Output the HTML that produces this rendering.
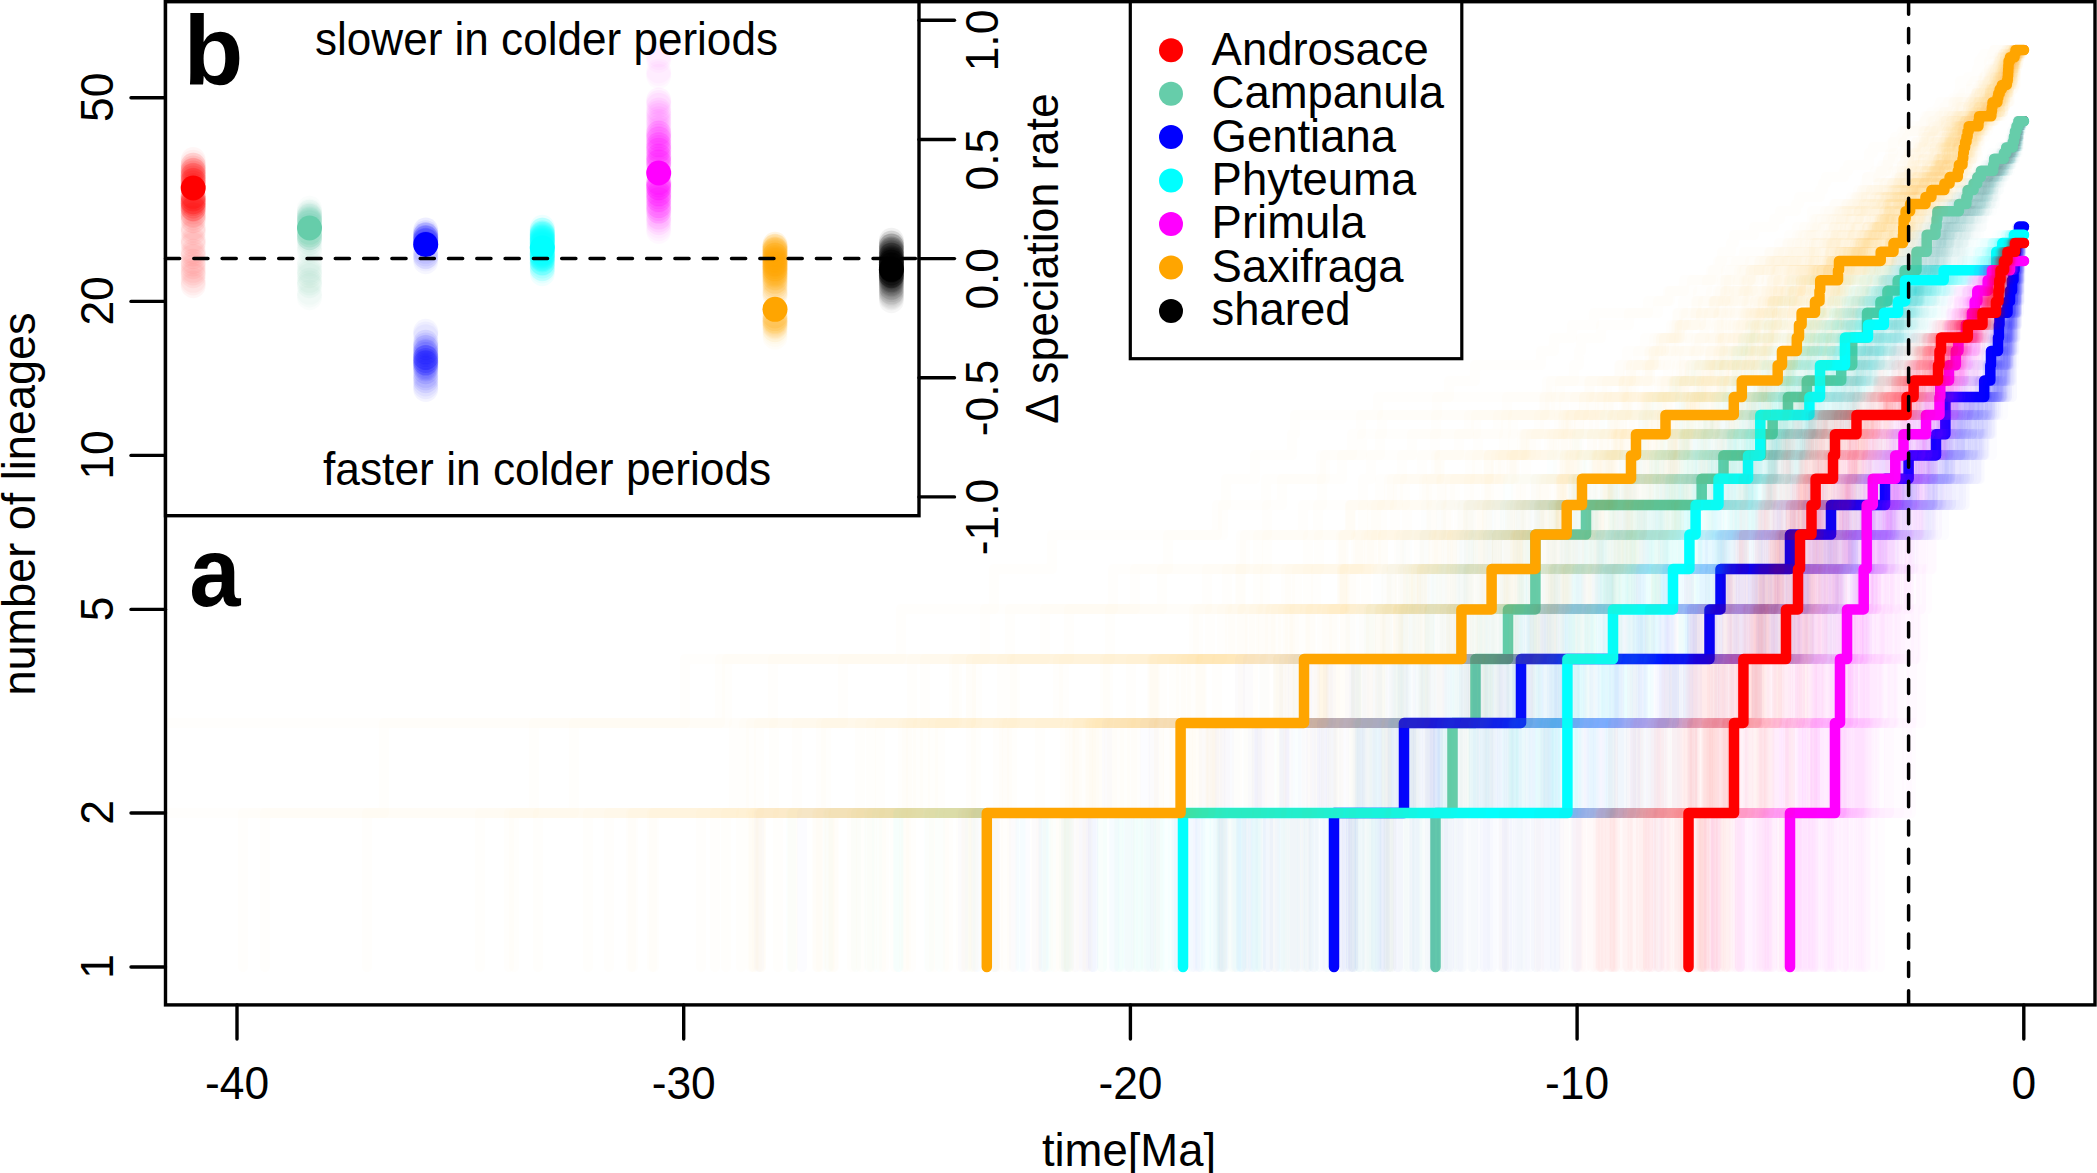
<!DOCTYPE html>
<html lang="en"><head><meta charset="utf-8"><title>Lineages through time</title>
<style>html,body{margin:0;padding:0;background:#fff}svg{display:block}</style></head>
<body>
<svg width="2097" height="1173" viewBox="0 0 2097 1173">
<rect width="2097" height="1173" fill="#fff"/>
<defs><clipPath id="cp"><rect x="167" y="4" width="1926" height="999"/></clipPath></defs>
<g clip-path="url(#cp)" fill="none" stroke-linecap="round" stroke-linejoin="round" stroke-width="10.5">
<g stroke="#66CDAA" stroke-opacity="0.012">
<path d="M1427 967v-154h62v-90h8v-64h19v-50h52v-40h10v-34h10v-30h98v-26h52v-24h34v-21h18v-19h18v-18h42v-16h3v-16h12v-14h39v-38h6v-12h7v-21h2v-10h14v-18h8v-17h3v-8h5v-8h4v-8h26v-7h5v-14h2v-13h5v-6h13v-6h2v-6h3v-6h2v-6h6v-16h3v-10h4"/>
<path d="M1360 967v-154h12v-90h33v-64h37v-50h13v-40h2v-34h121v-30h27v-26h36v-24h35v-21h4v-19h58v-18h32v-16h43v-16h31v-14h3v-13h10v-25h17v-12h9v-21h12v-10h8v-9h7v-9h15v-17h3v-8h24v-8h4v-8h3v-7h3v-14h11v-7h2v-6h3v-6h7v-6h6v-6h11v-6h3v-6h7v-10h3v-11h3v-5h6"/>
<path d="M1556 967v-154h57v-90h5v-64h20v-50h10v-40h40v-34h22v-30h68v-26h36v-24h19v-21h3v-19h19v-18h5v-16h37v-16h17v-14h4v-13h3v-25h3v-12h11v-10h17v-11h3v-10h7v-18h2v-17h6v-8h11v-8h2v-8h5v-7h2v-7h3v-14h6v-6h3v-6h6v-12h7v-12h3v-16h2v-10h4"/>
<path d="M1430 967v-154h8v-90h14v-114h16v-40h26v-34h41v-30h218v-26h4v-24h4v-21h18v-19h4v-18h36v-16h2v-16h11v-14h21v-13h15v-13h2v-12h28v-22h13v-11h4v-10h8v-9h10v-9h2v-9h2v-8h9v-8h4v-8h4v-8h3v-7h22v-7h2v-14h3v-6h2v-6h9v-6h13v-12h3v-6h4v-10h2v-11h3v-5h4"/>
<path d="M1288 967v-154h12v-90h56v-64h23v-50h13v-40h105v-34h99v-30h36v-26h75v-24h23v-21h6v-19h29v-18h9v-16h57v-16h29v-14h6v-13h11v-25h4v-22h2v-11h20v-10h12v-9h2v-26h13v-8h13v-8h6v-8h3v-7h14v-7h5v-7h10v-7h4v-6h3v-6h6v-12h7v-6h10v-11h2v-11h5v-5h2v-5h4"/>
<path d="M1285 967v-154h51v-90h20v-64h91v-50h38v-40h102v-34h28v-30h8v-26h50v-24h62v-21h9v-19h7v-18h31v-16h7v-16h23v-14h5v-13h3v-13h20v-12h22v-12h23v-10h10v-11h22v-10h4v-9h3v-9h12v-17h4v-16h3v-8h6v-7h8v-7h11v-7h3v-13h13v-6h14v-6h2v-12h12v-11h3v-11h2v-10h7"/>
<path d="M1443 967v-154h53v-90h7v-64h30v-50h25v-40h17v-34h42v-30h114v-26h24v-24h14v-21h31v-19h7v-18h41v-16h4v-16h14v-14h18v-13h11v-13h4v-12h6v-12h2v-10h9v-21h3v-18h2v-9h14v-8h5v-8h4v-8h18v-8h4v-7h3v-7h4v-7h7v-7h6v-6h3v-6h9v-12h11v-6h2v-11h6v-16h3v-5h4"/>
<path d="M1410 967v-154h17v-90h61v-64h41v-50h24v-40h12v-34h32v-30h104v-26h11v-24h53v-21h8v-19h28v-18h7v-16h43v-16h7v-14h3v-13h16v-13h20v-12h3v-12h5v-10h2v-11h12v-10h7v-9h3v-9h12v-17h9v-8h9v-8h6v-8h5v-14h12v-14h4v-6h9v-6h2v-6h9v-18h9v-5h2v-11h3v-10h4"/>
<path d="M1409 967v-154h81v-154h13v-50h6v-40h15v-34h62v-30h124v-26h16v-24h49v-21h35v-19h10v-18h3v-16h38v-16h6v-14h3v-13h11v-13h6v-12h11v-22h17v-11h2v-10h10v-9h9v-9h9v-9h5v-8h3v-8h8v-16h13v-7h6v-7h6v-7h4v-7h4v-6h4v-6h2v-6h4v-6h4v-6h3v-6h3v-5h2v-5h2v-16h6"/>
<path d="M1270 967v-154h115v-90h11v-64h10v-50h36v-40h42v-34h7v-30h131v-26h8v-24h66v-21h6v-19h49v-18h20v-16h13v-16h34v-14h17v-13h13v-13h9v-12h20v-12h3v-10h6v-11h9v-10h6v-9h11v-18h5v-8h15v-8h3v-8h5v-8h13v-7h21v-14h2v-7h10v-6h3v-6h10v-6h4v-12h3v-6h8v-16h4v-10h6"/>
<path d="M1370 967v-244h24v-64h6v-50h100v-40h19v-34h44v-30h64v-26h117v-24h30v-21h4v-19h6v-18h33v-16h3v-30h2v-13h8v-13h7v-12h7v-12h55v-10h2v-11h12v-10h2v-18h8v-9h4v-8h8v-8h14v-8h3v-8h9v-7h7v-14h5v-7h6v-12h16v-6h3v-6h7v-6h8v-6h2v-10h2v-11h2v-5h5"/>
<path d="M1555 967v-154h2v-90h17v-64h2v-50h54v-40h34v-34h13v-30h92v-26h4v-24h42v-21h33v-19h21v-18h4v-16h30v-30h3v-13h6v-13h5v-24h3v-10h15v-11h6v-10h6v-9h3v-9h2v-9h12v-8h2v-16h7v-8h6v-7h4v-7h5v-7h3v-13h6v-6h9v-12h6v-6h3v-6h2v-10h2v-11h2v-5h3"/>
<path d="M1328 967v-154h32v-90h17v-64h24v-50h2v-40h4v-34h90v-30h76v-26h104v-24h29v-21h8v-19h38v-18h47v-16h4v-16h16v-14h16v-13h10v-13h5v-12h18v-12h4v-10h11v-11h6v-10h6v-9h2v-9h7v-17h19v-8h6v-8h4v-8h24v-7h7v-7h2v-14h15v-6h8v-6h11v-12h2v-6h6v-6h6v-10h2v-6h2v-10h6"/>
<path d="M1547 967v-154h5v-90h7v-64h60v-50h6v-40h44v-34h24v-30h31v-26h47v-24h56v-21h18v-19h17v-18h18v-32h14v-14h3v-13h2v-25h7v-12h25v-10h3v-11h18v-10h6v-18h2v-9h3v-8h3v-8h3v-16h11v-7h15v-14h4v-7h2v-6h2v-6h2v-6h4v-6h3v-12h6v-16h3v-10h3"/>
<path d="M1389 967v-154h3v-90h31v-64h10v-50h36v-40h58v-34h62v-30h95v-26h17v-24h18v-21h39v-37h65v-16h17v-16h4v-14h9v-13h3v-13h24v-12h10v-12h14v-10h2v-11h7v-10h2v-9h4v-9h18v-9h6v-8h7v-8h5v-8h4v-15h12v-14h5v-13h6v-6h18v-6h2v-6h4v-6h2v-6h8v-16h2v-5h2v-5h4"/>
<path d="M1443 967v-154h45v-90h8v-64h5v-50h30v-40h4v-34h37v-30h143v-26h19v-24h54v-40h3v-18h11v-16h68v-30h5v-13h13v-13h14v-12h10v-22h20v-21h2v-18h14v-9h2v-16h6v-8h4v-8h21v-14h3v-14h6v-12h11v-6h3v-12h8v-11h6v-21h6"/>
<path d="M1485 967v-154h31v-90h11v-64h39v-50h45v-40h23v-34h20v-30h82v-26h37v-45h77v-19h5v-18h19v-32h8v-14h22v-13h6v-13h5v-12h10v-12h9v-10h10v-21h4v-9h3v-9h7v-17h3v-16h7v-8h11v-7h7v-7h3v-7h5v-13h8v-12h4v-6h5v-6h4v-6h3v-16h2v-5h2v-5h2"/>
<path d="M1347 967v-154h24v-90h18v-64h34v-50h6v-40h59v-34h39v-30h171v-26h6v-24h4v-21h33v-19h34v-18h8v-16h7v-16h26v-14h6v-13h24v-13h2v-12h8v-12h29v-10h4v-11h5v-19h8v-9h10v-9h17v-8h5v-8h8v-8h7v-8h6v-7h8v-7h8v-14h7v-6h11v-6h10v-6h3v-6h5v-6h2v-6h3v-5h3v-11h2v-10h7"/>
<path d="M1372 967v-154h15v-90h19v-64h8v-50h48v-40h117v-34h98v-30h36v-26h7v-24h23v-21h23v-19h43v-18h37v-32h9v-14h28v-13h5v-13h13v-12h7v-12h6v-10h6v-11h5v-10h16v-18h2v-17h3v-8h5v-8h6v-8h4v-7h3v-7h15v-7h5v-7h3v-6h12v-6h3v-12h6v-6h6v-11h3v-11h2v-10h5"/>
<path d="M1536 967v-154h45v-90h5v-64h13v-50h16v-40h48v-34h2v-30h123v-26h12v-24h21v-21h28v-19h6v-18h11v-16h38v-16h5v-14h11v-13h2v-13h4v-24h6v-10h4v-11h10v-10h13v-9h4v-18h3v-8h9v-16h2v-8h8v-7h6v-7h4v-7h4v-13h6v-12h5v-6h4v-12h3v-5h2v-16h2v-5h3"/>
<path d="M1403 967v-154h13v-90h54v-64h61v-50h64v-40h4v-34h84v-30h42v-26h12v-24h39v-21h26v-19h14v-18h40v-16h2v-16h14v-14h19v-26h9v-12h6v-12h7v-10h18v-11h2v-10h6v-9h5v-18h5v-16h12v-8h9v-8h6v-7h2v-14h12v-13h2v-6h8v-6h7v-6h4v-12h5v-10h2v-6h2v-10h4"/>
<path d="M1472 967v-154h17v-90h46v-64h26v-50h39v-40h3v-34h12v-30h86v-26h85v-24h4v-21h7v-19h9v-18h40v-16h11v-16h18v-14h20v-13h5v-13h4v-12h3v-12h14v-10h16v-11h2v-10h4v-9h4v-18h5v-8h9v-8h7v-16h5v-14h9v-7h9v-13h2v-6h13v-6h2v-6h2v-6h3v-6h4v-21h3v-5h4"/>
<path d="M1463 967v-154h32v-90h24v-64h24v-50h34v-40h34v-34h29v-30h108v-26h4v-24h5v-21h13v-19h31v-18h34v-16h21v-16h13v-14h14v-13h18v-25h6v-12h11v-10h6v-11h2v-19h16v-9h4v-9h2v-8h12v-24h13v-7h11v-7h3v-7h2v-13h5v-6h9v-6h2v-6h3v-6h3v-6h3v-10h5v-16h5"/>
<path d="M1215 967v-154h33v-90h108v-64h31v-50h45v-40h44v-34h59v-30h46v-26h43v-24h48v-21h72v-19h13v-18h7v-16h21v-16h21v-14h18v-13h3v-13h34v-12h4v-12h5v-10h9v-11h14v-10h3v-9h17v-9h14v-9h9v-8h4v-16h4v-8h8v-7h3v-7h6v-7h15v-7h3v-6h11v-12h2v-6h9v-6h5v-6h6v-10h3v-11h3v-5h6"/>
<path d="M1327 967v-154h104v-90h42v-64h9v-90h58v-34h26v-30h135v-26h3v-24h23v-21h26v-19h5v-18h72v-16h14v-16h9v-14h11v-13h12v-13h16v-24h6v-10h10v-11h2v-10h12v-18h6v-9h8v-8h7v-16h11v-15h13v-7h4v-7h11v-13h8v-6h5v-6h3v-6h12v-6h2v-6h3v-5h2v-21h7"/>
<path d="M1286 967v-154h73v-90h99v-64h37v-50h3v-40h55v-64h149v-26h19v-24h11v-21h28v-19h10v-18h31v-16h21v-16h42v-14h7v-13h11v-13h4v-12h9v-22h3v-11h2v-10h22v-18h3v-9h8v-8h6v-8h4v-16h14v-7h15v-7h7v-7h3v-7h6v-12h9v-6h2v-12h12v-6h5v-10h3v-16h5"/>
<path d="M1492 967v-154h75v-154h16v-50h5v-40h7v-34h5v-30h70v-26h58v-24h47v-21h19v-19h10v-18h3v-16h69v-16h3v-27h18v-13h9v-12h9v-12h9v-10h5v-11h6v-19h5v-18h4v-8h8v-8h3v-8h6v-8h14v-7h6v-7h6v-7h4v-13h3v-6h6v-6h9v-6h5v-12h4v-21h3v-5h3"/>
<path d="M1452 967v-154h35v-90h17v-64h14v-50h37v-40h46v-34h57v-30h63v-26h5v-24h62v-21h18v-19h13v-18h31v-16h21v-16h2v-14h3v-13h35v-13h2v-12h7v-22h3v-11h14v-10h3v-9h5v-9h4v-17h3v-8h5v-8h21v-8h3v-7h3v-7h3v-14h7v-6h4v-6h2v-6h5v-12h8v-6h3v-5h2v-16h2v-5h4"/>
<path d="M1220 967v-154h136v-90h71v-64h18v-50h10v-40h6v-34h8v-30h145v-26h54v-24h30v-21h27v-19h7v-18h6v-16h41v-16h23v-14h29v-13h6v-25h20v-12h28v-21h11v-19h3v-9h3v-9h8v-8h14v-8h13v-8h8v-8h2v-7h4v-7h9v-7h7v-7h4v-6h8v-6h9v-6h7v-6h7v-12h12v-10h2v-11h2v-5h6"/>
<path d="M1367 967v-154h16v-90h16v-64h4v-50h2v-40h19v-34h64v-30h110v-26h62v-24h25v-21h30v-19h58v-18h20v-16h15v-16h23v-14h17v-13h2v-13h4v-12h25v-22h4v-11h34v-10h5v-18h3v-9h6v-8h6v-16h15v-8h2v-7h7v-7h14v-7h10v-13h2v-6h7v-6h4v-6h9v-6h4v-6h3v-5h2v-5h2v-11h2v-5h4"/>
<path d="M1400 967v-154h47v-90h39v-64h48v-50h68v-40h45v-34h2v-30h93v-26h25v-24h46v-21h10v-19h21v-18h12v-16h4v-16h19v-27h17v-13h10v-12h5v-12h7v-10h2v-11h2v-10h5v-9h7v-9h4v-9h12v-8h4v-8h9v-8h9v-8h8v-7h4v-7h2v-14h8v-6h4v-6h3v-12h9v-6h3v-11h2v-5h3v-11h3v-5h3"/>
<path d="M1266 967v-154h94v-90h21v-64h43v-50h56v-40h12v-34h16v-30h78v-26h53v-24h62v-21h32v-19h13v-18h55v-16h6v-16h2v-14h6v-13h30v-13h3v-12h27v-12h8v-10h2v-11h9v-10h2v-9h17v-9h13v-9h7v-8h10v-16h3v-8h15v-7h2v-7h8v-7h4v-7h8v-6h3v-6h6v-6h6v-6h4v-6h2v-6h10v-16h4v-10h6"/>
<path d="M1504 967v-154h5v-90h28v-64h41v-50h31v-40h30v-34h20v-30h62v-26h67v-24h5v-21h19v-19h28v-18h6v-16h16v-16h34v-14h9v-26h9v-12h4v-12h2v-10h6v-11h9v-10h11v-18h3v-17h19v-8h8v-16h11v-7h3v-7h2v-7h2v-7h4v-6h3v-6h7v-6h3v-6h2v-6h3v-6h3v-21h2v-5h3"/>
<path d="M1447 967v-154h24v-90h18v-64h18v-50h36v-40h21v-34h68v-30h76v-26h57v-24h8v-21h38v-19h27v-18h2v-32h20v-14h10v-26h24v-12h5v-22h2v-11h26v-10h16v-9h3v-9h2v-17h5v-16h2v-8h11v-7h15v-14h4v-7h4v-6h9v-6h2v-6h2v-6h4v-6h7v-6h2v-10h3v-11h3v-5h3"/>
<path d="M1503 967v-154h41v-90h62v-64h7v-50h2v-40h32v-34h10v-30h71v-26h32v-24h28v-21h43v-19h6v-18h7v-16h15v-16h14v-14h18v-13h6v-13h4v-24h12v-10h18v-11h6v-10h9v-9h14v-18h3v-8h2v-8h4v-8h4v-8h8v-7h8v-14h4v-7h2v-6h3v-6h6v-12h7v-6h5v-6h2v-16h3v-10h3"/>
<path d="M1417 967v-154h62v-90h4v-64h43v-50h24v-40h79v-34h15v-30h66v-26h21v-24h50v-21h2v-19h24v-18h34v-16h15v-16h18v-27h10v-13h27v-24h10v-10h2v-11h2v-10h9v-9h3v-9h5v-17h3v-16h10v-8h4v-7h9v-7h6v-7h12v-7h3v-6h4v-6h10v-6h2v-6h3v-6h3v-6h5v-5h2v-11h2v-10h4"/>
<path d="M1476 967v-154h53v-90h53v-64h8v-50h22v-40h32v-34h18v-30h50v-26h63v-24h34v-21h11v-19h12v-18h18v-16h13v-16h3v-14h34v-13h5v-13h2v-12h13v-12h5v-21h8v-10h9v-9h4v-9h9v-9h3v-8h6v-8h6v-16h5v-7h6v-7h10v-14h2v-12h14v-6h4v-12h3v-11h5v-16h3v-5h2"/>
<path d="M1295 967v-154h135v-90h23v-64h32v-50h22v-40h8v-64h150v-26h48v-24h7v-21h10v-19h3v-18h84v-16h3v-16h3v-14h29v-13h14v-13h8v-12h7v-12h27v-21h2v-10h5v-9h4v-9h10v-17h3v-8h2v-8h13v-8h17v-7h13v-14h2v-7h2v-6h3v-6h2v-6h9v-6h8v-6h6v-6h3v-5h3v-5h2v-6h2v-10h5"/>
<path d="M1388 967v-154h23v-90h12v-64h6v-50h4v-40h13v-34h16v-30h189v-26h47v-24h27v-21h36v-19h6v-18h15v-16h22v-16h10v-14h25v-13h3v-13h14v-12h2v-12h27v-10h11v-11h7v-10h2v-9h10v-18h2v-8h25v-8h4v-16h8v-7h5v-7h13v-7h5v-7h3v-6h15v-18h10v-12h8v-5h2v-5h3v-11h3v-5h3"/>
<path d="M1360 967v-154h14v-90h8v-64h32v-50h64v-40h19v-34h56v-30h73v-26h133v-24h9v-21h7v-19h28v-34h11v-16h20v-14h27v-13h4v-25h2v-12h5v-10h10v-11h36v-10h6v-9h2v-18h10v-8h14v-8h9v-8h4v-8h2v-7h6v-7h10v-7h6v-7h2v-6h5v-12h7v-6h4v-6h4v-6h5v-5h2v-11h2v-10h6"/>
<path d="M1377 967v-154h76v-90h16v-64h4v-50h44v-40h4v-64h140v-26h87v-24h7v-21h9v-19h21v-18h4v-16h53v-16h33v-14h5v-13h6v-13h6v-12h19v-12h3v-10h7v-21h6v-9h2v-9h3v-9h5v-8h4v-8h12v-8h3v-8h13v-7h5v-7h2v-7h9v-13h4v-6h4v-6h10v-12h3v-6h7v-5h3v-5h2v-11h3v-5h3"/>
<path d="M1353 967v-154h39v-90h10v-64h28v-50h103v-40h17v-34h29v-30h109v-26h32v-24h55v-21h10v-19h28v-18h6v-16h35v-16h4v-14h21v-26h2v-12h2v-12h20v-10h2v-11h13v-10h4v-9h9v-9h4v-9h5v-8h3v-8h3v-8h6v-8h22v-14h3v-7h12v-13h2v-6h6v-6h8v-6h4v-6h2v-6h5v-16h3v-5h2v-5h3"/>
<path d="M1439 967v-154h13v-90h12v-64h67v-50h22v-40h42v-34h30v-30h54v-26h78v-24h2v-21h17v-19h7v-18h20v-16h58v-30h5v-26h21v-12h10v-12h7v-10h5v-11h9v-10h4v-18h12v-9h6v-8h10v-8h5v-8h6v-8h3v-7h7v-7h2v-7h14v-7h5v-6h2v-6h8v-12h5v-6h4v-6h5v-16h2v-5h2v-5h4"/>
<path d="M1385 967v-154h59v-90h42v-64h11v-50h66v-40h26v-34h4v-30h98v-26h32v-24h45v-21h27v-19h8v-18h43v-16h7v-16h2v-14h13v-13h7v-13h14v-12h10v-12h4v-10h15v-11h2v-10h7v-9h4v-9h7v-9h4v-16h15v-8h5v-8h5v-7h11v-7h5v-7h6v-13h3v-6h4v-6h10v-6h3v-12h7v-10h2v-11h2v-5h4"/>
<path d="M1175 967v-154h60v-90h29v-64h97v-50h17v-40h23v-34h25v-30h165v-26h42v-24h2v-21h8v-19h37v-18h56v-16h7v-16h29v-14h38v-26h29v-12h17v-12h6v-10h9v-11h4v-10h22v-9h10v-18h7v-8h4v-8h3v-8h6v-8h4v-7h14v-7h9v-14h4v-6h3v-6h17v-6h11v-6h8v-6h3v-6h12v-16h2v-5h4v-5h6"/>
<path d="M1314 967v-154h3v-90h44v-64h27v-50h30v-40h114v-34h60v-30h76v-26h7v-24h11v-21h68v-19h29v-18h27v-16h13v-16h6v-14h15v-13h2v-13h6v-12h10v-12h13v-10h15v-21h9v-9h7v-9h16v-9h9v-8h8v-8h3v-23h24v-14h3v-7h7v-6h8v-6h9v-6h9v-12h4v-6h6v-10h4v-11h2v-5h6"/>
<path d="M1438 967v-154h110v-90h50v-64h7v-50h4v-40h39v-34h61v-30h41v-26h48v-24h5v-21h18v-19h31v-18h3v-16h24v-16h9v-14h3v-13h24v-13h8v-12h8v-12h3v-10h2v-11h2v-10h16v-9h5v-9h2v-9h3v-24h6v-8h11v-7h5v-7h2v-7h2v-7h2v-6h12v-12h4v-6h3v-12h5v-10h3v-16h5"/>
<path d="M1406 967v-154h68v-90h43v-64h35v-50h22v-40h30v-34h54v-30h73v-26h26v-24h28v-21h17v-19h34v-18h45v-16h3v-16h12v-14h3v-50h9v-10h10v-11h21v-19h3v-9h3v-9h4v-8h2v-8h15v-8h7v-15h9v-7h3v-7h3v-13h6v-6h9v-6h6v-6h2v-12h4v-10h3v-11h2v-5h4"/>
<path d="M1243 967v-154h114v-90h37v-64h22v-50h51v-40h21v-34h55v-30h136v-26h17v-24h17v-21h2v-19h44v-18h24v-16h22v-16h32v-14h9v-13h9v-13h2v-12h6v-12h16v-10h2v-11h4v-10h12v-9h12v-9h16v-9h8v-8h3v-8h2v-8h9v-8h3v-7h9v-7h19v-7h5v-13h7v-12h2v-6h12v-6h4v-6h4v-5h2v-5h3v-11h3v-5h4"/>
<path d="M1522 967v-154h20v-90h17v-64h67v-50h6v-40h13v-34h11v-30h72v-26h14v-24h41v-21h62v-19h5v-18h10v-16h15v-16h7v-14h2v-13h36v-13h7v-12h2v-12h6v-10h2v-39h21v-9h4v-8h4v-8h6v-8h9v-8h8v-7h2v-14h2v-7h6v-12h9v-18h9v-16h2v-11h2v-5h3"/>
<path d="M1375 967v-154h40v-90h7v-64h69v-50h5v-40h9v-34h20v-30h87v-26h30v-24h91v-21h21v-19h8v-18h8v-16h62v-16h7v-14h3v-13h7v-13h6v-12h17v-12h5v-10h11v-11h11v-10h20v-9h3v-9h2v-17h17v-8h3v-8h6v-8h3v-7h3v-7h9v-7h12v-7h7v-12h12v-6h2v-6h9v-6h3v-6h2v-5h4v-16h4v-5h4"/>
<path d="M1452 967v-154h24v-90h35v-64h38v-50h28v-40h4v-34h84v-30h32v-26h80v-24h23v-21h10v-37h4v-16h16v-16h22v-14h23v-13h4v-13h12v-12h7v-12h19v-10h7v-21h7v-9h4v-18h7v-16h5v-8h11v-8h13v-7h11v-7h3v-14h2v-6h4v-6h11v-6h3v-6h7v-6h2v-6h2v-5h2v-16h3v-5h3"/>
<path d="M1385 967v-154h39v-90h77v-64h51v-50h4v-40h60v-34h26v-30h78v-26h15v-24h41v-21h19v-19h4v-18h31v-16h36v-16h11v-14h11v-13h8v-13h15v-12h2v-12h4v-10h11v-21h4v-9h7v-9h9v-17h5v-8h10v-8h4v-8h4v-7h2v-7h8v-20h7v-6h15v-6h2v-6h6v-6h3v-6h3v-10h2v-16h5"/>
<path d="M1376 967v-154h137v-90h7v-64h21v-50h60v-74h27v-30h82v-26h62v-24h10v-21h4v-19h34v-18h12v-16h36v-16h4v-14h8v-13h7v-13h6v-12h13v-12h9v-10h12v-11h3v-19h4v-9h9v-9h8v-8h2v-8h4v-8h3v-8h17v-7h4v-7h4v-7h3v-7h3v-6h2v-6h11v-18h6v-6h5v-10h3v-6h2v-10h4"/>
<path d="M1275 967v-154h168v-90h5v-64h4v-50h8v-40h53v-34h73v-30h94v-26h12v-24h25v-21h30v-19h4v-18h8v-16h83v-16h2v-14h2v-13h13v-13h11v-12h2v-12h4v-10h9v-11h12v-19h14v-9h7v-9h2v-8h9v-8h3v-8h9v-8h28v-14h3v-14h6v-6h11v-6h14v-12h5v-6h2v-6h4v-16h3v-5h2v-5h5"/>
<path d="M1432 967v-154h26v-90h4v-64h46v-50h36v-40h55v-34h49v-30h125v-26h12v-45h16v-19h43v-18h13v-16h2v-16h2v-14h34v-13h4v-13h8v-12h11v-22h8v-11h3v-10h20v-9h3v-9h2v-17h3v-8h6v-16h17v-7h6v-7h2v-14h6v-6h7v-6h3v-6h3v-6h4v-6h2v-6h4v-10h2v-11h2v-5h3"/>
<path d="M1368 967v-154h140v-90h4v-64h26v-50h26v-40h43v-34h72v-30h30v-26h49v-24h9v-21h27v-19h39v-18h6v-16h8v-16h15v-14h6v-13h4v-13h7v-12h6v-12h21v-10h4v-11h26v-10h5v-9h2v-9h2v-9h5v-8h3v-8h6v-8h7v-15h17v-14h2v-7h6v-6h5v-6h4v-6h3v-6h8v-6h3v-11h2v-5h2v-11h3v-5h3"/>
<path d="M1396 967v-154h32v-90h6v-64h4v-50h6v-40h20v-34h75v-30h87v-26h80v-24h27v-21h50v-37h37v-16h12v-16h5v-14h10v-26h3v-12h38v-12h6v-10h11v-21h5v-9h11v-9h17v-9h3v-8h4v-8h3v-16h10v-7h5v-7h2v-7h12v-7h3v-6h2v-6h16v-12h10v-12h7v-21h4v-5h5"/>
<path d="M1365 967v-154h67v-90h25v-64h18v-50h47v-40h51v-34h50v-30h8v-26h101v-24h8v-21h18v-19h17v-18h44v-16h29v-16h17v-14h3v-13h14v-13h12v-12h6v-12h14v-21h8v-10h7v-18h3v-9h13v-8h4v-8h3v-8h4v-8h10v-7h2v-7h4v-7h13v-7h3v-12h5v-6h3v-6h11v-12h7v-5h2v-5h2v-16h6"/>
<path d="M1536 967v-154h9v-90h30v-114h33v-40h5v-34h108v-30h31v-26h17v-24h19v-21h9v-19h15v-18h45v-16h31v-16h6v-27h5v-25h16v-12h4v-21h12v-10h3v-9h7v-9h14v-17h2v-16h17v-8h4v-7h5v-14h7v-7h3v-6h4v-6h7v-6h6v-6h2v-12h5v-10h2v-16h5"/>
<path d="M1359 967v-154h145v-90h8v-64h35v-50h49v-40h27v-34h4v-30h44v-26h106v-24h27v-21h5v-19h8v-18h2v-16h22v-16h6v-14h22v-13h26v-25h10v-12h2v-10h12v-11h12v-19h2v-9h9v-9h3v-8h2v-16h18v-8h13v-7h2v-21h9v-12h3v-6h10v-6h8v-6h2v-6h5v-21h3v-5h4"/>
<path d="M1351 967v-154h27v-90h26v-64h62v-50h3v-40h37v-34h9v-30h143v-26h68v-24h55v-21h3v-37h26v-16h9v-16h15v-14h5v-13h8v-13h25v-12h5v-12h4v-10h8v-11h3v-10h28v-9h3v-9h4v-9h8v-8h9v-8h8v-8h3v-8h12v-7h5v-7h7v-14h3v-6h6v-6h10v-6h6v-12h3v-6h5v-10h5v-11h2v-5h5"/>
<path d="M1409 967v-154h134v-90h5v-64h30v-50h8v-40h36v-34h7v-30h71v-26h55v-24h31v-21h31v-19h25v-18h13v-16h11v-16h14v-14h7v-13h8v-13h15v-12h3v-12h22v-10h2v-11h3v-28h8v-9h5v-8h4v-8h7v-8h6v-8h17v-14h6v-14h3v-6h2v-6h6v-6h3v-6h5v-6h4v-11h2v-11h3v-10h3"/>
<path d="M1454 967v-154h3v-90h31v-64h23v-50h44v-40h14v-34h27v-30h102v-26h35v-24h33v-21h10v-19h23v-18h6v-16h32v-16h11v-14h4v-13h23v-13h6v-12h7v-12h15v-21h5v-10h22v-9h5v-18h2v-8h8v-8h9v-16h16v-7h10v-14h2v-7h8v-6h2v-6h2v-12h11v-6h2v-6h8v-10h2v-11h2v-5h5"/>
<path d="M1517 967v-154h8v-90h101v-64h4v-90h26v-34h4v-30h128v-26h2v-24h17v-21h29v-19h39v-18h3v-16h13v-16h3v-14h4v-26h17v-12h23v-12h2v-10h11v-11h2v-10h7v-9h2v-18h3v-8h11v-8h2v-8h2v-8h7v-7h4v-7h5v-20h8v-6h4v-6h2v-12h8v-27h2v-5h4"/>
<path d="M1354 967v-154h8v-90h75v-64h45v-50h58v-40h12v-34h76v-30h10v-26h105v-24h30v-21h25v-19h12v-18h3v-16h10v-16h30v-14h14v-13h3v-13h10v-12h13v-12h5v-10h3v-21h11v-9h17v-18h11v-24h3v-8h15v-7h10v-14h18v-13h7v-6h3v-12h13v-12h2v-5h4v-5h3v-16h6"/>
<path d="M1383 967v-154h34v-90h45v-64h42v-50h43v-40h24v-34h18v-30h143v-26h46v-24h19v-21h11v-19h21v-18h4v-16h41v-30h4v-13h4v-13h8v-12h15v-12h11v-10h5v-11h7v-19h3v-9h5v-9h6v-8h10v-8h9v-8h3v-8h11v-14h3v-7h4v-13h16v-6h2v-6h2v-6h8v-6h3v-6h3v-10h2v-16h6"/>
<path d="M1389 967v-154h69v-90h53v-64h21v-50h61v-40h9v-34h16v-30h124v-26h2v-24h56v-21h7v-19h14v-18h9v-16h26v-16h7v-14h10v-13h6v-13h5v-24h16v-10h17v-11h17v-28h3v-9h4v-8h4v-8h12v-8h6v-8h10v-7h3v-14h2v-7h6v-6h13v-12h2v-6h11v-6h3v-6h3v-10h2v-11h2v-5h4"/>
<path d="M1356 967v-154h11v-90h39v-64h48v-50h77v-40h26v-34h12v-30h61v-26h137v-24h12v-21h19v-19h2v-18h32v-16h12v-16h21v-14h3v-13h18v-13h2v-24h6v-10h11v-11h9v-10h4v-18h5v-9h4v-8h14v-8h6v-8h7v-8h14v-7h2v-7h3v-7h10v-7h8v-6h4v-12h2v-6h10v-6h5v-6h3v-10h3v-11h2v-5h4"/>
<path d="M1473 967v-154h48v-90h30v-64h17v-50h42v-40h5v-34h23v-30h80v-26h39v-24h45v-21h9v-19h28v-18h11v-16h22v-16h16v-14h4v-13h12v-25h6v-12h9v-10h13v-21h10v-9h6v-9h8v-9h3v-8h3v-8h9v-8h6v-15h10v-7h7v-14h3v-6h3v-6h4v-6h3v-6h6v-12h4v-16h2v-10h5"/>
<path d="M1391 967v-154h4v-90h29v-64h61v-50h41v-40h4v-34h92v-30h14v-26h64v-24h31v-21h21v-19h41v-18h10v-16h7v-16h28v-14h15v-13h14v-13h4v-12h16v-12h7v-10h4v-11h16v-10h2v-9h2v-9h18v-9h8v-8h2v-8h2v-16h9v-7h15v-7h12v-20h2v-6h15v-12h8v-6h2v-6h5v-16h3v-10h5"/>
<path d="M1438 967v-154h50v-90h79v-64h10v-50h22v-40h21v-34h21v-30h35v-26h76v-24h21v-21h24v-19h54v-18h9v-16h11v-16h9v-14h5v-13h6v-13h22v-24h7v-10h2v-11h13v-10h3v-9h8v-9h2v-9h7v-8h2v-8h9v-8h3v-8h11v-7h5v-14h3v-7h4v-6h2v-6h9v-6h2v-6h5v-6h2v-6h6v-26h6"/>
<path d="M1380 967v-154h38v-90h47v-64h24v-50h41v-40h36v-34h6v-30h176v-26h10v-24h31v-21h8v-19h3v-18h40v-16h17v-30h26v-13h9v-13h7v-12h4v-12h16v-10h3v-11h2v-19h4v-9h10v-9h9v-8h9v-16h3v-8h4v-7h9v-7h10v-14h12v-12h5v-6h4v-6h7v-6h4v-6h2v-10h3v-11h2v-5h3"/>
<path d="M1444 967v-154h25v-90h26v-64h53v-50h20v-40h48v-34h9v-30h123v-26h24v-24h49v-21h16v-19h6v-18h5v-16h20v-16h2v-14h11v-13h12v-13h2v-12h4v-22h30v-21h17v-9h2v-9h2v-9h8v-8h8v-8h2v-16h9v-14h3v-7h5v-7h2v-6h11v-6h3v-6h5v-6h4v-6h2v-6h2v-5h3v-5h2v-11h2v-5h3"/>
<path d="M1391 967v-154h18v-90h64v-64h5v-50h41v-40h16v-34h24v-30h115v-26h9v-24h94v-21h6v-19h3v-18h5v-16h41v-16h14v-14h4v-26h8v-12h33v-12h14v-10h7v-11h13v-19h10v-9h4v-9h2v-16h3v-16h16v-7h14v-7h8v-20h8v-6h11v-12h11v-12h4v-21h4v-5h4"/>
<path d="M1459 967v-154h49v-90h10v-64h2v-50h39v-40h29v-34h6v-30h108v-26h14v-24h70v-21h11v-37h23v-32h54v-27h5v-13h2v-12h8v-12h4v-21h14v-10h26v-18h8v-9h5v-8h6v-8h3v-8h14v-8h2v-7h4v-7h3v-7h4v-13h13v-6h2v-6h6v-6h4v-12h9v-16h2v-5h3v-5h3"/>
<path d="M1260 967v-154h118v-154h80v-50h5v-40h6v-34h110v-30h34v-26h53v-24h25v-21h40v-19h7v-18h24v-16h14v-16h19v-14h33v-13h8v-13h8v-12h3v-12h32v-10h5v-11h20v-10h7v-9h4v-9h8v-9h3v-8h8v-8h2v-16h12v-7h20v-21h15v-6h4v-6h2v-6h7v-6h4v-6h10v-11h4v-11h2v-5h2v-5h6"/>
<path d="M1526 967v-154h23v-90h12v-64h4v-50h3v-40h86v-34h20v-30h80v-26h17v-24h27v-21h29v-19h29v-18h14v-16h2v-43h25v-13h10v-12h5v-22h7v-11h2v-10h19v-9h4v-9h9v-9h4v-8h11v-8h2v-16h12v-14h6v-7h2v-7h7v-12h5v-6h3v-6h2v-6h9v-11h2v-16h2v-5h4"/>
<path d="M1296 967v-154h76v-90h30v-64h28v-50h62v-40h11v-34h30v-30h130v-26h53v-24h40v-21h15v-19h20v-18h22v-16h9v-16h10v-14h17v-13h2v-13h15v-12h10v-12h9v-10h11v-11h14v-10h3v-9h8v-9h13v-9h5v-16h4v-8h7v-8h2v-7h13v-14h10v-7h2v-6h5v-6h16v-12h7v-6h5v-6h5v-16h3v-5h2v-5h4"/>
<path d="M1367 967v-154h94v-90h10v-64h19v-50h113v-40h24v-34h19v-30h104v-26h18v-24h4v-21h53v-19h7v-18h5v-16h20v-16h3v-14h22v-26h15v-12h7v-12h9v-10h6v-11h2v-19h4v-9h15v-9h7v-8h2v-8h2v-16h24v-14h8v-14h4v-6h9v-6h4v-12h10v-12h3v-5h4v-5h2v-11h2v-5h3"/>
<path d="M1424 967v-154h47v-90h84v-64h3v-50h25v-40h16v-34h43v-30h42v-26h85v-24h29v-21h7v-19h18v-18h19v-16h20v-30h5v-13h12v-13h28v-34h3v-11h2v-10h17v-9h7v-9h7v-9h4v-8h2v-8h12v-16h24v-7h2v-14h5v-13h3v-6h2v-6h8v-6h5v-12h6v-16h2v-5h3v-5h3"/>
<path d="M1461 967v-154h30v-90h14v-64h14v-50h16v-40h42v-34h111v-30h36v-26h41v-24h25v-21h23v-19h7v-18h2v-16h14v-16h29v-27h8v-13h18v-12h11v-12h4v-10h20v-11h11v-10h4v-27h15v-8h2v-16h4v-8h17v-7h2v-7h2v-7h10v-13h2v-6h4v-6h3v-6h7v-6h5v-6h3v-5h2v-21h5"/>
<path d="M1314 967v-154h124v-90h6v-114h2v-40h23v-34h71v-30h150v-26h44v-24h14v-21h5v-19h15v-18h25v-16h54v-16h3v-14h7v-13h7v-13h4v-24h2v-10h14v-11h13v-10h7v-9h14v-9h12v-9h9v-8h2v-8h2v-8h5v-8h27v-7h6v-14h3v-7h4v-12h3v-6h6v-6h4v-6h9v-6h4v-5h2v-11h2v-5h2v-5h4"/>
<path d="M1421 967v-154h69v-90h14v-64h14v-50h35v-40h10v-34h55v-30h73v-26h21v-24h8v-21h82v-19h4v-18h6v-16h8v-16h30v-14h11v-13h3v-13h11v-12h17v-12h14v-21h18v-10h5v-9h4v-18h5v-8h10v-16h5v-8h18v-7h7v-21h3v-6h4v-6h14v-12h9v-6h5v-11h3v-5h2v-11h2v-5h4"/>
<path d="M1234 967v-154h92v-90h30v-64h153v-50h10v-40h32v-34h16v-30h80v-26h26v-24h85v-21h2v-19h4v-34h3v-16h65v-27h21v-13h22v-12h8v-12h4v-10h14v-11h8v-10h3v-9h4v-9h5v-9h2v-8h12v-8h2v-16h14v-7h20v-14h4v-7h5v-6h8v-6h3v-6h3v-6h16v-12h5v-21h3v-5h6"/>
<path d="M1417 967v-154h33v-90h44v-64h32v-50h33v-40h77v-34h32v-30h100v-26h5v-24h18v-21h16v-19h21v-18h32v-16h8v-30h26v-26h10v-24h2v-10h5v-11h4v-10h14v-9h14v-18h5v-16h7v-16h29v-7h2v-7h2v-14h3v-12h12v-12h8v-12h2v-5h4v-16h4v-5h3"/>
<path d="M1388 967v-244h15v-64h8v-50h46v-40h59v-34h44v-30h74v-26h15v-24h75v-40h7v-18h34v-16h26v-16h8v-14h66v-13h13v-13h14v-12h6v-12h2v-10h11v-11h4v-10h13v-18h5v-9h8v-24h2v-8h21v-14h9v-7h12v-13h3v-6h11v-12h9v-12h4v-5h4v-16h3v-5h5"/>
<path d="M1568 967v-154h42v-90h2v-64h25v-50h20v-40h24v-34h88v-30h40v-26h24v-24h6v-21h3v-19h15v-18h27v-16h29v-30h8v-13h6v-13h10v-12h7v-12h4v-21h9v-10h10v-27h2v-8h10v-8h3v-8h2v-15h2v-7h2v-7h10v-7h4v-12h4v-6h4v-6h3v-12h5v-16h2v-5h2v-5h2"/>
<path d="M1298 967v-154h34v-90h23v-64h16v-50h16v-40h78v-34h6v-30h64v-26h117v-24h56v-21h14v-19h6v-18h46v-16h19v-16h13v-14h12v-13h3v-13h25v-12h3v-12h6v-10h17v-11h7v-10h22v-9h4v-9h11v-9h5v-8h9v-8h13v-8h4v-8h8v-7h2v-7h4v-7h3v-7h12v-6h4v-6h6v-6h5v-6h14v-6h6v-16h4v-6h3v-10h6"/>
<path d="M1520 967v-154h19v-90h25v-64h47v-50h2v-40h17v-34h7v-30h154v-26h39v-24h19v-21h18v-19h4v-34h21v-16h12v-14h2v-13h7v-13h5v-12h5v-22h2v-11h14v-10h12v-9h8v-9h2v-9h2v-16h10v-8h2v-8h17v-21h2v-7h6v-12h7v-12h6v-6h2v-6h4v-21h2v-5h3"/>
<path d="M1418 967v-154h42v-90h28v-64h6v-50h12v-40h28v-34h7v-30h107v-26h68v-24h61v-21h5v-19h10v-18h3v-16h2v-16h15v-14h16v-13h23v-13h10v-12h10v-12h9v-10h10v-11h19v-10h2v-9h8v-9h11v-9h3v-16h2v-8h11v-8h20v-7h7v-7h2v-7h4v-7h4v-6h5v-6h13v-12h6v-6h3v-6h6v-10h2v-11h2v-5h4"/>
<path d="M1414 967v-154h24v-90h43v-64h33v-50h8v-40h37v-34h14v-30h88v-26h55v-24h42v-21h12v-19h13v-18h16v-16h50v-16h8v-27h5v-13h17v-12h22v-12h4v-10h7v-11h10v-10h5v-9h4v-9h3v-9h4v-8h3v-16h13v-8h12v-7h2v-7h13v-7h2v-7h5v-6h6v-6h5v-12h5v-6h7v-6h4v-10h2v-11h3v-5h4"/>
<path d="M1443 967v-154h78v-90h27v-64h17v-50h15v-74h62v-30h126v-26h3v-24h7v-21h6v-19h5v-18h66v-16h8v-16h13v-14h13v-13h7v-13h2v-12h7v-12h8v-10h17v-11h2v-10h8v-9h3v-9h3v-9h3v-16h18v-8h4v-8h6v-14h9v-7h3v-13h3v-6h13v-6h6v-12h5v-6h2v-16h2v-10h4"/>
<path d="M1276 967v-154h138v-90h44v-64h11v-50h36v-40h39v-34h38v-30h118v-26h7v-24h15v-21h22v-19h58v-18h21v-16h9v-16h30v-14h10v-26h2v-12h6v-12h15v-10h14v-11h5v-10h21v-9h4v-9h5v-17h4v-8h2v-8h11v-8h10v-7h5v-7h10v-7h3v-13h7v-6h2v-6h3v-6h4v-6h5v-6h5v-5h2v-11h2v-10h5"/>
<path d="M1248 967v-154h9v-90h21v-64h72v-50h74v-40h50v-34h31v-30h69v-26h34v-24h85v-21h17v-19h28v-18h8v-16h25v-16h27v-14h8v-13h4v-13h30v-12h10v-12h9v-10h13v-11h2v-10h2v-9h5v-9h23v-9h4v-8h8v-8h13v-16h14v-7h12v-7h8v-7h7v-7h4v-6h9v-6h7v-6h2v-12h13v-6h5v-10h2v-6h4v-5h4v-5h4"/>
<path d="M1261 967v-154h100v-90h3v-64h95v-50h5v-40h22v-34h33v-30h96v-26h44v-24h24v-21h25v-19h35v-18h52v-32h2v-14h13v-13h4v-13h29v-12h13v-12h25v-10h5v-11h7v-10h6v-9h6v-9h3v-9h13v-8h4v-8h2v-8h22v-8h22v-14h3v-14h3v-6h6v-6h8v-6h4v-6h6v-6h3v-6h8v-5h3v-5h2v-11h2v-5h5"/>
<path d="M1314 967v-154h39v-90h44v-64h8v-50h16v-40h4v-34h16v-30h174v-26h58v-24h2v-21h50v-19h22v-18h20v-16h10v-16h13v-14h27v-13h25v-13h10v-12h11v-12h4v-10h16v-11h19v-10h5v-18h10v-17h8v-8h20v-23h13v-7h9v-7h12v-13h2v-6h6v-6h10v-6h5v-6h4v-6h8v-5h2v-11h2v-10h6"/>
<path d="M1509 967v-154h35v-90h12v-64h17v-50h50v-40h64v-34h24v-30h61v-26h46v-24h15v-21h12v-19h11v-18h23v-16h24v-30h12v-26h5v-12h4v-12h15v-10h6v-11h3v-19h8v-9h15v-9h2v-16h9v-23h12v-14h2v-13h4v-6h10v-6h2v-6h3v-6h2v-11h2v-16h2v-5h3"/>
<path d="M1371 967v-154h32v-90h57v-64h8v-50h87v-40h10v-64h100v-26h28v-24h86v-21h11v-19h9v-18h42v-32h6v-14h21v-13h2v-13h19v-24h15v-10h8v-11h6v-10h2v-9h2v-9h11v-9h4v-8h9v-8h10v-8h3v-8h13v-7h6v-14h8v-19h2v-6h13v-6h5v-6h2v-6h7v-10h2v-11h3v-5h4"/>
<path d="M1434 967v-154h39v-90h36v-64h2v-50h62v-40h25v-34h54v-30h118v-26h4v-24h32v-40h5v-18h36v-16h19v-16h14v-14h13v-13h8v-13h10v-12h6v-12h2v-10h8v-11h2v-10h10v-18h11v-9h11v-8h8v-8h2v-8h11v-8h3v-14h8v-14h2v-6h2v-12h4v-6h9v-6h4v-6h3v-16h2v-5h2v-5h3"/>
</g>
<path stroke="#66CDAA" d="M1435.5 967V813H1452.5V722.9H1475.5V659H1508V609.4H1535.4V534.6H1586V505H1701.7V478.8H1723.5V455.4H1761V434.2H1772.6V414.9H1788V397.1H1806.8V380.6H1841.2V365.3H1852.2V337.5H1867V312.8H1880.5V301.4H1887.5V290.6H1897.7V280.2H1904.6V270.3H1916.5V251.8H1926.7V234.7H1935.5V226.6H1936.6V218.8H1937.4V211.3H1959V204H1966.4V197H1967.6V190.1H1973.6V183.5H1977.3V177.1H1980.9V170.8H1993.2V164.7H1994.1V158.8H2003.9V153H2006.2V147.4H2012.8V141.9H2013.9V136.5H2015V131.3H2016.5V126.2H2018.4V121.2H2024"/>
<g stroke="#0000FF" stroke-opacity="0.012">
<path d="M1253 967v-154h69v-90h32v-64h316v-50h40v-40h79v-34h56v-30h16v-26h42v-24h32v-21h15v-19h25v-18h13v-16h7v-16h3v-27h6v-13h2v-12h4v-12h2v-21h2v-19h2v-18h3v-16h5"/>
<path d="M1076 967v-154h138v-90h70v-64h261v-50h199v-40h52v-34h50v-30h6v-26h54v-24h21v-21h6v-19h16v-18h35v-16h4v-30h4v-13h2v-13h8v-12h5v-22h3v-11h2v-19h3v-18h3v-16h6"/>
<path d="M1525 967v-154h9v-90h86v-64h158v-50h77v-40h15v-64h67v-26h10v-24h28v-21h3v-37h28v-46h6v-13h2v-25h2v-22h2v-30h2v-26h2v-8h2"/>
<path d="M1251 967v-154h304v-90h77v-64h195v-50h14v-40h42v-34h5v-30h41v-26h30v-24h14v-21h9v-37h15v-32h6v-27h3v-13h2v-12h7v-12h2v-10h2v-48h2v-16h3"/>
<path d="M1086 967v-154h274v-90h187v-64h16v-50h254v-40h9v-34h6v-30h80v-26h31v-45h18v-19h7v-18h10v-16h11v-16h5v-27h9v-13h2v-12h4v-22h6v-30h3v-26h4v-8h2"/>
<path d="M1380 967v-154h209v-90h76v-64h145v-50h17v-40h56v-34h54v-30h27v-26h12v-24h9v-21h2v-19h8v-18h12v-16h4v-30h2v-26h3v-24h3v-40h2v-34h3"/>
<path d="M1449 967v-154h186v-90h53v-64h30v-50h34v-40h101v-34h66v-30h14v-26h13v-24h22v-21h2v-37h29v-16h3v-16h5v-27h2v-25h6v-22h3v-21h2v-35h2v-8h2"/>
<path d="M1149 967v-154h266v-90h113v-64h137v-50h2v-40h87v-34h60v-30h69v-26h18v-24h30v-21h2v-19h46v-18h5v-16h10v-16h8v-14h4v-26h3v-12h2v-22h2v-11h3v-19h2v-26h2v-8h4"/>
<path d="M1353 967v-154h82v-90h63v-64h262v-50h7v-40h26v-34h111v-30h11v-26h21v-24h12v-21h27v-19h3v-18h18v-16h10v-30h3v-26h3v-24h4v-21h3v-37h2v-16h3"/>
<path d="M1224 967v-154h45v-90h334v-64h60v-50h56v-40h120v-34h6v-30h36v-26h50v-24h5v-21h6v-19h19v-18h37v-32h2v-14h4v-26h5v-12h4v-33h3v-10h2v-35h2v-8h4"/>
<path d="M1025 967v-154h195v-90h212v-64h109v-50h95v-40h106v-34h46v-30h64v-26h44v-45h42v-19h32v-18h13v-16h9v-16h5v-27h8v-25h3v-12h3v-10h2v-11h2v-19h3v-18h2v-16h4"/>
<path d="M1295 967v-154h67v-90h127v-64h237v-50h47v-40h12v-34h39v-30h55v-26h8v-24h79v-21h2v-19h11v-34h6v-16h10v-14h5v-13h3v-25h10v-22h2v-48h4v-16h5"/>
<path d="M1398 967v-154h99v-90h84v-64h192v-50h2v-40h9v-34h102v-30h28v-26h7v-45h27v-19h26v-18h23v-46h4v-26h10v-12h2v-33h5v-28h2v-25h4"/>
<path d="M1485 967v-154h17v-90h255v-64h110v-50h5v-40h41v-34h2v-30h22v-26h42v-24h4v-40h20v-18h4v-16h3v-16h2v-27h3v-37h5v-58h2v-16h2"/>
<path d="M1658 967v-154h35v-90h49v-64h85v-50h26v-40h40v-34h38v-30h27v-26h7v-24h14v-21h13v-19h4v-18h16v-46h2v-13h2v-37h3v-31h2v-43h3"/>
<path d="M1415 967v-154h22v-90h91v-64h73v-50h186v-40h12v-34h22v-30h64v-26h39v-45h19v-19h12v-18h35v-16h5v-16h4v-14h2v-13h2v-13h2v-24h3v-10h2v-11h3v-19h3v-9h2v-17h2v-8h4"/>
<path d="M1398 967v-154h150v-90h27v-64h163v-50h3v-40h80v-34h60v-30h25v-26h9v-24h39v-21h8v-19h3v-18h36v-32h2v-14h2v-13h2v-13h3v-24h6v-31h2v-18h2v-25h4"/>
<path d="M1353 967v-154h81v-90h109v-64h115v-50h20v-40h106v-34h64v-30h15v-26h15v-24h70v-21h10v-37h27v-16h9v-16h3v-14h6v-26h6v-12h2v-22h3v-30h2v-9h2v-25h6"/>
<path d="M1222 967v-154h155v-90h70v-64h160v-50h53v-40h63v-34h55v-30h116v-26h3v-24h25v-21h28v-19h10v-18h7v-16h24v-16h6v-27h4v-13h2v-12h2v-33h8v-19h2v-18h3v-8h2v-8h4"/>
<path d="M1414 967v-154h16v-90h247v-64h99v-50h27v-40h49v-34h25v-30h46v-26h20v-24h6v-21h11v-19h8v-18h33v-16h3v-43h11v-58h2v-37h2v-16h5"/>
<path d="M1442 967v-154h42v-90h158v-64h149v-50h13v-40h6v-34h94v-30h28v-26h9v-24h30v-40h14v-18h2v-16h9v-16h9v-14h5v-26h3v-12h4v-33h3v-53h4"/>
<path d="M1551 967v-154h68v-154h229v-50h10v-40h36v-34h12v-30h36v-26h21v-24h20v-21h3v-37h23v-46h3v-26h4v-24h2v-10h2v-39h2v-25h2"/>
<path d="M1290 967v-154h25v-90h168v-64h161v-50h43v-40h145v-64h97v-26h20v-45h2v-19h13v-18h22v-16h2v-16h15v-40h4v-12h4v-22h4v-30h3v-26h2v-8h4"/>
<path d="M1492 967v-154h29v-90h31v-64h209v-50h29v-40h35v-34h44v-30h39v-26h24v-24h17v-21h4v-19h9v-18h31v-16h11v-16h3v-27h2v-13h4v-24h2v-31h2v-35h4v-8h3"/>
<path d="M1093 967v-154h265v-90h60v-64h272v-50h38v-40h11v-34h67v-30h30v-26h82v-24h22v-21h2v-19h9v-18h33v-16h4v-16h7v-14h6v-13h5v-25h4v-22h4v-30h3v-34h7"/>
<path d="M1382 967v-154h36v-90h170v-64h211v-50h5v-40h11v-34h56v-30h47v-26h41v-45h10v-19h12v-18h22v-16h3v-16h5v-52h5v-33h3v-28h2v-25h3"/>
<path d="M1179 967v-154h25v-90h44v-64h390v-50h51v-40h58v-34h31v-30h101v-26h20v-24h7v-21h22v-19h26v-18h27v-16h9v-16h3v-14h3v-13h2v-13h3v-12h4v-12h3v-10h4v-21h3v-18h2v-25h7"/>
<path d="M1577 967v-154h3v-90h34v-64h104v-50h32v-40h103v-64h62v-26h27v-24h23v-21h4v-19h10v-18h7v-16h22v-16h2v-27h2v-25h2v-12h2v-31h3v-18h2v-25h3"/>
<path d="M1347 967v-154h64v-90h263v-64h80v-50h37v-40h33v-34h6v-30h96v-26h14v-24h28v-21h11v-19h4v-18h3v-16h9v-16h10v-40h2v-12h3v-12h4v-21h4v-28h2v-17h2v-8h2"/>
<path d="M802 967v-154h483v-90h8v-64h348v-90h3v-34h116v-30h86v-26h25v-24h20v-21h47v-19h2v-18h15v-16h22v-16h10v-27h5v-13h7v-24h5v-10h3v-11h2v-10h5v-18h2v-17h2v-8h6"/>
<path d="M1309 967v-154h275v-90h71v-64h94v-50h12v-40h90v-34h6v-30h55v-26h18v-24h15v-21h7v-19h21v-18h13v-16h12v-16h7v-14h3v-26h2v-12h4v-12h3v-31h2v-35h3v-8h2"/>
<path d="M1473 967v-154h27v-90h28v-64h169v-50h44v-40h25v-34h32v-30h92v-26h39v-24h17v-21h9v-37h36v-16h3v-16h2v-14h4v-13h7v-13h2v-12h2v-12h3v-21h3v-37h2v-16h5"/>
<path d="M976 967v-154h435v-154h334v-50h5v-40h37v-34h26v-30h47v-26h59v-45h15v-19h32v-18h14v-16h11v-16h6v-27h4v-13h4v-12h6v-12h2v-21h4v-37h2v-16h5"/>
<path d="M1541 967v-154h94v-90h62v-64h112v-50h29v-40h9v-34h79v-30h35v-26h19v-24h4v-21h5v-37h14v-16h9v-16h2v-27h2v-25h3v-33h2v-53h3"/>
<path d="M1536 967v-154h62v-90h76v-64h116v-50h4v-40h62v-34h36v-30h53v-26h6v-24h4v-21h7v-19h12v-18h23v-16h5v-16h4v-27h4v-25h6v-33h2v-28h2v-25h4"/>
<path d="M1518 967v-154h133v-90h106v-64h58v-50h40v-40h13v-34h59v-30h11v-26h27v-24h15v-21h7v-19h5v-18h15v-16h2v-56h6v-12h2v-12h2v-40h2v-26h2v-8h1"/>
<path d="M759 967v-154h525v-90h47v-64h198v-50h81v-40h93v-34h93v-30h17v-26h18v-24h42v-21h21v-19h27v-18h19v-16h33v-16h13v-14h3v-13h2v-13h6v-24h2v-10h6v-11h4v-10h2v-18h3v-17h6v-8h4"/>
<path d="M1360 967v-154h114v-90h85v-64h225v-50h22v-40h47v-34h21v-30h22v-26h54v-24h14v-21h8v-19h11v-18h4v-16h7v-16h11v-14h2v-13h2v-13h3v-12h3v-33h2v-28h2v-25h5"/>
<path d="M1559 967v-154h43v-90h83v-64h117v-50h32v-40h11v-34h85v-30h25v-26h22v-45h2v-19h11v-18h15v-46h7v-38h2v-12h4v-40h2v-18h2v-16h2"/>
<path d="M1449 967v-154h143v-90h105v-64h138v-50h2v-40h52v-34h55v-30h21v-26h7v-24h12v-21h7v-19h5v-18h16v-46h2v-26h3v-24h3v-58h2v-16h2"/>
<path d="M1306 967v-154h119v-90h79v-64h235v-50h28v-40h47v-34h11v-30h74v-26h34v-24h23v-21h7v-19h6v-18h25v-16h4v-16h3v-14h3v-13h4v-25h5v-22h2v-30h3v-18h2v-16h4"/>
<path d="M1507 967v-154h93v-90h64v-64h109v-50h69v-40h6v-34h22v-30h52v-26h42v-24h17v-21h9v-19h2v-18h10v-32h5v-14h4v-13h2v-25h3v-22h3v-39h2v-25h3"/>
<path d="M1434 967v-154h28v-90h91v-64h235v-50h4v-40h25v-34h48v-30h49v-26h17v-24h33v-21h2v-19h9v-18h27v-46h5v-13h2v-13h2v-24h3v-31h4v-18h2v-25h4"/>
<path d="M1392 967v-154h161v-90h42v-64h115v-50h69v-40h78v-34h6v-30h37v-26h44v-24h33v-21h8v-19h2v-18h5v-16h9v-16h2v-27h4v-25h9v-33h2v-28h2v-17h2v-8h2"/>
<path d="M1177 967v-154h258v-90h83v-64h174v-50h108v-40h17v-34h7v-30h82v-26h28v-24h11v-21h19v-19h4v-18h12v-16h12v-16h7v-14h2v-26h2v-12h9v-12h2v-31h3v-18h2v-17h2v-8h3"/>
<path d="M1268 967v-154h141v-90h154v-64h169v-50h32v-40h7v-34h94v-30h76v-26h9v-45h10v-19h9v-18h32v-16h2v-16h2v-14h2v-13h2v-25h3v-12h3v-31h2v-27h3v-16h4"/>
<path d="M1091 967v-154h344v-90h29v-64h160v-50h80v-40h21v-34h65v-30h39v-26h37v-24h42v-21h37v-37h17v-16h25v-16h8v-27h2v-13h3v-12h3v-12h6v-10h4v-30h4v-18h2v-16h5"/>
<path d="M1014 967v-154h93v-90h200v-64h383v-50h11v-40h20v-34h61v-30h41v-26h73v-24h29v-21h16v-19h5v-18h44v-32h3v-14h2v-26h5v-24h3v-10h6v-11h4v-28h3v-17h5v-8h3"/>
<path d="M1043 967v-154h102v-90h222v-64h188v-50h116v-40h32v-34h14v-30h91v-26h72v-24h31v-21h7v-19h27v-18h19v-16h19v-30h4v-26h5v-24h6v-10h6v-21h7v-9h3v-26h3v-8h7"/>
<path d="M1340 967v-154h102v-90h177v-64h169v-50h8v-40h35v-34h63v-30h39v-26h15v-24h5v-21h14v-19h21v-18h14v-32h4v-40h6v-12h2v-12h2v-31h3v-18h2v-25h3"/>
<path d="M1093 967v-154h240v-90h17v-64h238v-50h51v-40h197v-34h12v-30h51v-26h8v-24h23v-21h31v-37h25v-16h5v-16h5v-27h2v-13h7v-12h5v-12h4v-10h2v-48h2v-8h3v-8h3"/>
<path d="M1037 967v-154h188v-90h252v-64h221v-50h28v-40h40v-34h15v-30h41v-26h71v-45h64v-19h9v-18h10v-16h16v-43h2v-13h5v-12h6v-22h5v-11h2v-19h4v-9h2v-17h3v-8h3"/>
<path d="M1242 967v-154h269v-90h18v-64h233v-50h20v-40h22v-34h28v-30h55v-26h41v-24h26v-21h3v-19h3v-18h33v-32h10v-14h5v-26h7v-55h3v-27h2v-16h4"/>
<path d="M1430 967v-154h58v-90h83v-64h205v-50h50v-40h23v-34h19v-30h21v-26h78v-24h6v-21h7v-19h3v-18h12v-16h13v-43h4v-25h5v-33h2v-28h2v-25h3"/>
<path d="M1223 967v-154h36v-90h144v-64h231v-50h83v-40h47v-34h124v-30h2v-26h24v-24h29v-21h7v-19h4v-18h26v-16h9v-16h6v-14h3v-13h2v-25h8v-12h3v-21h2v-19h2v-18h4v-16h5"/>
<path d="M1313 967v-154h18v-90h306v-64h98v-50h55v-40h83v-34h9v-30h32v-26h30v-24h14v-40h11v-18h31v-16h5v-30h5v-38h6v-22h2v-48h2v-16h4"/>
<path d="M1342 967v-154h136v-90h52v-64h239v-50h13v-40h20v-34h82v-30h24v-26h6v-24h24v-21h21v-19h19v-18h21v-16h3v-16h4v-14h2v-13h5v-37h3v-40h4v-26h2v-8h2"/>
<path d="M1488 967v-154h29v-154h195v-50h2v-40h114v-34h68v-30h42v-26h12v-24h10v-21h8v-19h6v-18h28v-32h4v-14h3v-26h5v-24h3v-40h2v-26h2v-8h3"/>
<path d="M1200 967v-154h243v-90h164v-64h49v-50h72v-40h5v-34h82v-30h41v-26h25v-24h66v-21h25v-19h2v-18h14v-32h3v-14h6v-13h5v-25h9v-33h2v-19h4v-26h4v-8h3"/>
<path d="M1482 967v-154h48v-90h163v-64h102v-50h11v-40h95v-34h11v-30h18v-26h14v-24h18v-21h21v-19h11v-18h4v-16h7v-16h4v-27h2v-13h2v-12h6v-70h2v-16h3"/>
<path d="M1198 967v-154h55v-90h173v-64h128v-50h151v-40h5v-34h122v-30h29v-26h36v-24h6v-21h59v-19h3v-18h2v-16h6v-16h13v-14h9v-13h2v-25h7v-12h6v-21h4v-28h3v-9h3v-16h4"/>
<path d="M1192 967v-154h65v-90h71v-64h204v-50h65v-40h179v-34h31v-30h6v-26h75v-24h16v-21h7v-19h22v-18h14v-16h46v-30h2v-13h4v-37h8v-10h6v-30h2v-18h2v-16h7"/>
<path d="M1320 967v-154h4v-90h241v-64h152v-50h36v-40h10v-34h60v-30h84v-26h13v-24h21v-21h4v-19h22v-18h18v-16h6v-16h4v-27h9v-13h2v-24h3v-10h4v-11h4v-45h2v-8h5"/>
<path d="M1384 967v-154h18v-90h164v-64h103v-50h105v-40h37v-34h50v-30h46v-26h5v-24h10v-21h36v-19h16v-18h16v-32h3v-27h4v-13h4v-12h8v-22h5v-11h2v-28h2v-25h6"/>
<path d="M1351 967v-154h311v-90h26v-64h60v-50h57v-40h50v-34h38v-30h39v-26h24v-24h22v-21h4v-37h16v-16h7v-16h3v-14h5v-26h3v-34h2v-30h2v-26h2v-8h2"/>
<path d="M1502 967v-154h120v-90h93v-64h123v-50h25v-40h19v-34h42v-30h27v-26h2v-24h19v-21h9v-19h7v-18h16v-16h3v-16h2v-27h3v-25h5v-33h2v-28h2v-17h2v-8h1"/>
<path d="M1261 967v-154h221v-90h182v-64h69v-50h50v-40h73v-34h9v-30h65v-26h8v-24h22v-21h12v-19h4v-18h25v-32h7v-40h4v-12h2v-12h2v-21h2v-10h2v-35h2v-8h2"/>
<path d="M1332 967v-154h213v-90h184v-64h80v-50h14v-40h15v-34h19v-30h90v-26h4v-24h11v-21h3v-19h26v-18h12v-32h5v-14h3v-13h4v-13h2v-55h2v-27h3v-16h2"/>
<path d="M1241 967v-154h189v-90h72v-64h190v-50h43v-40h109v-34h34v-56h27v-24h34v-21h4v-19h28v-18h13v-16h4v-16h6v-14h7v-13h7v-13h2v-12h2v-33h4v-19h2v-18h2v-16h4"/>
<path d="M1300 967v-154h22v-90h292v-64h6v-50h112v-40h64v-34h15v-30h31v-26h58v-24h31v-21h35v-19h12v-18h9v-32h5v-14h3v-13h4v-13h3v-12h5v-22h7v-11h2v-28h2v-17h3v-8h3"/>
<path d="M1342 967v-154h47v-90h205v-64h203v-50h11v-40h13v-34h31v-30h41v-26h45v-24h2v-21h9v-19h15v-18h33v-32h3v-27h10v-37h3v-21h2v-19h2v-18h2v-16h5"/>
<path d="M1084 967v-154h293v-90h14v-64h281v-50h48v-40h10v-34h36v-30h103v-26h46v-45h30v-19h11v-18h21v-16h12v-16h12v-14h4v-13h2v-25h2v-22h2v-11h2v-10h2v-27h3v-16h6"/>
<path d="M1114 967v-154h146v-90h257v-64h147v-50h60v-40h34v-34h18v-30h81v-50h74v-21h25v-37h18v-16h8v-16h12v-14h5v-26h3v-12h4v-12h5v-10h3v-11h2v-28h2v-17h2v-8h4"/>
<path d="M1555 967v-154h56v-90h32v-64h154v-90h73v-34h7v-30h62v-26h11v-24h16v-21h10v-19h8v-18h15v-16h4v-30h3v-13h4v-13h4v-24h3v-21h2v-37h2v-16h3"/>
<path d="M1280 967v-154h64v-90h299v-64h68v-50h28v-40h102v-34h66v-30h23v-26h3v-24h3v-21h9v-19h10v-18h39v-16h2v-16h2v-14h7v-13h3v-13h2v-24h3v-21h2v-19h2v-9h2v-17h3v-8h2"/>
<path d="M1436 967v-154h110v-90h71v-64h13v-50h123v-40h79v-34h51v-30h32v-26h5v-24h52v-21h2v-19h13v-18h7v-32h3v-14h2v-13h6v-13h7v-12h3v-22h2v-21h2v-35h2v-8h3"/>
<path d="M1458 967v-154h35v-90h45v-64h181v-50h88v-40h27v-34h8v-30h65v-26h23v-24h30v-21h5v-19h27v-18h3v-16h7v-30h5v-26h5v-24h4v-10h3v-48h3v-16h2"/>
<path d="M963 967v-154h597v-154h153v-50h37v-40h10v-34h33v-30h109v-26h27v-24h30v-21h2v-19h10v-18h20v-32h14v-27h2v-25h6v-22h2v-30h4v-34h5"/>
<path d="M1275 967v-154h128v-90h274v-64h97v-50h58v-40h2v-34h40v-30h24v-26h33v-24h16v-21h11v-37h39v-16h3v-16h4v-27h4v-25h5v-22h4v-30h2v-26h2v-8h3"/>
<path d="M1218 967v-154h11v-90h445v-64h68v-50h22v-40h25v-34h6v-56h75v-24h43v-21h32v-19h13v-18h27v-16h3v-16h11v-14h3v-13h5v-25h7v-43h2v-27h4v-16h4"/>
<path d="M1530 967v-154h60v-90h130v-64h21v-50h69v-40h44v-34h53v-30h26v-26h14v-24h32v-21h11v-37h6v-16h15v-30h4v-26h2v-24h2v-40h2v-34h3"/>
<path d="M1515 967v-154h16v-90h131v-64h38v-50h104v-40h29v-34h96v-30h3v-26h37v-45h3v-19h18v-18h8v-16h2v-30h8v-13h5v-25h3v-12h2v-21h2v-45h3v-8h1"/>
<path d="M1376 967v-154h25v-90h77v-64h283v-50h79v-40h17v-34h2v-30h89v-26h7v-24h2v-21h21v-19h3v-18h17v-16h8v-16h2v-14h3v-38h2v-12h3v-21h2v-28h2v-17h2v-8h2"/>
<path d="M1546 967v-154h62v-90h33v-64h71v-50h47v-40h94v-34h37v-30h61v-26h18v-24h4v-21h6v-19h15v-18h11v-32h3v-14h4v-13h2v-13h3v-55h3v-43h4"/>
<path d="M1351 967v-154h87v-90h28v-64h246v-50h61v-40h21v-34h53v-30h61v-26h33v-24h26v-21h5v-19h5v-18h10v-16h9v-30h7v-13h2v-13h5v-24h3v-21h2v-19h3v-26h2v-8h4"/>
<path d="M1066 967v-154h224v-90h25v-64h326v-90h22v-34h173v-30h57v-26h10v-24h3v-21h30v-19h12v-18h15v-16h7v-16h23v-27h2v-13h5v-12h4v-12h2v-21h3v-10h4v-9h2v-26h4v-8h5"/>
<path d="M1325 967v-154h184v-90h49v-64h205v-50h34v-40h44v-34h30v-30h41v-26h45v-24h3v-21h14v-19h4v-18h15v-32h6v-27h9v-25h3v-12h5v-21h2v-45h3v-8h3"/>
<path d="M1195 967v-154h108v-90h74v-64h169v-50h35v-40h129v-34h98v-30h70v-26h5v-45h20v-19h65v-18h11v-16h8v-16h6v-14h4v-13h3v-25h9v-12h4v-10h2v-39h2v-9h2v-16h5"/>
<path d="M1507 967v-154h170v-90h10v-64h8v-50h126v-40h8v-34h28v-30h53v-26h39v-24h12v-21h19v-19h6v-18h11v-32h9v-14h4v-13h2v-25h4v-22h2v-39h2v-17h2v-8h2"/>
<path d="M995 967v-154h159v-90h86v-64h327v-50h97v-40h56v-34h56v-30h19v-26h78v-24h8v-21h39v-19h4v-18h9v-16h19v-16h18v-14h5v-13h13v-25h12v-22h2v-11h7v-10h2v-27h2v-8h4v-8h7"/>
<path d="M1129 967v-154h155v-90h376v-64h72v-50h9v-40h73v-34h81v-30h17v-26h16v-24h32v-21h6v-19h24v-18h9v-32h6v-14h2v-26h2v-24h3v-10h4v-39h2v-17h3v-8h3"/>
<path d="M1268 967v-154h128v-90h46v-64h250v-50h48v-40h66v-34h9v-30h97v-26h21v-24h8v-40h17v-18h39v-16h4v-16h3v-14h3v-50h6v-10h4v-48h3v-16h4"/>
<path d="M1155 967v-154h156v-90h228v-64h132v-50h89v-40h93v-34h46v-56h10v-24h39v-21h15v-19h5v-18h18v-16h12v-16h2v-14h5v-13h3v-25h3v-12h2v-21h2v-10h2v-18h2v-17h2v-8h3"/>
<path d="M1236 967v-154h157v-90h117v-64h33v-50h125v-40h49v-34h90v-30h31v-26h61v-24h39v-21h5v-19h7v-18h19v-16h21v-16h5v-14h3v-13h7v-25h2v-22h2v-11h7v-28h2v-25h6"/>
<path d="M1385 967v-154h8v-90h119v-64h8v-50h169v-40h90v-34h41v-30h49v-26h16v-24h10v-21h20v-19h9v-18h59v-16h8v-16h3v-27h2v-13h2v-12h13v-12h3v-40h2v-9h3v-25h5"/>
<path d="M1353 967v-154h31v-90h116v-64h143v-50h82v-40h59v-34h110v-30h47v-26h7v-24h2v-40h34v-18h9v-16h4v-16h3v-14h2v-26h4v-12h5v-12h2v-21h2v-10h2v-27h3v-16h4"/>
<path d="M1462 967v-154h169v-90h114v-64h30v-50h65v-40h39v-34h54v-30h18v-26h10v-24h14v-21h8v-19h4v-18h15v-16h2v-16h4v-14h4v-26h2v-12h3v-22h2v-39h2v-25h3"/>
<path d="M1576 967v-154h67v-90h29v-64h159v-50h3v-40h47v-34h11v-30h69v-26h15v-24h16v-40h6v-18h9v-16h3v-43h3v-13h2v-12h2v-33h3v-45h2v-8h2"/>
<path d="M1345 967v-154h82v-90h45v-64h217v-50h64v-40h75v-34h5v-30h16v-26h75v-24h27v-21h5v-19h21v-18h17v-32h2v-14h7v-26h2v-12h9v-12h2v-40h4v-34h4"/>
<path d="M1247 967v-154h120v-90h187v-64h114v-50h92v-40h67v-34h12v-30h66v-26h15v-24h17v-21h14v-19h5v-18h36v-16h10v-16h5v-27h3v-25h5v-33h2v-28h2v-9h2v-16h3"/>
</g>
<path stroke="#0000FF" d="M1334 967V813H1404V722.9H1521V659H1709.5V609.4H1720.5V568.9H1790V534.6H1831V505H1885V478.8H1908.6V455.4H1936V434.2H1945.4V397.1H1984.2V380.6H1990.3V365.3H1991V351H1998V337.5H1998.9V324.8H1999.5V312.8H2007.5V301.4H2010V290.6H2012V280.2H2013.5V270.3H2014.5V260.9H2015.3V251.8H2016V243.1H2016.5V234.7H2019V226.6H2024"/>
<g stroke="#00FFFF" stroke-opacity="0.012">
<path d="M1376 967v-154h290v-90h23v-64h33v-50h35v-74h9v-30h4v-26h30v-24h6v-21h40v-19h9v-18h14v-16h19v-16h5v-14h14v-13h6v-13h10v-12h10v-12h10v-10h2v-11h27v-10h31v-9h8v-18h6v-8h7"/>
<path d="M1293 967v-154h222v-90h46v-64h115v-50h7v-40h32v-34h5v-30h22v-26h30v-45h19v-19h21v-18h25v-16h4v-16h9v-14h3v-13h7v-13h11v-12h41v-12h8v-10h3v-11h44v-10h2v-9h31v-9h3v-9h13v-8h8"/>
<path d="M1308 967v-154h248v-90h59v-64h32v-50h46v-40h20v-34h34v-30h4v-26h6v-24h24v-21h11v-19h23v-34h25v-16h13v-14h28v-13h6v-13h9v-12h13v-12h23v-10h19v-11h5v-10h39v-9h4v-9h5v-9h14v-8h6"/>
<path d="M1133 967v-154h418v-90h11v-64h8v-50h84v-40h11v-34h32v-30h26v-26h52v-24h6v-21h9v-19h16v-34h23v-16h3v-14h5v-13h27v-13h24v-12h2v-22h30v-11h7v-10h52v-9h19v-9h6v-9h8v-8h12"/>
<path d="M1160 967v-154h318v-90h63v-64h20v-50h39v-40h46v-34h2v-30h12v-26h49v-24h18v-21h53v-19h3v-18h3v-16h27v-16h2v-14h27v-13h5v-13h27v-12h5v-12h12v-10h7v-11h40v-10h45v-9h4v-9h5v-9h24v-8h8"/>
<path d="M1222 967v-154h357v-90h55v-64h17v-50h3v-40h65v-34h20v-30h18v-26h29v-24h15v-21h18v-19h4v-18h11v-16h12v-16h11v-14h6v-13h13v-13h14v-12h42v-33h25v-10h47v-9h3v-9h3v-9h3v-8h11"/>
<path d="M1021 967v-154h386v-90h24v-64h74v-50h19v-40h3v-34h55v-30h12v-26h68v-24h6v-21h24v-19h12v-18h39v-16h12v-16h5v-14h41v-13h5v-13h5v-12h8v-12h19v-10h4v-11h59v-10h73v-9h3v-9h15v-9h10v-8h22"/>
<path d="M1176 967v-154h392v-90h38v-64h19v-50h32v-40h21v-34h10v-30h49v-26h25v-24h18v-21h23v-19h2v-18h7v-16h11v-16h25v-14h13v-13h11v-13h27v-24h8v-10h8v-11h31v-10h48v-9h12v-18h10v-8h8"/>
<path d="M929 967v-154h544v-90h11v-64h59v-50h62v-40h5v-34h4v-30h7v-26h33v-24h95v-21h3v-37h5v-16h9v-16h7v-14h32v-13h2v-25h25v-12h13v-10h43v-11h30v-10h67v-9h8v-9h5v-9h11v-8h15"/>
<path d="M1260 967v-154h354v-90h26v-64h43v-50h24v-40h19v-34h9v-30h13v-26h49v-24h21v-21h11v-19h25v-18h9v-16h9v-16h18v-27h40v-13h2v-12h4v-22h5v-11h26v-10h36v-18h7v-9h7v-8h7"/>
<path d="M1141 967v-154h436v-90h59v-64h25v-50h18v-40h35v-34h2v-30h44v-26h12v-24h5v-21h32v-37h14v-16h15v-16h7v-14h27v-13h8v-13h8v-12h7v-12h5v-10h12v-11h46v-10h45v-18h3v-9h8v-8h10"/>
<path d="M1068 967v-154h469v-90h41v-64h6v-50h16v-40h21v-34h6v-30h45v-26h86v-24h18v-21h8v-19h3v-18h2v-16h12v-16h14v-14h8v-26h31v-12h17v-12h3v-10h10v-11h19v-10h83v-9h4v-9h7v-9h16v-8h11"/>
<path d="M1151 967v-154h422v-90h36v-64h19v-50h12v-40h37v-34h8v-30h11v-26h40v-24h12v-21h24v-37h18v-32h13v-14h27v-13h50v-25h8v-12h12v-10h18v-11h17v-10h51v-9h5v-9h8v-9h14v-8h11"/>
<path d="M1102 967v-154h412v-90h38v-64h82v-50h33v-40h39v-34h13v-30h14v-26h17v-24h11v-21h12v-19h39v-34h17v-16h14v-14h8v-13h17v-25h47v-12h3v-10h18v-11h10v-10h51v-18h3v-9h15v-8h9"/>
<path d="M1136 967v-154h305v-90h100v-64h30v-50h37v-40h41v-34h17v-30h15v-26h5v-24h12v-21h29v-19h3v-18h50v-16h9v-16h6v-27h23v-13h42v-12h3v-12h13v-10h42v-11h5v-10h67v-18h13v-9h11v-8h10"/>
<path d="M1214 967v-154h348v-90h4v-64h46v-50h12v-40h66v-34h34v-30h3v-26h18v-24h5v-21h30v-37h6v-16h3v-16h22v-14h8v-13h15v-13h32v-12h5v-12h24v-10h13v-11h3v-10h88v-9h2v-18h14v-8h9"/>
<path d="M1201 967v-154h324v-90h54v-64h21v-50h12v-40h38v-34h4v-30h15v-26h63v-24h23v-21h17v-19h6v-18h13v-16h14v-16h18v-14h29v-13h3v-13h10v-12h2v-12h26v-10h4v-11h7v-10h81v-9h11v-9h3v-9h14v-8h11"/>
<path d="M1206 967v-154h351v-90h59v-64h22v-50h28v-40h6v-34h17v-30h21v-26h12v-24h21v-21h12v-19h29v-18h34v-16h12v-16h2v-14h32v-13h5v-13h19v-12h12v-12h7v-10h24v-11h12v-10h52v-9h9v-18h11v-8h9"/>
<path d="M869 967v-154h525v-90h70v-64h19v-50h93v-40h25v-34h8v-30h6v-26h22v-24h24v-21h23v-37h40v-16h34v-16h26v-14h14v-13h40v-13h3v-12h33v-12h2v-10h4v-11h11v-10h77v-18h17v-9h20v-8h19"/>
<path d="M1237 967v-154h341v-90h35v-64h19v-50h10v-40h45v-34h41v-30h21v-26h9v-24h51v-21h5v-19h17v-18h11v-16h11v-16h20v-14h19v-13h7v-13h4v-12h2v-12h2v-10h11v-11h50v-10h21v-9h9v-9h3v-9h12v-8h11"/>
<path d="M993 967v-154h454v-90h8v-64h110v-50h33v-40h2v-34h9v-30h48v-26h2v-24h30v-21h28v-19h32v-18h3v-16h42v-16h4v-14h7v-13h25v-13h17v-12h5v-12h23v-10h3v-11h50v-10h52v-9h9v-9h4v-9h17v-8h14"/>
<path d="M1284 967v-154h362v-154h16v-50h60v-40h23v-34h5v-30h18v-26h2v-24h14v-21h3v-19h38v-18h33v-32h6v-14h15v-13h12v-13h4v-12h8v-12h2v-10h29v-11h29v-10h37v-9h8v-9h3v-9h4v-8h9"/>
<path d="M1302 967v-154h265v-90h12v-64h29v-50h102v-40h14v-34h8v-30h2v-26h29v-24h37v-21h20v-19h16v-18h4v-16h6v-30h6v-13h20v-13h16v-12h16v-12h19v-10h20v-11h10v-10h36v-9h7v-9h6v-9h12v-8h10"/>
<path d="M1328 967v-154h312v-90h8v-64h5v-50h38v-40h25v-34h23v-56h66v-45h6v-19h7v-18h10v-16h15v-16h14v-14h9v-13h38v-13h4v-12h5v-12h5v-10h32v-11h13v-10h37v-9h2v-9h8v-9h3v-8h11"/>
<path d="M1051 967v-154h489v-90h14v-64h63v-50h34v-40h11v-34h18v-30h24v-26h49v-24h12v-21h17v-19h6v-18h24v-16h3v-16h30v-14h3v-13h3v-13h9v-24h31v-10h25v-11h38v-10h41v-9h4v-18h15v-8h10"/>
<path d="M1253 967v-154h323v-90h27v-64h37v-50h32v-40h53v-34h20v-30h4v-26h2v-24h24v-21h8v-19h52v-34h9v-16h6v-14h30v-26h2v-12h9v-12h17v-10h6v-11h19v-10h60v-9h4v-9h13v-9h7v-8h7"/>
<path d="M1120 967v-154h379v-90h39v-64h23v-50h70v-40h6v-34h10v-30h29v-26h12v-24h17v-21h37v-37h65v-16h2v-16h5v-14h36v-13h10v-13h8v-12h23v-12h7v-10h6v-11h21v-10h55v-9h11v-9h5v-9h10v-8h18"/>
<path d="M898 967v-154h544v-90h53v-64h30v-50h90v-40h24v-34h45v-30h7v-26h49v-24h14v-21h16v-19h2v-34h36v-16h4v-14h8v-13h33v-13h12v-12h16v-12h16v-10h4v-11h13v-10h63v-9h3v-9h3v-9h31v-8h10"/>
<path d="M978 967v-154h529v-90h50v-64h18v-50h48v-40h35v-34h6v-30h15v-26h15v-24h59v-40h24v-18h14v-32h16v-14h16v-13h6v-13h39v-12h10v-12h6v-10h16v-11h35v-10h46v-9h4v-9h14v-9h11v-8h14"/>
<path d="M1064 967v-154h410v-90h91v-64h35v-50h32v-40h34v-34h3v-30h11v-26h28v-24h37v-21h16v-19h7v-18h17v-16h4v-16h54v-14h2v-13h29v-13h4v-12h4v-12h10v-10h30v-11h27v-10h41v-9h2v-9h11v-9h14v-8h7"/>
<path d="M1046 967v-154h406v-90h65v-64h3v-50h125v-40h11v-34h4v-30h23v-26h9v-24h18v-21h36v-19h10v-18h6v-16h31v-16h7v-14h10v-13h4v-13h4v-12h15v-12h39v-10h40v-11h5v-10h66v-9h4v-9h7v-9h16v-8h14"/>
<path d="M1241 967v-154h332v-90h32v-64h13v-50h48v-40h31v-34h3v-30h49v-26h24v-24h6v-21h13v-19h41v-18h7v-16h21v-16h11v-14h4v-13h8v-25h23v-12h3v-10h19v-11h32v-10h39v-9h5v-18h11v-8h8"/>
<path d="M1188 967v-154h361v-90h2v-64h39v-50h75v-40h3v-34h7v-30h22v-26h12v-24h23v-21h6v-19h63v-18h7v-16h12v-16h23v-27h7v-13h15v-12h23v-22h15v-11h37v-10h49v-9h4v-18h16v-8h15"/>
<path d="M1151 967v-154h442v-90h13v-64h8v-50h29v-40h68v-34h20v-30h22v-26h33v-24h6v-21h9v-19h9v-18h13v-16h21v-30h11v-13h16v-13h37v-12h6v-12h5v-10h26v-11h12v-10h41v-9h6v-18h14v-8h6"/>
<path d="M1343 967v-154h294v-90h33v-64h92v-50h6v-40h9v-34h28v-30h8v-26h5v-24h14v-21h9v-19h4v-18h18v-16h10v-16h34v-14h11v-13h14v-25h14v-22h3v-11h19v-10h41v-18h3v-9h7v-8h5"/>
<path d="M791 967v-154h621v-90h13v-64h52v-50h101v-40h12v-34h3v-30h19v-26h20v-24h52v-21h7v-19h28v-18h6v-16h12v-30h9v-13h4v-13h55v-12h44v-12h7v-10h9v-11h53v-10h60v-18h3v-9h31v-8h12"/>
<path d="M1355 967v-154h267v-90h27v-64h35v-50h18v-40h55v-34h2v-30h8v-26h2v-24h31v-21h7v-19h45v-18h5v-16h4v-16h21v-14h6v-13h21v-13h3v-12h11v-12h5v-10h6v-11h49v-10h13v-9h3v-9h7v-9h12v-8h6"/>
<path d="M1127 967v-154h311v-90h11v-64h67v-50h54v-40h32v-34h54v-30h40v-26h18v-24h18v-21h32v-19h13v-18h4v-16h19v-16h2v-14h17v-13h5v-13h18v-12h22v-12h26v-10h15v-11h24v-10h53v-9h9v-9h5v-9h12v-8h16"/>
<path d="M898 967v-154h551v-90h37v-64h31v-50h14v-40h58v-34h24v-30h57v-26h13v-45h17v-19h56v-18h2v-16h6v-30h36v-13h21v-13h13v-12h5v-12h14v-10h4v-11h23v-10h91v-9h9v-9h12v-9h14v-8h18"/>
<path d="M1377 967v-154h278v-90h19v-64h10v-50h27v-40h15v-34h17v-30h14v-26h37v-24h18v-21h17v-19h18v-18h2v-16h6v-16h44v-14h5v-13h18v-37h26v-10h5v-11h29v-10h17v-9h5v-9h7v-9h9v-8h4"/>
<path d="M1318 967v-154h301v-90h46v-64h4v-50h8v-40h54v-34h3v-30h58v-26h7v-24h10v-21h3v-19h40v-18h16v-16h2v-16h13v-14h9v-13h3v-13h5v-12h22v-12h10v-10h14v-11h7v-10h48v-9h3v-18h14v-8h6"/>
<path d="M1044 967v-154h519v-90h3v-64h43v-50h43v-40h44v-34h16v-30h36v-26h2v-24h20v-21h9v-19h8v-34h41v-16h4v-14h27v-13h2v-13h14v-12h22v-12h6v-10h24v-11h24v-10h44v-18h6v-9h11v-8h12"/>
<path d="M1044 967v-154h441v-90h5v-64h122v-50h12v-40h9v-34h45v-30h23v-26h17v-24h20v-21h43v-19h8v-18h8v-32h11v-14h34v-13h18v-13h10v-12h7v-12h10v-10h10v-11h28v-10h68v-18h7v-9h7v-8h17"/>
<path d="M1165 967v-154h406v-90h31v-64h40v-50h2v-40h46v-34h2v-30h17v-26h12v-24h7v-21h38v-19h49v-18h17v-16h4v-16h2v-14h2v-13h33v-13h27v-24h7v-10h24v-11h28v-10h37v-9h2v-9h7v-9h12v-8h7"/>
<path d="M1226 967v-154h307v-90h37v-114h74v-40h10v-34h25v-30h24v-26h9v-24h25v-21h23v-19h55v-34h22v-30h15v-13h13v-13h24v-24h5v-10h20v-11h47v-10h26v-9h10v-9h8v-9h12v-8h7"/>
<path d="M1219 967v-154h357v-90h41v-64h16v-50h34v-40h31v-90h58v-24h46v-21h2v-37h11v-16h5v-16h31v-14h25v-13h5v-25h4v-12h30v-10h3v-11h38v-10h35v-18h19v-9h2v-8h12"/>
<path d="M1359 967v-154h209v-90h54v-64h20v-50h28v-40h79v-34h3v-30h9v-26h9v-24h33v-21h26v-19h17v-18h15v-16h6v-16h11v-14h2v-13h15v-13h6v-24h17v-10h4v-11h40v-10h41v-18h5v-9h8v-8h8"/>
<path d="M1333 967v-154h181v-90h56v-64h19v-50h68v-40h47v-34h10v-56h27v-24h13v-21h35v-19h50v-18h11v-16h4v-16h14v-14h10v-13h3v-13h11v-12h4v-12h13v-10h2v-11h44v-10h36v-9h9v-9h5v-9h10v-8h9"/>
<path d="M970 967v-154h513v-90h30v-64h76v-50h20v-40h10v-34h20v-30h19v-26h26v-24h54v-21h19v-19h6v-18h22v-16h7v-16h12v-14h8v-13h25v-13h25v-12h2v-12h12v-10h21v-11h38v-10h43v-18h12v-9h16v-8h18"/>
<path d="M1308 967v-154h237v-90h30v-64h80v-50h18v-40h4v-34h8v-30h30v-26h16v-24h20v-21h11v-19h28v-18h23v-16h10v-16h5v-14h12v-13h14v-13h33v-12h13v-12h24v-10h3v-11h23v-10h46v-9h2v-9h3v-9h16v-8h7"/>
<path d="M1215 967v-154h298v-90h21v-64h115v-50h5v-40h11v-34h24v-30h12v-26h22v-24h26v-21h68v-19h2v-18h10v-16h6v-16h5v-27h19v-13h25v-24h4v-10h25v-11h15v-10h55v-9h18v-9h6v-9h7v-8h10"/>
<path d="M1280 967v-154h293v-90h27v-64h51v-50h23v-40h49v-34h12v-30h21v-26h18v-24h19v-21h24v-19h27v-18h5v-16h17v-16h13v-27h6v-13h13v-12h10v-12h18v-10h19v-11h23v-10h37v-18h3v-9h7v-8h9"/>
<path d="M1102 967v-154h383v-90h53v-64h11v-50h62v-74h38v-30h40v-26h11v-24h39v-21h41v-19h7v-18h9v-16h25v-16h5v-14h3v-13h11v-13h9v-12h11v-12h23v-10h37v-11h27v-10h31v-9h8v-9h20v-9h9v-8h9"/>
<path d="M1155 967v-154h408v-90h19v-64h21v-50h5v-40h77v-34h22v-30h9v-26h20v-24h2v-21h36v-19h5v-18h41v-16h13v-16h5v-14h10v-13h9v-13h2v-12h27v-12h18v-10h3v-11h7v-10h67v-9h17v-9h4v-9h12v-8h10"/>
<path d="M1115 967v-154h441v-90h11v-64h3v-50h147v-40h18v-34h22v-30h10v-26h5v-64h45v-18h13v-16h5v-16h18v-14h16v-38h32v-12h30v-21h22v-10h45v-18h3v-9h17v-8h6"/>
<path d="M1236 967v-154h358v-90h34v-64h23v-50h43v-40h28v-34h19v-30h4v-26h19v-24h11v-21h36v-37h38v-16h10v-16h21v-27h2v-13h11v-12h3v-12h9v-10h10v-11h29v-10h50v-9h6v-9h4v-9h13v-8h7"/>
<path d="M1282 967v-154h270v-90h14v-64h51v-50h42v-40h6v-34h46v-30h11v-26h3v-24h6v-21h58v-19h22v-18h25v-16h9v-16h16v-27h4v-13h11v-24h38v-10h18v-11h12v-10h52v-9h4v-9h9v-9h8v-8h7"/>
<path d="M856 967v-154h505v-90h59v-64h10v-50h6v-40h95v-34h21v-30h21v-26h9v-24h60v-21h2v-19h13v-18h20v-16h14v-16h47v-14h5v-13h24v-13h16v-24h27v-10h2v-11h53v-10h98v-9h8v-9h4v-9h25v-8h24"/>
<path d="M828 967v-154h552v-90h32v-64h80v-50h87v-40h4v-34h52v-30h11v-26h8v-24h11v-40h15v-18h19v-16h20v-16h5v-14h27v-13h47v-13h36v-12h12v-12h4v-21h22v-10h90v-9h21v-9h2v-9h21v-8h18"/>
<path d="M1066 967v-154h474v-90h3v-64h52v-50h35v-40h18v-34h10v-30h24v-26h16v-24h4v-21h6v-19h18v-18h10v-16h13v-16h58v-14h2v-13h28v-13h10v-24h6v-10h34v-11h2v-10h99v-9h2v-9h3v-9h16v-8h15"/>
<path d="M1165 967v-154h402v-90h21v-64h69v-50h6v-40h73v-34h13v-30h4v-26h7v-24h8v-21h44v-19h12v-18h16v-16h18v-16h11v-14h5v-13h25v-13h5v-12h10v-12h3v-10h19v-11h32v-10h32v-9h4v-18h13v-8h7"/>
<path d="M1256 967v-154h353v-90h18v-64h61v-50h18v-40h13v-34h21v-30h43v-26h11v-24h11v-21h3v-19h29v-18h17v-16h20v-16h24v-27h14v-25h5v-12h5v-10h3v-11h31v-10h41v-9h2v-9h10v-9h9v-8h6"/>
<path d="M1255 967v-154h340v-90h4v-64h19v-50h113v-74h3v-30h33v-26h37v-24h10v-21h2v-19h36v-18h9v-32h20v-14h18v-13h11v-13h10v-12h21v-22h25v-11h6v-10h25v-9h3v-9h10v-9h6v-8h8"/>
<path d="M877 967v-154h419v-90h2v-64h71v-50h42v-40h62v-34h32v-30h3v-26h44v-24h25v-21h28v-19h44v-18h24v-16h23v-16h37v-14h10v-13h10v-13h16v-12h5v-12h16v-10h2v-11h60v-10h87v-9h15v-9h11v-9h32v-8h27"/>
<path d="M1193 967v-154h460v-90h21v-64h9v-50h28v-40h10v-34h61v-30h3v-26h6v-24h5v-21h30v-19h24v-18h7v-16h10v-30h25v-13h12v-25h2v-12h21v-10h15v-11h7v-10h57v-27h13v-8h5"/>
<path d="M1020 967v-154h499v-90h3v-64h67v-50h16v-74h87v-30h3v-26h40v-24h16v-21h13v-19h19v-18h2v-16h45v-16h11v-14h3v-13h24v-13h4v-12h6v-12h20v-10h22v-11h16v-10h59v-9h7v-18h11v-8h11"/>
<path d="M1241 967v-154h350v-90h13v-64h4v-50h88v-40h2v-34h7v-30h13v-26h58v-24h13v-21h16v-19h6v-18h2v-16h10v-16h35v-14h6v-13h2v-13h16v-12h12v-12h9v-10h3v-11h39v-10h52v-9h2v-9h6v-9h10v-8h9"/>
<path d="M1238 967v-154h137v-90h101v-64h48v-50h103v-40h56v-34h18v-30h9v-26h3v-24h46v-21h2v-19h13v-18h17v-32h8v-14h52v-13h3v-13h23v-12h2v-12h7v-10h17v-11h9v-10h69v-9h6v-9h13v-9h10v-8h14"/>
<path d="M1257 967v-154h317v-90h49v-64h14v-50h31v-74h64v-56h29v-24h10v-21h10v-19h20v-18h15v-16h2v-16h22v-14h22v-13h26v-13h4v-12h9v-12h18v-21h46v-10h23v-9h7v-9h6v-9h14v-8h9"/>
<path d="M1069 967v-154h448v-90h2v-64h12v-50h84v-40h37v-34h12v-30h7v-26h66v-24h3v-21h14v-19h2v-18h29v-16h13v-16h10v-14h16v-13h2v-13h9v-12h18v-12h13v-10h25v-11h47v-10h51v-9h3v-18h18v-8h14"/>
<path d="M1138 967v-154h327v-90h72v-64h31v-50h48v-40h15v-34h5v-30h17v-26h2v-24h44v-21h4v-19h58v-18h18v-16h3v-16h22v-27h8v-13h14v-12h6v-12h17v-10h13v-11h52v-10h53v-9h13v-9h13v-9h17v-8h14"/>
<path d="M1244 967v-154h314v-90h22v-64h34v-50h20v-40h22v-34h25v-30h57v-26h17v-24h22v-21h8v-19h17v-34h20v-16h8v-14h11v-13h11v-13h18v-12h4v-12h8v-10h21v-11h32v-10h62v-9h6v-9h2v-9h12v-8h7"/>
<path d="M1130 967v-154h424v-90h25v-64h3v-50h101v-40h14v-64h26v-26h9v-24h29v-21h16v-37h22v-16h36v-16h4v-14h22v-13h12v-13h21v-12h17v-22h16v-11h39v-10h27v-9h7v-9h10v-9h4v-8h10"/>
<path d="M1159 967v-154h234v-90h118v-64h25v-50h69v-40h18v-34h12v-30h64v-50h50v-21h12v-37h6v-32h15v-14h26v-13h21v-13h14v-12h12v-12h7v-10h33v-11h28v-10h62v-9h2v-9h11v-9h12v-8h14"/>
<path d="M1139 967v-154h373v-90h11v-64h51v-50h48v-40h8v-34h15v-30h23v-26h16v-24h28v-21h43v-19h8v-18h27v-16h19v-16h16v-14h37v-13h2v-13h3v-12h17v-12h34v-10h9v-11h26v-10h37v-18h14v-9h9v-8h11"/>
<path d="M1145 967v-154h371v-90h12v-64h64v-50h22v-40h83v-34h16v-30h3v-26h11v-24h5v-21h7v-19h29v-18h7v-16h54v-16h9v-14h15v-13h12v-13h17v-12h3v-12h21v-21h15v-10h64v-9h22v-9h3v-9h5v-8h9"/>
<path d="M1123 967v-154h418v-90h28v-64h13v-50h54v-40h35v-34h2v-30h10v-26h13v-24h10v-21h3v-19h18v-18h24v-16h14v-16h53v-14h30v-13h3v-13h7v-12h7v-12h41v-10h6v-21h64v-9h16v-9h3v-9h17v-8h12"/>
<path d="M1268 967v-154h407v-90h8v-64h9v-50h5v-40h23v-34h37v-30h18v-26h4v-24h2v-21h17v-19h28v-18h10v-16h28v-16h16v-14h3v-13h19v-13h11v-12h6v-12h11v-10h19v-11h23v-10h33v-9h2v-9h2v-9h8v-8h7"/>
<path d="M1241 967v-154h366v-90h6v-64h30v-50h29v-40h7v-34h20v-30h48v-26h4v-24h14v-21h12v-19h46v-18h4v-32h8v-14h20v-13h3v-13h16v-12h7v-12h17v-10h18v-11h5v-10h85v-18h6v-9h2v-8h10"/>
<path d="M1210 967v-154h421v-90h49v-64h18v-50h2v-40h49v-34h3v-56h43v-24h6v-21h9v-19h32v-18h13v-16h12v-30h12v-13h28v-13h5v-12h3v-12h11v-10h20v-11h20v-10h32v-9h3v-9h4v-9h14v-8h5"/>
<path d="M1108 967v-154h447v-90h20v-64h81v-50h8v-74h26v-30h3v-26h15v-24h44v-21h21v-19h8v-18h35v-32h5v-14h22v-13h38v-25h5v-12h4v-10h23v-11h30v-10h38v-9h21v-9h10v-9h3v-8h9"/>
<path d="M1118 967v-154h389v-90h17v-64h29v-50h112v-40h2v-34h24v-30h34v-26h20v-24h33v-21h10v-19h4v-18h5v-16h45v-16h8v-14h11v-13h5v-13h14v-12h11v-12h22v-10h8v-11h8v-10h67v-18h9v-9h11v-8h8"/>
<path d="M1374 967v-154h250v-90h13v-64h69v-50h17v-40h41v-34h7v-30h9v-26h16v-24h37v-21h17v-19h16v-34h7v-16h17v-14h23v-13h3v-13h8v-24h19v-10h4v-11h3v-10h57v-9h2v-9h5v-9h6v-8h4"/>
<path d="M1119 967v-154h402v-90h68v-64h22v-50h54v-40h11v-64h2v-26h14v-24h42v-21h34v-19h30v-18h17v-16h23v-30h5v-13h17v-25h6v-12h5v-10h7v-11h42v-10h66v-9h6v-9h8v-9h16v-8h8"/>
<path d="M940 967v-154h339v-90h171v-64h54v-50h18v-40h47v-34h7v-30h2v-26h10v-24h53v-21h37v-19h43v-18h12v-16h3v-16h6v-14h13v-13h55v-13h2v-12h8v-12h2v-10h42v-11h5v-10h93v-9h8v-9h17v-9h15v-8h22"/>
<path d="M1256 967v-154h276v-90h20v-64h51v-90h80v-34h6v-30h47v-50h24v-21h7v-19h22v-18h24v-16h11v-16h9v-14h5v-13h26v-13h12v-12h19v-12h7v-10h11v-11h32v-10h44v-9h11v-9h3v-9h9v-8h12"/>
<path d="M1176 967v-154h359v-90h28v-64h82v-50h11v-40h19v-34h10v-30h32v-26h13v-24h12v-21h13v-19h17v-18h38v-16h17v-16h7v-14h19v-13h6v-13h24v-12h6v-12h19v-10h6v-11h36v-10h49v-9h4v-9h2v-9h5v-8h14"/>
<path d="M1146 967v-154h296v-90h79v-64h12v-50h45v-40h57v-34h36v-30h42v-26h3v-24h4v-21h27v-19h47v-18h2v-16h16v-16h2v-14h4v-13h3v-13h13v-12h35v-12h2v-10h41v-11h31v-10h45v-18h13v-9h7v-8h16"/>
<path d="M899 967v-154h482v-90h17v-64h106v-50h19v-40h66v-34h5v-30h10v-26h20v-24h61v-40h31v-18h24v-16h8v-30h27v-13h24v-13h12v-12h36v-12h18v-10h14v-11h21v-10h66v-9h14v-9h13v-9h12v-8h19"/>
<path d="M1231 967v-154h380v-90h2v-64h86v-50h2v-40h8v-34h44v-56h42v-24h17v-21h11v-19h4v-18h12v-16h16v-30h35v-13h11v-25h8v-12h6v-10h24v-11h23v-10h41v-9h3v-18h12v-8h6"/>
<path d="M1250 967v-154h341v-90h3v-64h19v-50h45v-40h44v-34h17v-30h7v-26h2v-24h22v-21h38v-19h15v-18h34v-32h17v-14h7v-13h38v-25h11v-12h6v-10h14v-11h34v-10h13v-9h20v-9h12v-9h4v-8h11"/>
<path d="M1417 967v-154h154v-90h18v-64h97v-50h18v-40h26v-34h23v-30h7v-26h19v-24h54v-21h5v-19h4v-18h3v-16h8v-16h3v-14h25v-13h15v-13h18v-24h17v-10h10v-11h22v-10h39v-9h6v-9h2v-9h7v-8h7"/>
<path d="M1179 967v-154h376v-90h19v-64h57v-50h3v-40h71v-34h4v-30h35v-26h2v-24h14v-21h19v-19h18v-18h11v-16h4v-16h11v-14h5v-13h32v-13h3v-12h25v-12h3v-10h32v-11h8v-10h60v-9h4v-9h12v-9h9v-8h8"/>
<path d="M1206 967v-154h404v-90h20v-64h15v-50h69v-40h8v-34h27v-30h26v-26h12v-24h3v-21h17v-19h12v-34h2v-16h53v-14h12v-26h11v-12h19v-12h12v-10h6v-11h29v-10h35v-9h3v-9h2v-9h13v-8h8"/>
<path d="M1173 967v-154h376v-90h34v-64h25v-50h16v-40h79v-34h13v-30h16v-26h3v-24h11v-21h13v-19h14v-18h20v-16h12v-16h14v-14h13v-13h8v-13h20v-12h3v-12h7v-10h14v-11h53v-10h54v-9h7v-9h3v-9h12v-8h11"/>
<path d="M1223 967v-154h279v-90h126v-64h24v-50h58v-40h7v-34h11v-30h3v-26h15v-24h5v-21h37v-19h41v-18h2v-16h7v-16h7v-14h3v-13h4v-13h9v-12h29v-12h10v-10h41v-11h8v-10h43v-9h2v-9h14v-9h6v-8h10"/>
<path d="M1221 967v-154h305v-90h37v-64h29v-50h28v-40h8v-34h48v-30h32v-26h8v-24h33v-21h25v-37h26v-16h12v-16h21v-14h13v-13h13v-13h3v-12h19v-12h33v-10h2v-11h29v-10h52v-9h2v-18h17v-8h8"/>
<path d="M1094 967v-154h380v-90h103v-64h19v-50h36v-40h22v-34h5v-30h11v-26h19v-24h59v-58h28v-16h9v-16h7v-14h21v-13h35v-13h14v-12h7v-12h16v-10h20v-11h5v-10h81v-9h6v-9h5v-9h10v-8h12"/>
<path d="M1200 967v-154h363v-90h3v-64h49v-50h73v-40h32v-34h20v-30h3v-71h28v-19h4v-18h47v-16h21v-16h18v-14h25v-13h6v-13h3v-12h11v-12h7v-10h19v-11h26v-10h42v-9h9v-9h2v-9h4v-8h9"/>
<path d="M1351 967v-154h163v-90h135v-64h59v-50h5v-40h29v-34h12v-30h3v-26h16v-24h26v-21h11v-19h49v-18h2v-32h10v-14h24v-13h7v-13h4v-12h26v-12h2v-10h2v-11h13v-10h55v-9h2v-18h10v-8h8"/>
</g>
<path stroke="#00FFFF" d="M1183 967V813H1567.4V659H1613V609.4H1673V568.9H1689.4V534.6H1695.6V505H1718.5V478.8H1748V455.4H1760.3V414.9H1809.4V397.1H1820V365.3H1845V337.5H1868V324.8H1884V312.8H1898V301.4H1905V280.2H1943.7V270.3H1996.3V251.8H2002.3V243.1H2014V234.7H2024"/>
<g stroke="#FF00FF" stroke-opacity="0.012">
<path d="M1843 967v-154h16v-90h8v-114h6v-40h17v-34h8v-30h5v-26h20v-24h2v-21h13v-19h8v-34h9v-16h7v-14h3v-13h7v-13h13v-24h3v-10h10v-11h2v-10h13v-9h11"/>
<path d="M1709 967v-154h13v-90h11v-64h39v-50h15v-40h6v-34h27v-56h15v-24h6v-21h3v-19h27v-18h26v-16h11v-16h13v-14h6v-13h5v-13h14v-24h2v-10h27v-11h5v-10h13v-9h31"/>
<path d="M1804 967v-154h44v-90h5v-114h23v-40h22v-34h12v-30h3v-50h13v-21h4v-19h28v-18h6v-32h10v-40h3v-12h4v-22h5v-11h12v-10h16v-9h10"/>
<path d="M1817 967v-154h20v-154h30v-50h10v-74h11v-30h2v-26h9v-24h29v-21h9v-19h10v-18h10v-16h2v-16h2v-27h18v-37h9v-10h13v-21h10v-9h13"/>
<path d="M1753 967v-154h31v-90h16v-64h39v-90h19v-34h6v-30h10v-26h19v-24h4v-21h8v-19h7v-18h17v-16h16v-16h4v-14h2v-26h4v-12h4v-12h7v-10h17v-11h5v-10h18v-9h18"/>
<path d="M1788 967v-154h65v-90h2v-64h4v-50h18v-40h5v-64h14v-26h11v-24h8v-40h35v-18h2v-16h5v-16h6v-14h4v-26h8v-12h3v-12h10v-10h4v-11h8v-10h14v-9h10"/>
<path d="M1847 967v-154h9v-90h9v-64h6v-50h24v-40h17v-34h6v-30h5v-50h26v-21h3v-19h3v-18h20v-32h3v-14h2v-13h4v-25h5v-12h3v-10h2v-11h6v-10h13v-9h11"/>
<path d="M1692 967v-154h85v-90h49v-64h3v-50h10v-40h4v-34h9v-30h18v-26h7v-24h35v-21h15v-19h12v-18h5v-16h4v-16h4v-14h8v-26h3v-12h4v-12h5v-10h15v-11h4v-10h20v-9h13"/>
<path d="M1744 967v-154h96v-90h9v-64h5v-50h3v-40h12v-34h22v-30h3v-26h7v-24h21v-21h5v-19h11v-18h12v-32h9v-14h4v-13h10v-13h2v-12h2v-12h3v-10h14v-11h2v-10h16v-9h12"/>
<path d="M1791 967v-154h19v-90h43v-114h20v-40h8v-34h12v-30h2v-26h5v-24h3v-21h22v-19h9v-18h11v-16h2v-16h4v-14h15v-13h3v-13h3v-24h3v-10h3v-11h14v-10h12v-9h20"/>
<path d="M1789 967v-154h9v-90h19v-64h6v-50h3v-40h3v-34h6v-30h38v-26h2v-24h37v-40h3v-18h33v-46h11v-26h7v-12h3v-12h11v-10h8v-21h16v-9h20"/>
<path d="M1797 967v-154h10v-90h14v-64h24v-50h2v-40h18v-34h4v-30h27v-26h4v-45h15v-19h3v-18h3v-16h26v-16h13v-14h9v-38h8v-12h7v-10h2v-11h13v-10h11v-9h14"/>
<path d="M1758 967v-154h17v-90h36v-114h27v-40h9v-64h27v-26h17v-24h15v-21h13v-19h10v-34h4v-16h13v-14h4v-13h17v-13h3v-24h4v-10h12v-21h20v-9h18"/>
<path d="M1825 967v-154h19v-90h18v-114h7v-40h16v-34h6v-30h18v-26h8v-24h26v-21h2v-19h8v-18h7v-16h3v-30h3v-13h5v-13h9v-24h9v-31h21v-9h14"/>
<path d="M1836 967v-154h33v-90h25v-64h15v-124h2v-30h6v-26h16v-24h7v-21h8v-19h4v-18h4v-16h6v-16h6v-27h11v-13h5v-12h2v-12h7v-10h8v-11h5v-10h7v-9h11"/>
<path d="M1793 967v-154h14v-90h11v-64h25v-90h31v-34h2v-30h18v-26h7v-24h7v-21h16v-19h2v-18h12v-32h15v-14h7v-13h8v-25h7v-12h11v-10h8v-21h18v-9h12"/>
<path d="M1790 967v-154h65v-90h38v-64h6v-50h3v-40h5v-34h2v-30h5v-26h6v-24h21v-40h16v-34h7v-16h5v-14h6v-13h2v-37h13v-21h8v-10h12v-9h14"/>
<path d="M1819 967v-154h40v-154h6v-50h8v-40h4v-34h10v-30h10v-26h26v-24h10v-21h12v-37h3v-16h16v-16h4v-14h8v-26h2v-12h2v-12h8v-10h9v-21h14v-9h13"/>
<path d="M1757 967v-154h85v-90h4v-64h12v-50h6v-40h12v-64h13v-26h12v-24h20v-21h7v-37h10v-16h18v-16h2v-14h8v-13h4v-25h2v-12h5v-10h11v-11h6v-10h20v-9h10"/>
<path d="M1813 967v-154h6v-90h14v-64h25v-90h8v-34h5v-30h19v-26h25v-24h12v-21h5v-19h2v-18h2v-16h3v-16h12v-14h4v-13h17v-13h8v-24h3v-10h2v-21h27v-9h12"/>
<path d="M1689 967v-154h43v-90h5v-64h15v-50h48v-40h7v-64h2v-26h11v-24h32v-21h27v-19h7v-18h4v-16h4v-16h4v-27h39v-13h13v-12h8v-12h5v-10h14v-11h2v-10h24v-9h21"/>
<path d="M1764 967v-154h49v-90h26v-64h2v-50h9v-74h11v-30h34v-26h4v-24h11v-40h19v-18h16v-16h4v-16h10v-14h2v-26h7v-12h5v-12h9v-10h11v-11h5v-10h13v-9h13"/>
<path d="M1796 967v-154h55v-90h9v-64h2v-50h2v-40h4v-34h22v-30h2v-26h12v-24h21v-21h15v-37h15v-16h8v-16h2v-14h2v-13h5v-13h5v-12h7v-22h3v-11h5v-10h22v-9h10"/>
<path d="M1767 967v-154h52v-90h20v-64h55v-50h3v-40h5v-34h16v-30h4v-26h4v-24h7v-21h8v-19h5v-18h6v-46h24v-13h2v-13h3v-12h4v-22h3v-11h10v-10h15v-9h11"/>
<path d="M1805 967v-154h12v-90h36v-64h12v-50h11v-40h4v-64h9v-26h31v-45h31v-19h7v-50h5v-14h13v-13h6v-25h2v-22h12v-11h4v-10h9v-9h15"/>
<path d="M1763 967v-154h40v-90h31v-64h17v-50h6v-74h15v-30h4v-26h36v-64h16v-18h6v-16h13v-16h2v-14h9v-13h3v-13h4v-12h16v-33h8v-10h21v-9h14"/>
<path d="M1827 967v-154h36v-90h6v-64h11v-50h4v-40h6v-64h11v-26h5v-24h24v-21h8v-19h16v-18h12v-59h3v-13h3v-12h9v-12h7v-10h9v-11h5v-10h9v-9h13"/>
<path d="M1829 967v-154h6v-90h43v-114h9v-74h5v-30h11v-26h3v-45h16v-19h30v-18h9v-32h2v-14h7v-13h7v-13h2v-12h5v-12h6v-10h5v-11h4v-10h11v-9h14"/>
<path d="M1795 967v-154h46v-90h11v-64h18v-50h6v-40h4v-34h11v-30h2v-26h5v-24h29v-21h11v-19h3v-34h10v-16h3v-27h10v-13h6v-12h2v-12h8v-10h11v-21h22v-9h11"/>
<path d="M1865 967v-154h42v-90h14v-64h2v-50h4v-40h5v-34h5v-30h3v-50h13v-21h7v-19h9v-18h11v-16h2v-16h5v-27h3v-13h3v-12h2v-12h3v-10h6v-21h14v-9h6"/>
<path d="M1746 967v-154h18v-90h36v-64h17v-50h12v-40h13v-64h10v-26h24v-24h18v-21h15v-37h8v-16h24v-30h18v-26h3v-12h6v-22h13v-11h7v-10h19v-9h17"/>
<path d="M1773 967v-154h11v-90h2v-64h35v-90h25v-34h26v-30h2v-26h4v-24h18v-21h11v-19h19v-34h8v-16h11v-14h8v-13h4v-25h8v-12h16v-10h6v-11h2v-10h16v-9h19"/>
<path d="M1788 967v-154h27v-90h20v-64h10v-50h18v-40h20v-34h3v-56h11v-24h24v-21h2v-19h25v-34h19v-16h3v-14h4v-26h3v-12h5v-22h11v-11h4v-10h17v-9h10"/>
<path d="M1834 967v-154h31v-154h15v-90h7v-64h2v-26h28v-24h6v-21h5v-19h9v-18h3v-16h7v-16h6v-14h17v-13h7v-13h5v-12h2v-12h9v-21h2v-10h20v-9h9"/>
<path d="M1816 967v-154h4v-90h17v-64h18v-50h6v-40h4v-34h6v-30h14v-26h3v-24h6v-21h44v-19h9v-18h7v-16h6v-16h7v-40h4v-12h3v-12h8v-10h9v-11h3v-10h15v-9h15"/>
<path d="M1762 967v-154h17v-90h24v-64h11v-50h15v-104h9v-26h7v-24h25v-21h32v-19h4v-18h10v-32h11v-14h19v-13h2v-13h16v-24h3v-10h7v-11h10v-10h17v-9h23"/>
<path d="M1824 967v-154h9v-90h27v-64h8v-90h8v-34h8v-30h11v-26h24v-24h8v-21h16v-19h2v-18h4v-16h8v-16h4v-14h3v-26h9v-12h5v-12h10v-10h3v-11h3v-10h19v-9h11"/>
<path d="M1650 967v-154h5v-90h68v-64h22v-50h31v-40h22v-34h10v-30h6v-26h25v-24h14v-21h27v-19h28v-34h2v-16h21v-27h10v-13h15v-12h4v-12h8v-10h5v-11h5v-10h22v-9h24"/>
<path d="M1800 967v-154h15v-154h4v-90h2v-34h23v-56h23v-24h4v-21h55v-19h5v-18h5v-16h2v-16h8v-14h11v-13h4v-13h2v-12h5v-12h4v-21h3v-10h31v-9h18"/>
<path d="M1811 967v-154h23v-90h12v-64h18v-50h8v-40h3v-34h8v-30h17v-26h12v-24h27v-21h5v-19h10v-34h8v-16h4v-27h7v-13h9v-24h2v-10h6v-11h4v-10h19v-9h11"/>
<path d="M1857 967v-154h5v-90h6v-64h24v-50h3v-74h5v-56h25v-24h8v-21h9v-19h12v-18h7v-16h2v-16h5v-14h6v-38h13v-12h5v-10h7v-11h5v-10h12v-9h8"/>
<path d="M1740 967v-154h23v-90h9v-64h26v-50h3v-40h22v-34h22v-30h4v-26h15v-24h4v-21h7v-19h21v-18h4v-16h19v-16h8v-14h20v-13h2v-13h8v-12h2v-22h14v-11h9v-10h25v-9h17"/>
<path d="M1880 967v-244h4v-64h16v-50h8v-40h2v-34h7v-30h2v-26h13v-24h10v-21h11v-19h7v-18h6v-46h9v-13h5v-13h5v-12h2v-12h4v-21h4v-10h16v-9h13"/>
<path d="M1737 967v-154h7v-90h56v-64h2v-90h6v-34h13v-30h38v-50h44v-21h24v-19h4v-18h7v-46h10v-13h8v-25h17v-12h3v-10h6v-11h5v-10h17v-9h20"/>
<path d="M1873 967v-154h26v-90h5v-114h2v-40h25v-64h16v-26h9v-24h2v-21h9v-19h8v-34h3v-30h2v-13h8v-13h3v-12h2v-12h2v-21h8v-10h10v-9h11"/>
<path d="M1754 967v-154h62v-90h21v-64h22v-50h3v-40h6v-34h3v-30h5v-26h8v-24h20v-21h23v-19h3v-18h8v-16h2v-30h16v-13h3v-13h9v-12h3v-12h8v-10h5v-21h28v-9h12"/>
<path d="M1797 967v-154h45v-90h2v-64h9v-50h6v-74h2v-30h7v-26h22v-24h16v-21h11v-19h30v-18h5v-16h7v-16h2v-14h3v-13h12v-13h3v-24h5v-10h4v-11h2v-10h21v-9h13"/>
<path d="M1767 967v-154h34v-90h26v-64h17v-50h12v-40h13v-34h2v-30h21v-26h3v-24h7v-21h27v-19h8v-18h11v-32h4v-14h3v-13h8v-13h13v-12h8v-22h6v-11h4v-10h17v-9h13"/>
<path d="M1780 967v-154h62v-90h6v-114h9v-40h2v-34h28v-30h11v-26h7v-24h4v-21h2v-19h12v-18h20v-16h7v-16h3v-14h4v-13h2v-13h8v-12h7v-12h6v-10h10v-11h7v-10h12v-9h15"/>
<path d="M1717 967v-154h115v-90h13v-64h14v-50h3v-40h4v-64h6v-26h11v-24h8v-21h9v-19h21v-18h11v-16h16v-16h11v-27h6v-13h5v-24h12v-10h12v-21h19v-9h11"/>
<path d="M1852 967v-154h15v-90h18v-64h2v-50h3v-40h4v-90h14v-24h20v-21h2v-19h18v-18h3v-16h11v-16h5v-27h10v-13h4v-24h4v-10h6v-11h6v-10h16v-9h11"/>
<path d="M1766 967v-154h41v-90h17v-64h5v-50h4v-40h6v-34h26v-56h30v-24h8v-21h4v-19h5v-18h3v-16h22v-16h9v-14h2v-13h2v-13h8v-12h9v-12h11v-10h5v-21h23v-9h18"/>
<path d="M1804 967v-154h22v-90h23v-64h3v-50h13v-40h6v-34h4v-30h6v-26h13v-24h26v-21h3v-19h6v-18h21v-16h3v-16h6v-27h9v-13h2v-24h7v-10h8v-21h25v-9h14"/>
<path d="M1806 967v-154h9v-90h5v-64h17v-50h2v-40h8v-34h26v-30h17v-26h27v-24h4v-21h9v-19h2v-18h9v-32h8v-14h8v-13h2v-13h10v-12h11v-22h3v-11h7v-10h17v-9h17"/>
<path d="M1832 967v-154h12v-90h3v-64h11v-50h4v-40h3v-34h14v-30h7v-26h5v-24h10v-21h13v-19h14v-18h10v-16h6v-16h17v-14h2v-13h2v-13h11v-24h4v-10h4v-11h8v-10h17v-9h15"/>
<path d="M1750 967v-154h36v-90h11v-64h6v-50h25v-40h9v-34h2v-30h9v-26h4v-24h39v-21h14v-19h24v-34h3v-16h7v-14h13v-26h7v-12h4v-12h4v-10h8v-11h10v-10h25v-9h14"/>
<path d="M1844 967v-154h8v-90h12v-64h9v-50h2v-40h7v-34h14v-30h4v-26h24v-45h15v-53h19v-16h2v-14h6v-13h4v-13h11v-12h2v-12h3v-10h7v-11h2v-10h18v-9h11"/>
<path d="M1772 967v-154h43v-90h16v-64h3v-50h34v-74h16v-30h2v-26h9v-24h6v-21h8v-19h17v-18h8v-16h11v-16h16v-14h4v-26h6v-12h3v-22h10v-11h9v-10h14v-9h17"/>
<path d="M1808 967v-154h38v-90h20v-64h17v-50h6v-40h2v-34h22v-30h8v-26h7v-24h16v-21h7v-19h2v-34h19v-30h3v-26h6v-12h8v-12h2v-10h3v-11h8v-10h11v-9h11"/>
<path d="M1814 967v-154h27v-90h12v-64h10v-50h6v-40h9v-34h20v-30h6v-26h5v-24h18v-21h10v-19h10v-18h3v-16h7v-16h5v-14h4v-13h5v-13h2v-12h2v-12h11v-10h3v-11h4v-10h20v-9h11"/>
<path d="M1801 967v-154h15v-90h5v-64h30v-50h11v-40h8v-64h20v-50h20v-21h24v-19h5v-18h5v-16h16v-30h4v-13h9v-13h2v-12h4v-22h6v-11h9v-10h14v-9h16"/>
<path d="M1769 967v-154h65v-90h2v-64h4v-50h11v-74h13v-30h5v-26h17v-24h5v-21h39v-19h10v-18h5v-16h8v-30h6v-13h6v-13h5v-12h2v-12h8v-10h6v-11h9v-10h16v-9h13"/>
<path d="M1855 967v-154h34v-90h2v-64h14v-50h4v-40h5v-34h5v-30h5v-26h14v-24h4v-21h2v-19h5v-18h6v-16h18v-30h3v-13h8v-25h2v-12h4v-10h2v-11h5v-10h18v-9h9"/>
<path d="M1848 967v-154h27v-90h37v-64h2v-50h7v-40h2v-64h8v-50h16v-21h2v-19h16v-18h5v-16h6v-16h2v-27h8v-25h9v-12h6v-31h17v-9h6"/>
<path d="M1799 967v-154h61v-90h5v-64h2v-50h9v-40h21v-34h5v-30h4v-26h3v-24h11v-21h24v-19h13v-18h3v-32h4v-14h8v-13h3v-13h5v-12h6v-12h3v-10h3v-11h11v-10h10v-9h11"/>
<path d="M1756 967v-154h35v-90h49v-64h11v-50h9v-40h2v-34h7v-30h34v-26h6v-24h4v-21h10v-19h27v-18h3v-32h5v-14h4v-26h8v-12h10v-12h2v-10h10v-11h2v-10h14v-9h16"/>
<path d="M1859 967v-154h15v-90h5v-114h2v-40h4v-34h5v-30h19v-26h24v-24h15v-40h5v-18h5v-16h2v-16h6v-14h4v-13h6v-13h2v-12h7v-12h7v-10h7v-21h12v-9h13"/>
<path d="M1802 967v-154h27v-90h28v-64h6v-50h5v-40h5v-64h7v-26h10v-24h31v-21h2v-19h17v-18h4v-16h2v-16h13v-14h4v-26h3v-12h5v-12h12v-10h6v-11h4v-10h18v-9h13"/>
<path d="M1827 967v-154h3v-90h4v-64h7v-50h2v-40h6v-34h34v-30h13v-26h14v-24h3v-21h17v-19h15v-18h2v-32h6v-14h6v-13h4v-13h12v-12h12v-22h4v-11h5v-10h15v-9h13"/>
<path d="M1861 967v-244h38v-64h16v-90h6v-64h12v-50h8v-21h15v-19h11v-18h11v-32h2v-14h3v-13h5v-13h3v-24h5v-10h7v-21h11v-9h10"/>
<path d="M1740 967v-154h75v-90h3v-64h32v-50h5v-40h3v-34h7v-30h3v-26h12v-24h18v-21h7v-19h17v-18h27v-16h4v-16h6v-27h4v-13h2v-12h11v-12h2v-10h9v-11h4v-10h16v-9h17"/>
<path d="M1866 967v-244h9v-64h11v-50h11v-74h5v-30h18v-26h7v-24h13v-21h3v-19h26v-34h6v-30h2v-26h5v-12h4v-22h4v-11h15v-10h10v-9h9"/>
<path d="M1689 967v-154h99v-90h5v-64h2v-50h21v-74h2v-30h50v-26h11v-24h19v-21h17v-37h8v-16h8v-16h11v-14h7v-13h16v-13h6v-24h2v-10h5v-11h6v-10h10v-9h30"/>
<path d="M1844 967v-154h28v-90h5v-114h7v-40h4v-34h3v-30h34v-50h9v-21h7v-19h8v-18h8v-16h7v-16h4v-14h7v-13h3v-25h6v-12h8v-10h3v-11h3v-10h14v-9h12"/>
<path d="M1788 967v-154h39v-90h12v-64h14v-50h7v-40h24v-34h2v-30h10v-26h12v-24h5v-21h26v-19h5v-18h4v-16h6v-16h8v-14h3v-13h11v-25h5v-22h13v-11h8v-10h10v-9h12"/>
<path d="M1734 967v-154h78v-154h12v-50h9v-40h15v-34h7v-30h9v-26h20v-24h10v-21h33v-19h4v-18h10v-16h7v-16h9v-27h7v-13h2v-12h2v-12h7v-10h9v-11h12v-10h17v-9h11"/>
<path d="M1794 967v-154h4v-90h43v-64h7v-50h21v-74h15v-30h4v-26h2v-24h8v-21h30v-19h9v-34h5v-16h9v-14h6v-26h6v-24h15v-10h5v-11h8v-10h18v-9h15"/>
<path d="M1813 967v-154h32v-90h3v-114h13v-40h23v-34h16v-30h12v-26h6v-24h2v-21h10v-19h18v-18h3v-16h2v-30h11v-13h11v-13h2v-24h14v-10h2v-11h4v-10h13v-9h14"/>
<path d="M1742 967v-154h41v-154h40v-50h5v-40h23v-64h16v-50h9v-21h39v-19h7v-18h4v-16h8v-30h3v-13h22v-13h8v-12h2v-12h9v-10h7v-11h5v-10h20v-9h14"/>
<path d="M1716 967v-154h27v-90h45v-64h8v-50h16v-40h2v-34h8v-30h13v-26h32v-24h8v-21h10v-19h12v-18h5v-16h24v-16h4v-27h19v-13h3v-12h3v-12h6v-10h5v-11h17v-10h22v-9h19"/>
<path d="M1784 967v-154h47v-90h40v-114h3v-40h5v-34h9v-30h10v-26h4v-24h26v-21h18v-19h5v-18h4v-16h8v-16h2v-14h10v-13h2v-13h6v-24h2v-10h3v-11h12v-10h10v-9h14"/>
<path d="M1739 967v-154h64v-90h33v-64h3v-50h6v-40h25v-34h9v-30h20v-50h6v-21h8v-19h21v-18h2v-16h9v-16h3v-14h14v-13h6v-13h2v-12h9v-22h3v-11h8v-10h23v-9h11"/>
<path d="M1833 967v-154h24v-90h19v-64h9v-50h2v-40h4v-34h18v-30h7v-26h17v-24h12v-40h15v-50h2v-14h10v-13h2v-25h5v-12h3v-10h12v-21h15v-9h15"/>
<path d="M1764 967v-154h125v-90h3v-64h3v-90h11v-34h2v-30h13v-26h4v-24h20v-21h9v-19h11v-18h3v-32h8v-27h3v-37h11v-10h3v-11h13v-10h6v-9h12"/>
<path d="M1715 967v-154h34v-90h22v-64h45v-50h4v-40h2v-34h20v-30h4v-26h2v-24h43v-21h3v-19h7v-18h4v-16h9v-16h14v-14h13v-13h12v-13h4v-12h2v-22h6v-11h14v-10h29v-9h16"/>
<path d="M1768 967v-154h10v-90h38v-64h11v-50h6v-40h2v-34h9v-30h6v-26h2v-24h14v-21h37v-19h18v-18h2v-16h16v-16h6v-14h7v-26h3v-12h3v-12h16v-10h9v-11h6v-10h20v-9h15"/>
<path d="M1863 967v-154h48v-154h5v-50h5v-104h2v-26h3v-24h10v-21h20v-37h15v-16h3v-16h5v-14h5v-13h5v-13h2v-12h5v-33h8v-10h10v-9h10"/>
<path d="M1810 967v-154h44v-90h2v-114h4v-40h15v-34h17v-56h8v-24h16v-21h21v-19h9v-18h3v-16h2v-16h2v-14h7v-13h9v-25h3v-12h3v-10h15v-11h7v-10h12v-9h15"/>
<path d="M1809 967v-154h17v-90h27v-64h7v-50h5v-40h4v-34h18v-30h9v-26h18v-24h20v-21h9v-19h3v-18h11v-16h7v-16h4v-14h3v-13h2v-13h3v-12h7v-22h14v-21h15v-9h12"/>
<path d="M1796 967v-154h68v-90h17v-64h7v-90h2v-34h5v-30h23v-50h25v-21h4v-19h6v-18h7v-16h4v-16h4v-14h4v-13h6v-13h3v-12h7v-22h9v-21h17v-9h10"/>
<path d="M1784 967v-154h17v-90h34v-64h2v-90h11v-34h14v-30h3v-26h10v-24h10v-21h10v-19h35v-18h8v-32h5v-14h4v-26h4v-12h18v-12h3v-21h7v-10h29v-9h16"/>
<path d="M1664 967v-154h109v-90h20v-64h6v-50h11v-40h3v-34h6v-56h27v-24h7v-21h2v-19h27v-18h42v-16h6v-16h16v-14h3v-26h4v-24h5v-10h12v-11h15v-10h14v-9h25"/>
<path d="M1740 967v-154h62v-90h12v-64h3v-50h7v-40h10v-34h13v-30h2v-26h18v-24h13v-21h19v-19h4v-18h10v-16h5v-16h26v-27h5v-13h2v-12h9v-12h7v-10h4v-11h15v-10h19v-9h19"/>
<path d="M1708 967v-154h77v-90h41v-64h3v-50h8v-40h8v-34h22v-56h6v-24h16v-21h14v-19h12v-18h7v-16h20v-16h4v-14h13v-13h3v-13h2v-24h4v-10h9v-11h19v-10h12v-9h16"/>
<path d="M1779 967v-154h42v-90h25v-64h2v-50h7v-40h16v-34h4v-30h22v-26h2v-24h6v-21h16v-19h10v-34h16v-16h5v-14h4v-13h10v-13h2v-12h11v-12h4v-10h11v-21h18v-9h12"/>
<path d="M1837 967v-154h12v-90h23v-64h24v-50h10v-40h4v-34h10v-30h9v-26h3v-24h3v-40h18v-18h5v-16h16v-30h4v-26h2v-12h6v-12h4v-10h13v-11h2v-10h9v-9h10"/>
<path d="M1829 967v-154h8v-90h12v-64h15v-50h13v-40h2v-34h16v-30h3v-26h17v-24h8v-21h3v-19h13v-18h4v-16h13v-30h7v-13h7v-13h10v-12h2v-22h6v-11h7v-10h10v-9h19"/>
<path d="M1772 967v-154h23v-154h11v-90h7v-34h12v-30h24v-26h18v-24h19v-21h6v-37h18v-16h26v-16h8v-14h4v-13h2v-13h2v-24h2v-10h19v-11h2v-10h32v-9h17"/>
<path d="M1814 967v-154h32v-90h2v-64h36v-50h6v-40h12v-90h21v-45h25v-19h5v-34h9v-16h10v-14h4v-38h7v-12h7v-10h4v-11h12v-10h6v-9h12"/>
<path d="M1715 967v-154h89v-90h8v-114h6v-40h13v-34h5v-30h3v-26h14v-24h21v-21h18v-19h15v-18h11v-16h3v-16h12v-14h5v-13h11v-13h13v-12h6v-12h9v-21h7v-10h9v-9h31"/>
</g>
<path stroke="#FF00FF" d="M1790 967V813H1835V722.9H1840V659H1847V609.4H1863.7V568.9H1866.7V505H1872.8V478.8H1895.3V455.4H1903.5V434.2H1926V414.9H1939.5V397.1H1940.3V380.6H1949V365.3H1955.8V351H1958.4V337.5H1966V324.8H1972V312.8H1974.7V301.4H1977.3V290.6H1987.7V280.2H1992V270.3H2010V260.9H2024"/>
<g stroke="#FFA500" stroke-opacity="0.012">
<path d="M1130 967v-154h209v-90h60v-64h160v-50h58v-40h17v-34h35v-30h17v-26h84v-24h20v-21h10v-19h4v-34h16v-16h8v-14h3v-13h5v-13h6v-12h10v-12h13v-10h10v-11h13v-10h2v-9h2v-18h8v-8h10v-8h3v-8h2v-8h4v-7h21v-7h8v-7h4v-7h3v-6h7v-18h10v-17h3v-5h3v-6h5v-10h12v-9h5v-10h3v-9h5v-8h3v-8h4v-12h2v-11h4v-4h3"/>
<path d="M895 967v-154h287v-90h20v-64h202v-50h21v-40h83v-34h34v-30h35v-26h4v-24h24v-21h10v-19h36v-18h23v-16h16v-16h34v-14h8v-13h15v-13h3v-12h5v-12h48v-10h7v-11h6v-10h8v-9h15v-9h27v-9h3v-8h5v-8h10v-8h6v-15h9v-7h3v-7h23v-7h6v-6h3v-6h7v-6h4v-12h3v-6h3v-5h2v-5h3v-6h4v-5h5v-5h4v-5h5v-4h5v-5h8v-5h3v-13h6v-8h8v-8h2v-8h4v-8h6v-7h8"/>
<path d="M1296 967v-154h16v-90h118v-64h121v-50h15v-40h13v-34h21v-30h5v-26h51v-24h85v-21h36v-19h9v-34h5v-16h2v-14h29v-13h2v-25h2v-12h3v-10h7v-11h3v-10h38v-9h12v-9h3v-17h4v-8h3v-8h8v-8h5v-7h15v-7h6v-7h8v-7h10v-18h11v-12h2v-6h3v-5h6v-5h2v-6h2v-5h6v-5h2v-5h12v-4h2v-14h4v-9h4v-4h2v-8h3v-4h2v-16h3v-7h7"/>
<path d="M1155 967v-154h212v-90h58v-64h119v-50h21v-40h41v-34h36v-30h27v-50h49v-21h16v-19h34v-18h3v-16h13v-16h7v-14h24v-26h13v-12h7v-22h11v-21h4v-9h28v-9h12v-9h21v-8h3v-8h10v-8h11v-8h8v-14h5v-20h3v-6h3v-6h5v-6h4v-6h4v-11h5v-11h2v-5h2v-10h20v-9h3v-5h2v-9h5v-4h2v-4h4v-8h2v-12h2v-11h2v-4h6"/>
<path d="M1391 967v-154h74v-90h64v-64h86v-50h41v-40h7v-34h16v-30h62v-26h6v-24h7v-21h27v-19h3v-18h7v-16h39v-16h13v-14h3v-26h2v-12h4v-12h4v-10h10v-11h16v-10h4v-9h5v-9h4v-17h3v-8h10v-8h3v-8h12v-7h9v-7h7v-7h8v-7h19v-12h4v-12h3v-12h3v-5h2v-11h2v-10h3v-5h20v-9h2v-5h3v-17h8v-20h2v-11h4v-4h2"/>
<path d="M631 967v-154h505v-90h16v-64h233v-50h23v-40h107v-34h4v-30h48v-26h43v-24h6v-21h3v-19h9v-18h94v-16h3v-16h17v-14h20v-13h8v-13h2v-24h11v-10h30v-21h16v-9h19v-18h5v-8h3v-8h31v-8h2v-8h3v-7h9v-7h3v-7h7v-7h13v-6h8v-6h9v-12h5v-12h3v-5h5v-5h2v-6h3v-5h10v-5h6v-5h7v-9h14v-5h2v-4h3v-5h2v-8h2v-8h3v-8h2v-8h3v-7h2v-4h9"/>
<path d="M1350 967v-154h54v-90h91v-64h134v-50h4v-40h2v-34h7v-30h64v-26h26v-24h33v-21h10v-19h6v-18h8v-16h31v-16h5v-14h5v-13h15v-25h10v-22h8v-11h5v-10h13v-9h7v-9h17v-9h5v-8h2v-8h5v-8h3v-8h5v-7h18v-7h7v-7h5v-7h3v-6h3v-6h5v-6h2v-6h2v-12h2v-5h7v-5h3v-11h2v-5h6v-5h10v-9h3v-9h4v-13h3v-4h4v-8h2v-12h3v-7h2v-4h3"/>
<path d="M1087 967v-154h72v-90h81v-64h3v-50h179v-40h12v-34h78v-30h97v-26h38v-24h14v-21h27v-19h6v-18h8v-16h5v-16h23v-14h24v-13h25v-13h13v-12h2v-12h6v-21h14v-10h13v-9h17v-9h17v-9h7v-8h7v-16h6v-8h2v-7h4v-7h7v-7h5v-13h15v-6h22v-6h6v-12h2v-6h7v-5h3v-5h5v-11h7v-5h11v-5h2v-9h6v-5h5v-4h3v-9h2v-4h3v-8h3v-4h2v-4h3v-4h2v-8h5v-7h11"/>
<path d="M633 967v-154h118v-90h307v-64h140v-50h42v-40h101v-34h10v-30h29v-26h42v-24h13v-21h71v-19h85v-18h11v-16h29v-16h18v-14h9v-13h22v-13h16v-24h2v-10h9v-11h44v-10h20v-9h8v-9h48v-9h9v-24h10v-8h15v-7h2v-7h16v-14h11v-6h3v-6h9v-6h11v-6h3v-6h6v-6h4v-10h4v-6h16v-10h6v-5h3v-4h7v-5h11v-5h2v-4h5v-5h4v-8h3v-4h3v-8h4v-4h5v-8h2v-4h3v-3h2v-4h18"/>
<path d="M1048 967v-154h134v-90h167v-64h135v-50h27v-40h7v-34h40v-30h4v-26h36v-24h5v-21h45v-19h44v-18h29v-16h3v-16h31v-14h18v-26h4v-12h14v-12h20v-10h3v-11h15v-10h2v-9h31v-9h12v-9h5v-8h6v-8h5v-8h7v-8h12v-7h16v-7h11v-14h4v-18h3v-6h4v-6h12v-11h3v-11h2v-5h9v-5h6v-5h2v-4h9v-5h3v-5h6v-4h2v-13h2v-4h2v-4h2v-8h2v-4h2v-8h4v-7h9"/>
<path d="M1012 967v-244h93v-64h240v-50h21v-74h66v-30h10v-26h46v-24h75v-21h7v-19h75v-18h27v-16h9v-16h30v-14h11v-13h4v-25h4v-12h14v-10h9v-11h6v-19h55v-18h13v-8h6v-8h8v-8h18v-8h16v-14h18v-7h10v-7h8v-12h5v-6h5v-6h12v-6h2v-6h9v-5h3v-11h3v-5h5v-5h7v-5h8v-4h10v-5h2v-5h2v-13h3v-8h8v-4h5v-4h3v-4h2v-15h9v-4h10"/>
<path d="M1338 967v-154h143v-90h6v-64h121v-50h47v-40h4v-34h17v-30h10v-26h2v-45h63v-19h15v-34h23v-16h4v-14h12v-13h22v-13h13v-24h2v-10h7v-11h7v-10h15v-9h36v-18h6v-16h10v-8h5v-15h7v-7h13v-7h5v-7h8v-12h3v-6h2v-12h3v-6h4v-5h3v-11h5v-10h2v-5h9v-4h8v-5h2v-5h3v-13h4v-4h3v-16h2v-4h2v-11h3v-4h5"/>
<path d="M609 967v-154h298v-90h294v-64h75v-50h40v-40h172v-34h22v-30h26v-26h29v-24h12v-21h79v-19h5v-18h19v-16h4v-30h15v-13h41v-13h16v-12h12v-12h6v-10h27v-11h2v-10h10v-9h13v-9h5v-9h33v-8h9v-8h9v-8h6v-15h9v-7h8v-14h9v-6h8v-6h10v-6h7v-6h2v-12h3v-10h2v-11h6v-5h6v-5h20v-4h5v-5h2v-5h3v-4h2v-9h4v-4h7v-12h2v-8h3v-4h3v-4h5v-7h10"/>
<path d="M757 967v-154h2v-90h531v-64h21v-50h34v-40h38v-34h86v-30h21v-26h6v-24h28v-21h70v-19h54v-18h47v-16h14v-16h11v-27h21v-13h2v-12h27v-12h22v-10h12v-11h12v-10h5v-9h19v-9h15v-9h10v-8h3v-8h6v-16h7v-7h5v-7h28v-7h2v-7h8v-6h9v-6h5v-6h3v-6h6v-6h4v-22h6v-5h5v-10h17v-9h14v-5h2v-9h2v-4h2v-12h3v-12h2v-4h4v-4h2v-7h14"/>
<path d="M821 967v-154h461v-90h37v-64h3v-50h129v-40h46v-34h13v-30h95v-26h4v-24h69v-21h19v-19h20v-18h2v-16h3v-16h19v-14h7v-13h7v-13h5v-12h17v-12h17v-10h7v-11h21v-10h9v-9h17v-9h9v-9h17v-8h16v-8h2v-8h7v-8h5v-7h5v-7h6v-7h9v-7h7v-6h6v-12h12v-6h2v-6h3v-6h5v-5h4v-11h4v-5h5v-5h3v-5h9v-4h6v-5h6v-9h3v-5h3v-4h3v-4h4v-20h4v-8h2v-3h2v-4h7"/>
<path d="M1224 967v-154h46v-90h147v-64h4v-50h60v-40h116v-34h2v-30h23v-26h2v-45h44v-19h39v-18h21v-16h24v-16h10v-27h7v-13h14v-12h14v-12h20v-10h13v-11h5v-10h8v-9h29v-18h4v-8h12v-16h10v-8h6v-7h3v-7h15v-7h9v-13h12v-6h4v-6h2v-6h10v-6h2v-6h3v-10h8v-11h9v-10h8v-4h2v-5h5v-14h7v-8h2v-8h3v-8h2v-8h4v-4h2v-3h2v-4h6"/>
<path d="M150 967v-154h594v-90h29v-64h237v-50h152v-40h6v-34h49v-30h49v-26h55v-24h31v-21h9v-19h17v-18h169v-16h27v-16h5v-14h2v-13h20v-13h28v-12h19v-12h20v-10h24v-11h19v-10h7v-9h26v-9h43v-9h13v-8h4v-8h12v-8h13v-8h6v-7h20v-7h7v-7h3v-7h2v-6h13v-6h8v-12h2v-6h3v-11h2v-5h7v-6h23v-15h6v-4h7v-5h2v-5h17v-4h6v-5h7v-4h10v-4h4v-8h2v-4h3v-12h3v-7h2v-4h30"/>
<path d="M974 967v-154h206v-90h101v-64h164v-50h39v-40h4v-34h72v-30h48v-26h3v-24h5v-21h31v-19h39v-18h35v-16h26v-16h3v-14h4v-13h8v-13h15v-12h8v-12h7v-10h5v-11h21v-10h29v-9h5v-9h3v-9h23v-8h3v-16h4v-8h14v-7h3v-7h4v-7h9v-7h19v-6h3v-6h2v-6h7v-6h3v-12h4v-10h2v-6h3v-5h16v-10h4v-9h16v-5h2v-4h3v-9h2v-8h2v-8h4v-12h2v-4h7v-7h8"/>
<path d="M1185 967v-154h229v-90h160v-64h11v-50h31v-40h11v-34h37v-30h9v-26h6v-24h70v-21h13v-19h4v-34h21v-16h23v-27h2v-13h5v-12h21v-22h16v-11h33v-19h2v-9h8v-9h5v-16h3v-8h4v-8h5v-7h3v-7h15v-7h12v-7h2v-12h6v-6h9v-6h2v-6h3v-6h3v-5h5v-5h5v-6h3v-10h9v-9h8v-5h5v-14h5v-8h3v-20h2v-8h3v-7h7"/>
<path d="M881 967v-154h37v-90h256v-64h97v-50h26v-40h46v-34h98v-30h34v-26h51v-24h26v-21h36v-19h20v-18h57v-16h45v-43h9v-13h16v-12h12v-12h20v-21h21v-10h45v-9h2v-26h14v-8h2v-8h7v-8h13v-7h14v-7h4v-7h25v-7h3v-6h8v-6h2v-12h2v-6h4v-6h2v-5h3v-5h3v-6h12v-5h4v-5h16v-5h6v-4h2v-5h6v-9h3v-5h2v-8h2v-4h2v-4h3v-4h2v-4h2v-8h5v-7h8v-4h8"/>
<path d="M829 967v-154h147v-90h210v-64h75v-50h130v-40h28v-34h63v-30h34v-26h42v-24h62v-21h23v-37h16v-16h18v-16h3v-14h20v-13h30v-13h14v-24h5v-10h3v-11h15v-10h11v-9h53v-18h22v-8h3v-8h3v-8h8v-8h14v-7h4v-7h27v-7h4v-7h7v-6h4v-12h2v-6h4v-6h8v-6h2v-5h10v-5h2v-6h2v-5h4v-5h13v-9h5v-10h5v-4h8v-5h2v-4h2v-8h2v-4h2v-8h2v-4h3v-8h4v-3h4v-4h11"/>
<path d="M792 967v-154h68v-90h65v-64h60v-50h150v-40h173v-34h10v-30h132v-26h27v-24h27v-21h9v-19h32v-18h62v-16h28v-16h19v-14h17v-13h6v-25h50v-12h2v-21h10v-10h11v-9h46v-9h14v-9h4v-8h3v-8h14v-8h9v-8h18v-7h3v-7h15v-7h9v-7h20v-6h4v-6h4v-12h6v-6h5v-11h5v-11h5v-5h15v-5h3v-5h16v-9h2v-5h6v-9h3v-4h3v-4h7v-4h2v-4h2v-8h2v-4h4v-8h4v-3h7v-4h14"/>
<path d="M514 967v-154h60v-90h146v-64h502v-50h43v-40h2v-34h83v-30h13v-26h8v-24h41v-21h24v-19h71v-18h117v-16h44v-16h8v-14h20v-13h9v-13h13v-12h5v-12h13v-10h35v-21h5v-9h7v-9h14v-9h12v-8h6v-8h5v-8h5v-8h28v-7h33v-7h3v-14h8v-12h6v-6h2v-6h7v-6h6v-11h5v-11h10v-10h6v-5h28v-4h6v-5h2v-5h3v-4h2v-5h5v-4h3v-4h2v-4h2v-4h2v-4h2v-4h4v-8h2v-4h4v-7h18"/>
<path d="M761 967v-154h65v-90h176v-64h248v-50h8v-40h125v-34h24v-30h20v-26h88v-24h11v-21h33v-19h16v-18h15v-16h38v-16h22v-14h4v-13h50v-13h5v-12h25v-12h9v-10h33v-21h12v-9h19v-9h3v-9h18v-8h6v-8h4v-8h6v-8h7v-7h5v-7h2v-7h20v-13h3v-6h5v-6h2v-6h14v-6h4v-6h14v-5h3v-5h10v-6h3v-5h15v-5h5v-5h5v-9h10v-5h2v-4h4v-9h2v-4h11v-8h2v-4h2v-4h8v-8h2v-4h6v-3h4v-4h10"/>
<path d="M1257 967v-154h129v-90h83v-64h4v-50h163v-40h2v-34h13v-30h23v-26h56v-24h53v-21h8v-19h5v-18h7v-16h18v-16h6v-14h15v-13h4v-13h12v-12h6v-12h7v-10h4v-11h4v-10h8v-9h9v-9h18v-9h8v-8h2v-8h4v-8h5v-15h11v-7h11v-14h8v-6h5v-6h3v-18h5v-16h2v-6h7v-5h2v-5h3v-5h6v-4h8v-10h5v-9h2v-4h2v-4h2v-20h3v-11h3v-4h3"/>
<path d="M480 967v-154h445v-90h87v-64h298v-50h103v-40h39v-34h16v-30h68v-26h53v-24h29v-21h42v-19h13v-18h11v-16h15v-16h37v-14h6v-13h9v-13h3v-12h5v-12h34v-10h8v-11h3v-10h6v-9h4v-9h2v-9h10v-8h31v-8h2v-8h15v-8h2v-7h3v-7h12v-7h11v-7h7v-6h6v-12h17v-6h5v-17h11v-5h5v-6h3v-10h11v-5h4v-9h3v-5h3v-4h13v-5h3v-4h2v-12h2v-4h2v-12h4v-4h5v-7h16"/>
<path d="M948 967v-154h243v-90h126v-64h28v-50h71v-40h55v-34h90v-30h52v-26h53v-24h7v-21h7v-19h10v-18h38v-16h9v-16h17v-14h30v-13h20v-13h5v-12h11v-12h5v-10h9v-11h10v-10h6v-9h13v-9h3v-9h18v-8h4v-8h3v-8h7v-8h13v-7h6v-7h7v-7h12v-19h6v-6h12v-12h3v-6h2v-5h5v-11h5v-5h9v-10h5v-4h3v-5h4v-5h7v-4h2v-5h2v-4h2v-4h2v-8h3v-4h2v-4h3v-12h3v-3h3v-4h5"/>
<path d="M701 967v-154h418v-90h36v-64h128v-50h62v-40h11v-34h112v-30h21v-50h65v-21h9v-19h83v-18h30v-16h13v-16h5v-14h26v-13h2v-25h27v-12h7v-10h10v-11h9v-10h19v-9h3v-9h27v-9h12v-8h17v-8h12v-16h7v-7h12v-7h27v-7h3v-7h3v-6h6v-18h4v-6h2v-6h3v-10h4v-6h2v-5h2v-5h19v-5h25v-4h2v-5h2v-5h2v-13h8v-12h3v-16h2v-7h5v-4h16"/>
<path d="M538 967v-154h636v-90h91v-64h153v-50h52v-40h78v-34h3v-30h10v-26h4v-24h9v-21h39v-19h29v-18h64v-16h8v-16h7v-14h17v-26h13v-12h21v-12h9v-10h9v-11h31v-10h13v-9h18v-9h6v-9h7v-16h14v-8h14v-8h4v-7h3v-7h7v-7h4v-7h6v-6h8v-6h16v-6h2v-6h2v-12h3v-5h2v-5h5v-6h2v-10h19v-5h12v-4h3v-10h5v-4h2v-13h2v-8h7v-4h2v-8h2v-8h2v-3h5v-4h6"/>
<path d="M150 967v-244h535v-64h216v-50h93v-40h58v-34h171v-30h3v-26h29v-24h37v-21h3v-19h142v-18h12v-16h26v-16h66v-14h13v-13h18v-13h22v-12h64v-12h12v-10h14v-11h29v-10h7v-9h2v-9h9v-9h3v-8h20v-8h20v-8h6v-8h16v-7h3v-7h21v-7h3v-7h3v-6h18v-6h4v-6h21v-12h4v-6h19v-5h10v-5h3v-6h9v-5h11v-5h2v-5h11v-4h6v-5h4v-5h5v-4h5v-5h2v-12h8v-4h9v-8h2v-8h3v-4h2v-3h10v-4h30"/>
<path d="M265 967v-154h269v-90h193v-64h527v-50h32v-40h33v-34h44v-30h42v-26h34v-24h39v-21h20v-19h46v-18h7v-16h69v-16h36v-14h18v-13h5v-13h27v-12h7v-12h12v-10h22v-11h3v-10h10v-9h18v-9h10v-9h9v-8h26v-8h10v-8h10v-8h31v-7h2v-7h8v-14h21v-6h4v-6h3v-6h2v-12h5v-6h5v-16h7v-10h9v-5h8v-4h9v-5h3v-5h14v-4h6v-5h6v-4h6v-4h3v-4h3v-16h2v-4h3v-4h5v-3h5v-4h11"/>
<path d="M754 967v-154h67v-90h22v-64h351v-50h33v-40h18v-34h58v-30h19v-26h20v-24h38v-21h2v-19h182v-18h63v-16h11v-16h28v-14h13v-13h9v-13h7v-12h19v-12h4v-10h8v-21h10v-9h33v-9h10v-9h10v-8h8v-8h15v-16h22v-7h25v-7h5v-7h36v-13h5v-6h2v-6h2v-12h7v-11h5v-5h4v-6h9v-5h11v-5h4v-9h4v-10h24v-9h6v-16h5v-4h4v-4h4v-4h3v-4h2v-4h2v-7h21"/>
<path d="M872 967v-154h225v-90h251v-64h133v-50h39v-40h32v-34h58v-30h2v-26h60v-45h36v-19h8v-18h54v-16h21v-16h2v-14h2v-13h4v-13h4v-12h8v-12h2v-10h2v-11h6v-10h27v-9h20v-9h16v-9h3v-8h2v-8h7v-8h11v-8h10v-7h15v-14h8v-7h9v-6h3v-6h4v-12h2v-17h7v-5h2v-6h7v-5h4v-10h10v-4h5v-5h4v-9h2v-5h2v-4h2v-8h5v-8h5v-19h2v-4h9"/>
<path d="M509 967v-154h362v-90h83v-64h351v-50h37v-40h27v-34h13v-30h16v-26h72v-24h61v-21h14v-19h11v-18h4v-16h59v-16h8v-14h34v-13h19v-13h21v-12h2v-12h31v-10h10v-11h7v-10h63v-9h10v-18h8v-8h2v-8h15v-16h8v-14h17v-7h18v-7h11v-6h7v-6h2v-12h3v-6h7v-6h6v-5h3v-5h11v-6h2v-10h7v-5h7v-4h2v-5h10v-5h3v-4h3v-5h18v-12h5v-12h3v-12h4v-7h18"/>
<path d="M1088 967v-154h21v-90h83v-64h237v-50h8v-40h60v-34h57v-30h20v-26h22v-24h17v-21h41v-19h9v-18h12v-16h21v-16h23v-14h24v-26h3v-12h57v-12h2v-10h9v-11h7v-10h6v-9h4v-9h32v-9h7v-8h7v-8h7v-8h16v-15h6v-7h6v-7h20v-19h6v-12h5v-17h11v-5h4v-6h9v-5h2v-5h3v-5h9v-4h7v-5h4v-5h4v-13h2v-8h4v-4h2v-4h2v-4h3v-12h3v-3h2v-4h10"/>
<path d="M1006 967v-154h162v-90h200v-64h61v-50h61v-40h19v-34h81v-30h17v-26h30v-24h28v-21h22v-19h54v-18h35v-16h4v-16h13v-14h10v-13h9v-13h2v-12h2v-12h3v-10h21v-11h11v-19h11v-18h11v-8h2v-8h16v-8h18v-22h24v-7h10v-7h2v-12h2v-6h5v-12h2v-11h3v-5h7v-6h3v-5h8v-5h2v-5h8v-4h4v-5h7v-5h5v-17h3v-4h3v-8h4v-8h4v-8h2v-3h2v-4h5"/>
<path d="M833 967v-154h416v-90h131v-64h100v-50h68v-40h65v-64h15v-26h17v-24h26v-21h42v-19h34v-18h15v-16h24v-16h10v-14h8v-13h6v-13h9v-12h8v-12h2v-21h20v-10h22v-9h6v-9h2v-9h13v-8h15v-8h11v-16h4v-7h9v-7h9v-7h2v-7h4v-6h6v-6h7v-6h2v-6h2v-6h5v-11h6v-5h2v-6h3v-5h3v-10h14v-9h4v-9h5v-5h4v-12h3v-12h2v-8h2v-4h3v-7h5"/>
<path d="M654 967v-154h80v-90h330v-64h146v-50h141v-40h21v-64h17v-26h13v-24h57v-21h10v-19h81v-18h73v-16h24v-16h23v-14h20v-13h26v-13h14v-12h16v-12h2v-21h11v-10h15v-9h36v-9h18v-9h7v-8h6v-16h18v-8h5v-7h2v-7h5v-7h21v-7h4v-6h4v-6h12v-6h2v-6h5v-12h5v-5h2v-5h3v-6h11v-5h3v-5h5v-5h10v-4h16v-5h6v-9h2v-5h3v-4h3v-8h3v-8h8v-4h2v-4h2v-11h4v-4h17"/>
<path d="M726 967v-154h71v-90h174v-64h74v-50h162v-40h137v-34h6v-30h74v-26h12v-24h132v-21h11v-19h21v-18h31v-16h19v-16h4v-14h7v-13h15v-13h10v-12h29v-12h11v-10h20v-11h8v-10h10v-9h6v-9h30v-9h3v-8h19v-8h4v-8h13v-8h24v-7h3v-14h12v-7h24v-6h7v-12h7v-6h5v-6h2v-6h4v-10h8v-6h11v-10h16v-5h6v-9h3v-5h3v-4h2v-5h5v-8h4v-8h4v-8h8v-4h5v-8h5v-3h5v-4h12"/>
<path d="M1119 967v-154h232v-90h17v-64h224v-50h64v-40h11v-34h25v-30h4v-26h7v-24h23v-21h39v-19h22v-18h21v-16h2v-16h2v-14h10v-13h5v-13h8v-12h14v-12h11v-10h4v-11h3v-10h12v-9h6v-9h5v-9h4v-8h5v-8h18v-8h14v-15h9v-14h5v-7h2v-6h12v-12h9v-6h2v-22h2v-6h7v-5h3v-10h9v-4h12v-5h2v-14h3v-8h5v-8h2v-16h2v-7h2v-4h5"/>
<path d="M870 967v-154h318v-90h195v-64h7v-50h32v-40h33v-34h32v-30h89v-26h4v-24h18v-21h24v-19h2v-18h56v-16h53v-16h3v-14h14v-26h27v-12h17v-12h3v-10h9v-11h3v-10h4v-9h3v-18h28v-8h11v-8h6v-8h5v-15h9v-7h17v-7h21v-7h3v-6h16v-6h11v-24h7v-10h2v-6h10v-5h10v-10h5v-9h6v-5h11v-9h3v-12h3v-4h7v-8h3v-8h2v-4h2v-3h2v-4h8"/>
<path d="M1221 967v-154h134v-90h166v-64h60v-50h75v-40h21v-34h2v-30h17v-26h18v-24h51v-40h6v-18h15v-16h23v-16h2v-14h12v-13h12v-13h4v-12h3v-12h2v-21h11v-10h10v-9h29v-9h8v-9h2v-8h2v-8h7v-8h6v-15h9v-7h16v-7h2v-7h5v-6h3v-6h9v-12h4v-6h4v-11h2v-11h2v-5h8v-5h3v-5h12v-4h5v-14h5v-17h5v-8h2v-8h2v-11h2v-4h5"/>
<path d="M652 967v-154h122v-90h203v-64h293v-50h73v-40h17v-34h16v-30h16v-26h48v-24h73v-21h26v-19h70v-18h39v-16h51v-16h6v-14h8v-13h6v-25h2v-12h4v-10h13v-11h6v-10h58v-9h12v-18h17v-8h8v-8h21v-8h3v-8h5v-7h3v-14h29v-7h8v-6h5v-6h4v-6h13v-6h5v-12h4v-5h4v-5h6v-11h2v-5h5v-5h10v-4h2v-5h6v-5h14v-9h5v-4h2v-4h3v-8h4v-8h2v-8h4v-7h2v-4h14"/>
<path d="M994 967v-154h210v-90h135v-64h157v-50h12v-40h53v-34h11v-30h5v-50h96v-21h16v-19h56v-18h19v-16h20v-16h3v-14h4v-13h2v-13h13v-12h8v-12h5v-10h6v-11h3v-10h9v-9h28v-9h25v-9h6v-24h2v-8h3v-7h3v-7h5v-7h18v-7h20v-12h2v-6h3v-6h5v-6h5v-11h4v-5h4v-6h4v-5h5v-10h7v-4h5v-5h3v-5h3v-9h4v-4h5v-8h2v-8h2v-8h2v-4h2v-4h3v-7h7"/>
<path d="M367 967v-154h536v-90h112v-64h317v-50h10v-40h34v-34h19v-30h46v-26h71v-24h37v-21h30v-19h15v-18h40v-16h16v-16h3v-14h11v-13h18v-13h2v-12h13v-12h48v-10h27v-11h5v-10h8v-9h24v-9h23v-9h6v-8h7v-8h12v-8h2v-8h5v-7h26v-7h21v-7h2v-13h7v-6h3v-12h5v-12h6v-5h13v-11h2v-5h2v-5h9v-5h13v-9h6v-14h2v-4h5v-4h3v-8h6v-8h3v-12h5v-3h6v-4h15"/>
<path d="M884 967v-154h326v-90h79v-64h5v-50h177v-40h12v-34h62v-30h37v-26h20v-24h24v-21h18v-19h47v-18h17v-16h33v-16h14v-14h6v-13h42v-13h9v-12h9v-22h3v-11h4v-10h11v-9h17v-9h16v-17h8v-16h8v-8h8v-7h8v-7h13v-7h7v-7h5v-6h7v-6h4v-6h2v-18h8v-5h2v-5h2v-6h8v-5h7v-5h9v-5h3v-4h4v-10h4v-4h3v-9h6v-4h3v-8h4v-12h3v-4h3v-7h2v-4h11"/>
<path d="M1222 967v-154h243v-90h125v-114h18v-40h32v-34h32v-30h44v-26h22v-24h30v-21h19v-19h3v-18h7v-16h62v-16h4v-40h7v-12h5v-12h6v-10h5v-11h5v-10h9v-9h9v-9h11v-9h10v-8h2v-8h2v-16h9v-14h17v-14h2v-12h3v-6h2v-6h7v-6h3v-11h2v-11h9v-10h6v-5h7v-9h3v-5h6v-13h4v-12h2v-12h2v-8h2v-7h4"/>
<path d="M243 967v-154h141v-90h528v-64h157v-50h44v-40h145v-34h9v-30h15v-26h43v-24h37v-21h114v-19h126v-18h22v-16h7v-16h7v-14h7v-13h26v-13h30v-12h13v-12h6v-10h5v-11h17v-10h28v-9h32v-9h3v-17h6v-8h3v-8h23v-8h9v-7h5v-7h11v-7h5v-13h8v-6h7v-6h11v-12h10v-11h4v-5h3v-6h10v-5h4v-5h5v-5h14v-4h14v-10h3v-4h11v-13h3v-4h15v-12h4v-8h12v-4h2v-3h3v-4h14"/>
<path d="M971 967v-154h99v-90h369v-64h30v-50h35v-40h21v-34h29v-30h78v-26h56v-24h14v-21h12v-19h38v-18h20v-16h16v-16h2v-14h2v-13h3v-13h20v-12h5v-12h21v-10h5v-21h11v-9h11v-18h17v-8h4v-8h7v-8h9v-8h5v-7h4v-7h7v-7h6v-13h4v-6h9v-6h6v-6h3v-6h3v-6h5v-5h9v-5h3v-6h10v-10h4v-5h2v-4h9v-5h3v-5h2v-9h6v-4h2v-12h3v-8h4v-12h5v-7h5"/>
<path d="M1081 967v-154h207v-90h34v-64h296v-50h9v-40h4v-64h8v-26h21v-24h25v-21h55v-19h8v-18h11v-16h11v-16h28v-27h24v-13h5v-12h2v-12h3v-31h33v-9h24v-9h4v-17h12v-8h6v-16h4v-7h18v-7h15v-14h5v-6h3v-12h4v-12h2v-11h5v-5h2v-6h2v-10h7v-5h15v-4h7v-10h4v-4h3v-17h3v-8h3v-4h2v-12h2v-7h7"/>
<path d="M834 967v-154h377v-90h32v-64h155v-50h52v-40h28v-34h21v-30h26v-26h74v-24h50v-21h67v-19h7v-34h23v-16h4v-14h19v-13h20v-13h5v-34h2v-11h16v-10h35v-9h12v-9h2v-9h12v-16h12v-8h4v-8h20v-7h8v-14h7v-7h13v-6h4v-6h6v-12h5v-17h3v-5h17v-6h2v-5h5v-14h8v-10h4v-4h4v-5h3v-8h5v-8h3v-4h2v-8h4v-4h4v-11h8"/>
<path d="M930 967v-154h110v-90h340v-114h42v-40h93v-34h31v-30h19v-26h103v-24h35v-21h12v-19h24v-18h2v-16h5v-16h20v-27h3v-13h4v-12h9v-12h20v-10h2v-11h9v-10h19v-9h8v-9h12v-17h22v-8h8v-8h10v-8h8v-7h9v-7h2v-7h7v-7h9v-6h6v-6h6v-6h8v-6h9v-6h2v-6h8v-10h2v-16h2v-5h11v-4h5v-5h3v-5h2v-9h6v-4h6v-4h4v-8h2v-8h2v-8h2v-4h2v-3h2v-4h7"/>
<path d="M1036 967v-154h123v-90h199v-64h40v-50h105v-40h70v-34h4v-30h77v-26h24v-24h8v-21h8v-19h5v-18h38v-16h37v-16h16v-14h6v-13h11v-25h5v-12h2v-10h6v-11h29v-10h16v-9h4v-9h15v-9h6v-8h3v-8h15v-16h16v-14h2v-7h4v-7h3v-6h14v-6h10v-12h3v-6h4v-11h4v-5h6v-6h2v-10h4v-5h9v-4h4v-5h2v-9h2v-5h2v-4h3v-4h6v-8h2v-8h4v-8h2v-7h3v-4h5"/>
<path d="M1041 967v-154h215v-90h68v-64h10v-50h175v-40h33v-34h25v-30h62v-26h6v-24h50v-21h6v-37h31v-16h34v-16h13v-14h4v-13h3v-13h5v-24h5v-10h3v-11h39v-10h3v-9h21v-9h16v-9h6v-8h11v-8h4v-8h2v-8h8v-7h13v-7h4v-14h4v-6h7v-6h14v-6h6v-12h3v-11h10v-16h8v-5h3v-5h4v-4h18v-5h6v-18h2v-8h5v-12h6v-12h6v-7h6"/>
<path d="M760 967v-154h180v-90h345v-64h114v-50h95v-40h23v-34h44v-30h47v-26h6v-24h46v-21h7v-19h35v-18h38v-16h18v-16h4v-14h3v-13h12v-13h15v-12h2v-12h6v-10h3v-11h7v-19h20v-9h11v-9h42v-8h3v-16h8v-8h4v-14h8v-7h16v-7h3v-6h17v-6h8v-6h5v-6h3v-12h5v-16h4v-5h2v-5h15v-5h4v-9h2v-14h10v-8h2v-8h3v-4h2v-8h3v-8h4v-7h10"/>
<path d="M1233 967v-154h280v-90h23v-64h3v-50h15v-40h44v-34h65v-30h53v-26h12v-24h29v-21h9v-19h33v-18h23v-46h4v-13h14v-13h13v-24h14v-21h8v-10h11v-9h5v-9h2v-9h2v-8h19v-8h8v-16h5v-7h4v-7h4v-7h5v-7h17v-12h2v-12h8v-6h4v-6h3v-10h3v-6h4v-5h4v-5h3v-5h11v-4h2v-10h2v-9h5v-4h3v-8h2v-16h2v-8h5v-7h4"/>
<path d="M1055 967v-154h157v-90h116v-64h43v-50h45v-40h9v-34h160v-30h15v-26h4v-24h48v-21h52v-37h33v-16h16v-16h8v-14h2v-13h12v-13h6v-12h30v-12h2v-10h22v-21h2v-9h3v-9h15v-9h7v-8h9v-8h24v-8h3v-15h28v-14h6v-13h6v-6h9v-6h2v-6h3v-6h4v-6h3v-5h3v-11h9v-10h2v-5h15v-9h3v-9h5v-5h5v-8h2v-4h3v-8h2v-4h2v-4h3v-8h2v-3h4v-4h5"/>
<path d="M906 967v-154h194v-90h223v-64h169v-50h119v-40h15v-34h14v-30h6v-26h2v-24h10v-21h13v-19h83v-18h19v-32h8v-14h11v-26h17v-12h2v-12h4v-21h2v-10h14v-9h25v-9h33v-9h5v-8h7v-8h10v-23h3v-7h19v-7h3v-7h11v-6h7v-6h3v-6h3v-6h5v-6h8v-16h2v-6h4v-5h2v-5h6v-5h4v-9h2v-5h8v-9h3v-8h3v-4h4v-12h3v-12h2v-7h8"/>
<path d="M761 967v-154h329v-90h234v-64h86v-50h70v-74h74v-30h7v-26h13v-24h70v-21h24v-19h21v-18h36v-16h31v-16h27v-14h4v-13h4v-13h6v-12h12v-12h11v-10h8v-21h7v-9h2v-9h26v-9h3v-8h11v-8h11v-8h2v-15h4v-7h22v-7h6v-7h15v-12h4v-6h6v-6h4v-6h5v-6h5v-5h6v-5h7v-11h4v-5h3v-9h2v-5h7v-5h2v-4h6v-9h4v-8h5v-8h2v-12h3v-4h2v-3h5v-4h5"/>
<path d="M973 967v-154h224v-90h56v-64h10v-50h137v-40h69v-34h18v-30h34v-26h46v-24h12v-21h43v-19h11v-18h29v-16h62v-16h11v-14h12v-13h9v-13h2v-12h14v-12h4v-10h12v-11h4v-10h37v-9h12v-9h22v-9h14v-24h7v-8h3v-7h9v-7h14v-7h10v-7h3v-6h15v-18h7v-12h6v-5h6v-5h5v-6h2v-5h5v-5h3v-5h4v-4h9v-10h2v-4h2v-5h2v-4h8v-8h3v-4h2v-4h3v-4h2v-4h2v-8h4v-3h3v-4h6"/>
<path d="M1138 967v-154h65v-90h94v-64h252v-50h56v-40h50v-34h21v-30h11v-26h16v-24h5v-21h22v-19h36v-18h15v-16h9v-16h15v-14h10v-13h2v-25h5v-12h7v-10h6v-11h2v-10h6v-9h40v-9h2v-9h18v-8h6v-8h7v-8h3v-8h6v-7h12v-7h7v-7h2v-7h2v-6h6v-12h8v-6h2v-6h6v-6h2v-5h2v-5h6v-11h6v-5h7v-9h10v-14h3v-5h2v-8h5v-16h2v-15h6v-4h3"/>
<path d="M1102 967v-154h327v-90h82v-64h106v-90h6v-34h9v-30h17v-26h5v-24h92v-21h42v-19h9v-18h19v-16h6v-16h5v-14h3v-13h2v-13h5v-12h3v-12h2v-10h5v-11h6v-10h20v-9h6v-9h19v-9h14v-8h2v-8h5v-8h2v-8h2v-7h2v-7h12v-7h15v-7h9v-6h3v-6h2v-6h2v-18h7v-10h2v-6h3v-5h4v-5h5v-5h10v-4h3v-5h3v-18h4v-4h2v-4h2v-16h3v-8h2v-3h2v-4h4"/>
<path d="M961 967v-154h192v-90h160v-64h127v-50h47v-40h35v-34h39v-30h32v-26h12v-24h7v-21h50v-19h5v-18h7v-16h26v-16h34v-14h10v-13h29v-13h12v-34h13v-11h24v-10h17v-9h9v-9h15v-9h5v-8h11v-8h7v-8h3v-15h15v-7h2v-7h10v-7h3v-12h17v-6h2v-6h11v-6h2v-6h8v-5h2v-5h2v-11h3v-5h7v-5h7v-4h2v-5h3v-5h2v-4h6v-5h8v-8h2v-12h2v-4h4v-8h5v-7h4v-4h6"/>
<path d="M1305 967v-154h2v-90h88v-64h139v-50h20v-40h40v-34h19v-30h48v-26h14v-24h9v-21h50v-19h3v-18h25v-16h2v-16h29v-14h2v-13h16v-13h6v-12h16v-22h2v-21h10v-18h16v-9h22v-8h15v-8h11v-8h3v-8h5v-7h3v-14h19v-7h9v-6h11v-12h5v-18h5v-5h3v-11h4v-5h2v-5h4v-5h4v-4h7v-10h6v-4h3v-9h2v-4h3v-8h2v-8h3v-4h2v-15h10"/>
<path d="M1307 967v-154h19v-90h156v-64h53v-50h52v-40h32v-34h9v-30h21v-26h92v-24h27v-40h22v-18h15v-16h14v-16h11v-14h11v-13h10v-25h4v-12h4v-10h3v-21h9v-9h12v-9h8v-9h17v-8h4v-8h3v-8h11v-15h4v-7h4v-7h2v-7h6v-6h2v-6h9v-6h4v-6h9v-6h2v-6h2v-5h6v-11h2v-5h9v-5h6v-5h2v-4h2v-5h8v-14h2v-4h2v-8h3v-8h2v-8h2v-8h2v-3h2v-4h4"/>
<path d="M856 967v-154h218v-90h204v-64h109v-50h21v-40h40v-34h15v-30h6v-26h31v-24h25v-21h46v-19h13v-18h100v-16h9v-16h3v-14h27v-13h30v-13h15v-12h2v-12h5v-10h4v-11h21v-10h35v-9h19v-9h5v-9h10v-8h12v-8h4v-16h3v-7h18v-7h2v-7h7v-7h4v-6h3v-6h6v-12h4v-6h6v-6h8v-10h4v-6h5v-10h15v-9h4v-5h3v-5h9v-4h3v-5h2v-4h8v-12h6v-12h4v-8h5v-7h10"/>
<path d="M995 967v-154h3v-90h337v-64h46v-50h11v-40h52v-34h112v-30h6v-26h2v-24h2v-21h46v-19h76v-18h6v-16h39v-16h20v-14h14v-13h2v-13h2v-12h2v-12h8v-21h15v-10h39v-18h7v-9h7v-8h18v-8h3v-8h6v-8h5v-7h18v-7h6v-7h8v-7h3v-6h2v-6h12v-6h4v-12h6v-6h2v-5h2v-5h3v-6h9v-5h5v-5h13v-5h4v-9h5v-5h6v-9h3v-4h3v-12h6v-4h2v-8h8v-11h3v-4h10"/>
<path d="M1274 967v-154h45v-90h105v-64h128v-50h15v-40h3v-34h30v-30h29v-50h24v-40h42v-18h96v-16h8v-16h7v-14h7v-13h2v-13h3v-12h3v-22h20v-11h20v-10h2v-18h27v-17h5v-8h2v-8h4v-8h6v-7h16v-7h19v-7h7v-7h5v-12h2v-6h3v-6h2v-6h2v-11h8v-5h2v-6h4v-5h2v-10h16v-4h2v-10h4v-9h2v-8h3v-8h5v-8h2v-8h3v-7h4v-4h4"/>
<path d="M852 967v-154h155v-90h291v-64h153v-50h9v-40h18v-34h115v-30h46v-26h36v-24h5v-21h53v-19h21v-18h4v-16h7v-16h16v-14h3v-13h2v-13h6v-12h19v-12h7v-21h8v-10h15v-9h10v-9h32v-9h2v-8h9v-8h4v-8h5v-8h3v-7h12v-7h7v-7h7v-7h12v-12h2v-6h3v-6h5v-6h3v-11h5v-11h12v-5h2v-10h8v-4h4v-5h7v-5h3v-9h5v-8h3v-4h3v-12h2v-12h3v-3h2v-4h8"/>
<path d="M830 967v-154h387v-90h155v-64h53v-50h16v-40h56v-34h64v-56h46v-24h39v-21h16v-19h6v-18h75v-16h29v-16h5v-14h14v-13h8v-13h4v-12h19v-12h9v-10h9v-11h2v-10h3v-9h13v-9h19v-17h3v-16h6v-8h6v-7h5v-7h2v-7h18v-7h12v-6h7v-12h14v-6h4v-6h3v-11h4v-16h4v-5h6v-5h12v-4h3v-10h9v-4h5v-9h2v-8h2v-4h3v-8h3v-12h5v-7h9"/>
<path d="M778 967v-154h133v-90h242v-64h198v-50h135v-40h10v-34h30v-30h25v-26h18v-24h6v-21h25v-19h26v-18h77v-16h3v-16h17v-14h2v-13h8v-13h15v-12h10v-12h4v-10h39v-21h22v-9h6v-9h4v-9h19v-8h5v-8h20v-8h5v-8h4v-14h10v-7h2v-7h36v-6h3v-6h2v-6h8v-6h4v-6h2v-6h4v-10h3v-6h3v-5h6v-10h6v-4h9v-5h5v-9h9v-9h2v-8h3v-12h3v-12h4v-3h6v-4h8"/>
<path d="M588 967v-154h500v-90h20v-64h2v-50h234v-40h14v-34h120v-30h8v-26h3v-24h33v-21h44v-19h47v-18h72v-16h28v-16h19v-14h11v-13h14v-13h4v-12h2v-12h8v-10h7v-11h15v-10h46v-9h2v-26h4v-8h5v-8h16v-15h13v-7h22v-7h4v-7h6v-6h5v-6h3v-6h12v-6h4v-12h11v-10h5v-11h3v-5h4v-5h3v-4h7v-5h11v-5h7v-9h2v-4h4v-4h7v-8h3v-4h2v-12h6v-4h4v-3h2v-4h8"/>
<path d="M1286 967v-154h52v-90h66v-64h149v-90h66v-34h9v-30h54v-26h10v-24h26v-21h50v-19h4v-18h2v-16h23v-16h13v-14h3v-13h21v-13h7v-12h5v-12h17v-10h10v-30h6v-9h9v-9h22v-8h5v-8h3v-8h2v-8h7v-7h7v-14h9v-7h13v-6h7v-12h3v-6h6v-12h2v-10h4v-6h5v-5h5v-5h2v-5h3v-14h8v-4h5v-5h3v-8h2v-4h2v-12h2v-12h2v-3h2v-4h5"/>
<path d="M944 967v-154h442v-90h93v-64h59v-50h6v-40h78v-34h8v-30h30v-26h13v-24h11v-21h70v-19h33v-18h20v-32h13v-14h11v-13h5v-13h3v-12h5v-12h11v-10h10v-11h13v-10h10v-9h2v-18h8v-8h3v-8h8v-8h9v-8h3v-14h2v-7h22v-13h7v-12h11v-6h6v-12h2v-5h3v-11h6v-10h5v-5h4v-4h4v-5h6v-5h3v-9h5v-12h2v-8h4v-12h3v-7h6v-4h2"/>
<path d="M793 967v-154h332v-90h204v-64h40v-50h164v-40h22v-34h4v-30h4v-26h8v-24h47v-21h90v-19h6v-18h29v-16h6v-16h15v-14h3v-13h9v-13h23v-24h7v-10h12v-11h14v-10h12v-9h3v-9h24v-9h23v-16h11v-8h5v-8h3v-14h6v-7h8v-7h10v-6h2v-6h7v-6h5v-6h5v-6h3v-6h2v-5h5v-11h4v-5h6v-5h3v-5h10v-4h5v-5h3v-5h3v-13h5v-8h2v-8h2v-8h2v-4h6v-4h2v-7h5"/>
<path d="M741 967v-154h139v-90h77v-64h273v-50h11v-74h207v-30h7v-26h48v-24h55v-21h10v-19h59v-18h39v-16h18v-16h41v-14h13v-13h17v-13h4v-12h4v-12h15v-21h7v-10h2v-9h6v-9h43v-9h6v-8h8v-16h2v-8h25v-7h3v-7h6v-7h7v-7h6v-6h3v-6h17v-6h4v-6h11v-12h2v-5h10v-5h3v-6h9v-5h11v-5h2v-14h2v-5h5v-4h2v-5h4v-8h4v-4h6v-8h2v-4h3v-4h6v-8h2v-3h6v-4h11"/>
<path d="M715 967v-154h362v-90h85v-64h80v-50h48v-40h115v-34h26v-56h80v-24h25v-21h28v-19h20v-18h5v-16h59v-16h12v-14h4v-13h10v-13h4v-12h5v-12h28v-10h11v-11h8v-10h40v-9h20v-9h2v-9h19v-8h20v-8h16v-23h37v-7h11v-7h3v-7h2v-6h2v-12h4v-6h3v-12h7v-5h18v-11h3v-5h3v-5h4v-9h10v-10h15v-4h8v-5h5v-4h5v-4h5v-8h4v-4h2v-8h2v-11h12v-4h12"/>
<path d="M1146 967v-154h65v-90h68v-64h119v-50h153v-40h18v-34h32v-30h33v-26h29v-24h2v-21h13v-19h6v-18h17v-16h23v-16h44v-27h6v-13h2v-24h26v-10h4v-11h23v-10h11v-9h9v-9h11v-9h3v-8h20v-8h2v-8h6v-8h17v-7h10v-7h9v-7h11v-7h2v-12h4v-6h3v-12h5v-6h3v-5h5v-5h3v-6h2v-10h7v-5h14v-9h8v-5h4v-4h4v-9h2v-4h2v-4h2v-8h2v-4h3v-8h2v-11h9"/>
<path d="M1064 967v-154h334v-90h28v-64h25v-50h17v-40h119v-34h18v-30h5v-26h42v-24h23v-21h26v-19h14v-18h53v-16h10v-16h18v-14h9v-13h15v-25h7v-12h14v-21h11v-19h20v-9h6v-9h11v-8h9v-8h2v-8h7v-15h2v-14h15v-7h7v-6h12v-12h10v-6h4v-12h3v-5h3v-5h4v-6h6v-5h6v-14h5v-5h8v-9h6v-5h5v-4h2v-12h2v-4h2v-12h3v-4h3v-3h3v-4h6"/>
<path d="M967 967v-154h227v-90h163v-64h23v-50h170v-40h16v-34h51v-30h7v-26h32v-24h32v-21h3v-19h36v-18h23v-16h26v-16h11v-14h3v-13h14v-13h9v-12h8v-12h15v-10h2v-11h2v-10h9v-9h6v-9h23v-9h5v-8h2v-8h5v-8h14v-8h10v-14h16v-7h7v-7h7v-18h13v-12h2v-11h9v-11h3v-5h8v-10h9v-4h12v-10h3v-9h2v-12h3v-4h3v-4h2v-8h2v-15h9"/>
<path d="M1354 967v-154h33v-90h98v-64h29v-50h49v-40h55v-34h5v-30h31v-26h60v-24h21v-21h23v-19h45v-18h12v-16h37v-30h2v-26h2v-12h11v-12h10v-10h5v-21h9v-9h8v-18h3v-8h5v-8h3v-8h11v-8h16v-7h2v-7h12v-14h10v-12h6v-12h5v-6h2v-6h3v-5h3v-11h4v-5h6v-5h4v-5h4v-9h5v-5h2v-9h4v-8h2v-12h4v-16h5v-7h4"/>
<path d="M1158 967v-154h67v-90h263v-64h47v-50h51v-40h24v-34h23v-30h44v-26h28v-45h4v-19h19v-18h34v-16h4v-30h11v-13h34v-13h11v-12h5v-12h12v-10h5v-11h12v-10h2v-9h12v-9h20v-17h4v-8h11v-16h7v-14h8v-7h9v-7h7v-6h23v-18h4v-6h4v-11h5v-11h8v-10h3v-5h6v-4h5v-10h7v-13h3v-4h4v-4h2v-4h2v-12h2v-8h3v-7h7"/>
<path d="M817 967v-154h116v-90h38v-64h356v-50h59v-40h47v-34h26v-30h41v-26h14v-24h90v-21h30v-19h63v-18h16v-16h19v-16h14v-14h7v-13h2v-25h7v-12h4v-10h7v-11h25v-10h17v-9h23v-9h20v-9h3v-8h18v-16h9v-8h2v-7h5v-7h2v-7h16v-7h12v-6h4v-6h7v-6h3v-6h8v-12h3v-10h3v-6h2v-5h3v-5h5v-5h6v-9h4v-5h9v-9h9v-4h3v-12h12v-8h2v-12h3v-3h4v-4h9"/>
<path d="M966 967v-154h112v-90h122v-64h90v-50h65v-40h44v-34h80v-30h62v-26h29v-24h22v-21h81v-19h22v-18h3v-16h43v-16h5v-14h23v-26h8v-12h12v-12h23v-10h6v-21h12v-18h50v-9h6v-8h2v-8h3v-16h3v-7h4v-7h5v-7h10v-7h9v-6h5v-6h13v-6h5v-6h4v-12h8v-5h2v-11h4v-10h10v-5h11v-4h3v-5h3v-14h9v-8h2v-8h2v-8h2v-4h3v-8h2v-3h3v-4h11"/>
<path d="M753 967v-154h462v-90h107v-64h191v-50h5v-40h7v-34h14v-30h85v-26h35v-24h16v-21h42v-19h23v-18h23v-16h9v-16h21v-14h7v-13h2v-25h2v-12h11v-21h24v-10h22v-9h31v-9h7v-9h6v-8h2v-8h3v-16h10v-7h7v-7h14v-7h6v-13h4v-6h6v-12h3v-12h3v-5h3v-11h11v-5h2v-10h15v-4h2v-5h7v-14h2v-8h5v-8h2v-12h2v-8h2v-3h4v-4h4"/>
<path d="M1067 967v-154h345v-90h54v-64h38v-50h30v-40h2v-34h52v-30h87v-26h9v-24h44v-21h30v-19h4v-34h18v-16h20v-14h21v-13h8v-13h8v-24h6v-21h11v-10h12v-9h26v-9h4v-9h8v-8h5v-8h4v-8h2v-8h4v-7h16v-14h7v-7h3v-6h3v-6h3v-6h9v-6h2v-6h2v-11h4v-5h11v-6h5v-10h2v-5h8v-4h6v-14h4v-17h2v-4h4v-12h2v-4h3v-4h3v-7h6"/>
<path d="M818 967v-154h247v-90h89v-64h79v-50h282v-40h43v-34h3v-30h10v-26h4v-24h17v-21h20v-19h41v-18h22v-16h62v-16h7v-14h5v-13h10v-13h5v-12h9v-12h20v-10h8v-11h27v-10h15v-18h6v-9h18v-16h8v-8h3v-8h10v-7h2v-7h8v-7h12v-7h23v-6h2v-12h7v-12h7v-11h3v-5h5v-6h2v-5h5v-5h7v-5h2v-4h6v-5h12v-5h4v-9h3v-8h2v-8h4v-8h3v-4h2v-4h3v-4h2v-7h10"/>
<path d="M1074 967v-154h372v-90h27v-64h172v-50h46v-40h5v-34h12v-30h35v-26h7v-24h28v-40h26v-18h23v-16h4v-16h6v-27h13v-13h4v-12h6v-22h4v-11h4v-10h8v-9h3v-9h29v-9h6v-8h7v-8h3v-8h6v-8h6v-14h16v-7h11v-7h5v-6h2v-6h2v-6h3v-6h3v-12h2v-10h5v-11h3v-5h4v-9h11v-10h6v-13h4v-4h2v-16h2v-8h2v-7h3v-4h2"/>
<path d="M998 967v-154h134v-90h195v-64h124v-50h68v-40h32v-34h9v-30h17v-26h20v-24h28v-21h49v-19h9v-18h7v-32h60v-14h18v-26h15v-12h6v-12h14v-10h6v-11h13v-10h17v-9h5v-9h14v-9h4v-8h10v-16h12v-8h18v-7h6v-7h6v-14h8v-6h12v-12h20v-23h2v-11h8v-5h7v-5h4v-5h4v-4h8v-5h6v-9h6v-5h2v-8h2v-8h2v-8h2v-8h3v-4h7v-7h7"/>
<path d="M751 967v-154h220v-90h246v-64h71v-50h20v-40h129v-34h9v-30h130v-26h21v-24h28v-21h5v-19h17v-18h37v-16h27v-16h7v-14h33v-13h9v-13h8v-12h5v-12h13v-10h3v-11h2v-10h9v-9h30v-9h8v-9h9v-8h20v-8h4v-8h5v-8h7v-7h12v-14h25v-7h7v-18h6v-6h3v-6h5v-6h4v-10h7v-6h4v-5h9v-5h5v-5h2v-4h2v-5h4v-5h11v-4h7v-5h4v-24h5v-12h4v-3h5v-4h10"/>
<path d="M1069 967v-154h22v-90h204v-64h108v-50h11v-40h25v-34h105v-30h48v-26h21v-24h46v-21h44v-19h6v-18h20v-16h2v-16h26v-14h30v-13h21v-13h2v-12h25v-22h3v-11h10v-10h2v-9h7v-9h23v-9h3v-8h12v-8h9v-8h3v-8h8v-7h4v-7h2v-7h9v-7h9v-6h9v-6h3v-6h6v-6h2v-12h2v-10h4v-6h3v-5h6v-5h9v-5h9v-9h2v-5h4v-9h2v-4h4v-4h2v-12h3v-16h6v-3h2v-4h7"/>
<path d="M1069 967v-154h263v-90h6v-64h79v-50h88v-40h13v-34h93v-30h56v-26h30v-24h25v-21h21v-19h8v-18h12v-16h5v-16h21v-14h20v-13h18v-13h10v-12h12v-22h4v-11h14v-10h15v-18h6v-17h5v-8h5v-8h7v-8h17v-7h7v-14h11v-7h5v-6h5v-6h7v-18h2v-6h2v-5h2v-11h4v-5h12v-10h5v-9h2v-5h18v-13h2v-4h2v-8h2v-12h2v-4h2v-4h2v-3h2v-4h6"/>
<path d="M1246 967v-154h35v-90h161v-64h117v-50h8v-40h20v-34h4v-30h22v-26h57v-24h2v-21h43v-19h70v-34h2v-30h5v-13h9v-13h20v-12h4v-12h10v-21h16v-10h11v-9h7v-18h13v-8h8v-8h8v-8h6v-8h7v-7h18v-14h19v-19h2v-12h2v-6h6v-6h5v-10h2v-6h4v-5h8v-5h7v-5h3v-4h13v-14h4v-13h2v-4h3v-12h3v-4h4v-15h8"/>
<path d="M861 967v-154h401v-90h61v-64h131v-50h70v-40h2v-34h30v-30h22v-26h57v-24h38v-21h11v-19h15v-18h11v-16h5v-16h49v-14h12v-13h8v-13h4v-12h5v-12h5v-10h9v-11h33v-10h12v-9h9v-9h6v-9h2v-8h8v-8h7v-8h16v-8h4v-7h8v-7h12v-14h2v-6h4v-12h8v-6h6v-12h3v-5h13v-11h4v-5h2v-5h16v-5h7v-4h3v-10h3v-4h3v-9h8v-16h3v-8h5v-8h4v-7h6"/>
<path d="M1389 967v-154h63v-90h47v-64h17v-50h48v-40h68v-34h39v-56h7v-24h9v-21h43v-19h45v-18h10v-16h10v-16h9v-14h26v-38h2v-12h6v-10h10v-11h10v-10h5v-9h27v-9h6v-9h5v-8h10v-16h3v-8h8v-7h4v-14h10v-7h3v-6h7v-6h8v-6h4v-6h3v-6h9v-6h3v-10h3v-6h2v-5h2v-5h5v-5h6v-4h2v-5h6v-5h3v-9h4v-4h3v-12h2v-4h2v-12h2v-4h2v-3h3v-4h4"/>
<path d="M904 967v-154h190v-90h37v-64h164v-50h157v-74h73v-30h19v-26h89v-24h6v-21h11v-19h7v-18h49v-16h11v-16h11v-14h5v-13h4v-13h8v-12h10v-12h30v-10h24v-11h2v-10h28v-9h17v-9h7v-9h2v-8h2v-8h15v-8h7v-8h9v-7h14v-14h11v-7h3v-6h9v-6h4v-12h7v-12h3v-16h3v-5h13v-5h8v-5h6v-4h2v-5h3v-9h2v-5h2v-4h2v-4h11v-4h3v-8h2v-4h2v-8h2v-7h7v-4h7"/>
<path d="M934 967v-154h287v-90h309v-64h43v-50h20v-40h38v-34h48v-30h9v-26h22v-24h24v-21h20v-19h2v-18h23v-16h7v-16h5v-14h23v-13h4v-13h4v-24h4v-10h5v-11h13v-10h12v-9h33v-9h2v-9h3v-16h4v-8h21v-8h7v-7h9v-7h4v-14h7v-6h15v-6h2v-12h3v-6h2v-11h2v-5h6v-11h7v-5h2v-5h5v-4h4v-5h3v-14h5v-4h2v-4h6v-24h2v-4h2v-3h3v-4h7"/>
<path d="M1061 967v-154h176v-90h119v-64h15v-50h39v-40h108v-34h51v-30h44v-26h3v-24h31v-21h9v-19h6v-18h54v-16h21v-16h8v-14h6v-13h8v-13h6v-12h13v-22h14v-11h33v-10h6v-9h27v-9h2v-9h15v-8h2v-8h3v-8h4v-8h6v-7h2v-7h5v-7h18v-7h12v-6h7v-6h2v-12h11v-12h8v-5h2v-5h2v-6h2v-5h12v-5h2v-5h7v-4h4v-10h3v-4h2v-5h2v-4h2v-4h9v-4h4v-8h2v-8h3v-4h2v-7h2v-4h7"/>
<path d="M911 967v-154h93v-90h274v-64h197v-50h33v-40h8v-34h5v-30h38v-26h53v-24h7v-21h48v-19h19v-18h70v-72h6v-12h13v-12h3v-10h8v-11h3v-10h43v-9h5v-9h14v-9h3v-8h18v-8h12v-16h4v-7h3v-7h2v-7h3v-7h13v-6h16v-6h8v-6h4v-6h3v-12h4v-5h8v-5h4v-6h4v-5h9v-5h13v-5h2v-4h3v-5h2v-5h4v-13h4v-8h6v-8h3v-4h2v-4h2v-8h2v-3h3v-4h9"/>
<path d="M1065 967v-154h47v-90h69v-64h183v-50h39v-40h103v-34h33v-30h7v-26h48v-24h50v-21h18v-19h33v-18h6v-16h2v-16h7v-14h13v-13h27v-13h4v-12h13v-12h3v-10h2v-11h6v-10h50v-9h30v-9h2v-9h7v-8h9v-8h6v-8h12v-8h8v-7h2v-7h10v-7h10v-7h6v-6h8v-6h2v-12h6v-12h3v-5h6v-5h2v-6h3v-5h4v-5h2v-5h6v-4h6v-10h13v-4h6v-9h4v-12h2v-12h4v-4h2v-4h2v-3h2v-4h11"/>
</g>
<path stroke="#FFA500" d="M986.8 967V813H1180.6V722.9H1304V659H1461.4V609.4H1491.6V568.9H1535.4V534.6H1566.7V505H1582V478.8H1631V455.4H1636V434.2H1665.5V414.9H1733.8V397.1H1741.8V380.6H1777.7V365.3H1782V351H1796.8V337.5H1799V324.8H1801.6V312.8H1815V301.4H1819.5V290.6H1820.2V280.2H1838V270.3H1839V260.9H1880.7V251.8H1893.5V243.1H1903V234.7H1903.3V226.6H1903.6V218.8H1905.6V211.3H1910.1V204H1925.5V197H1931.4V190.1H1944.4V183.5H1949.6V177.1H1957.8V170.8H1958.9V164.7H1962.5V158.8H1963.2V153H1963.8V147.4H1965.1V141.9H1966.5V136.5H1967.6V131.3H1968.7V126.2H1978.4V121.2H1979.1V116.3H1991.3V111.6H1991.9V106.9H1992.5V102.3H1997.4V97.8H1998.3V93.4H1999.7V89.1H2001.9V84.9H2006.8V80.7H2007.7V76.6H2008V72.6H2008.2V68.7H2008.4V64.8H2008.6V61H2010V57.3H2014.5V53.6H2015.5V50H2024"/>
<g stroke="#FF0000" stroke-opacity="0.012">
<path d="M1683 967v-154h28v-90h5v-64h12v-50h15v-74h21v-30h8v-26h7v-24h28v-21h4v-19h43v-18h43v-16h15v-16h6v-14h26v-13h4v-13h20v-12h16v-12h5v-10h3v-21h4v-9h7v-9h11v-9h10"/>
<path d="M1611 967v-154h106v-90h30v-64h5v-50h27v-40h21v-34h5v-30h2v-26h11v-24h2v-21h25v-19h37v-18h6v-16h35v-16h5v-14h7v-13h18v-13h26v-12h13v-12h5v-10h2v-21h6v-18h5v-9h14"/>
<path d="M1770 967v-154h20v-90h29v-64h12v-50h3v-40h11v-34h6v-30h9v-26h6v-24h11v-21h15v-19h29v-18h25v-16h19v-30h2v-13h11v-13h13v-12h13v-12h2v-10h2v-21h2v-9h5v-18h9"/>
<path d="M1539 967v-154h74v-90h85v-114h22v-40h70v-34h5v-30h5v-26h4v-24h13v-21h22v-19h35v-18h6v-16h47v-16h4v-14h16v-13h22v-13h3v-12h25v-22h2v-11h2v-19h5v-9h10v-9h8"/>
<path d="M1716 967v-154h4v-90h40v-64h8v-50h5v-74h13v-30h55v-26h11v-24h17v-21h7v-19h54v-18h2v-16h8v-16h4v-27h30v-13h21v-12h9v-43h5v-18h6v-9h9"/>
<path d="M1666 967v-154h70v-90h12v-64h61v-50h13v-40h5v-34h17v-56h10v-24h9v-40h49v-18h15v-16h7v-16h11v-14h3v-13h24v-13h9v-12h11v-12h9v-10h2v-21h2v-18h11v-9h8"/>
<path d="M1761 967v-154h51v-90h15v-114h15v-40h6v-34h20v-30h3v-26h18v-24h7v-21h9v-19h42v-18h2v-16h27v-16h2v-14h2v-13h17v-13h5v-12h6v-33h2v-19h7v-9h2v-9h5"/>
<path d="M1701 967v-154h26v-90h29v-64h10v-50h27v-40h3v-34h18v-30h36v-26h3v-24h10v-21h38v-19h16v-18h4v-16h29v-16h3v-14h4v-26h20v-12h18v-22h4v-11h2v-19h5v-9h6v-9h12"/>
<path d="M1659 967v-244h8v-64h25v-50h36v-40h28v-64h15v-26h17v-24h16v-21h12v-19h67v-18h6v-16h26v-30h13v-13h25v-13h7v-12h24v-12h4v-10h4v-11h7v-19h6v-9h8v-9h11"/>
<path d="M1679 967v-154h13v-90h65v-64h28v-50h7v-74h17v-30h17v-26h15v-24h5v-21h17v-19h41v-18h20v-16h14v-16h9v-14h10v-13h16v-13h5v-12h18v-22h4v-21h4v-9h6v-9h7v-9h7"/>
<path d="M1700 967v-154h53v-90h11v-64h43v-50h9v-40h2v-64h28v-26h6v-24h19v-21h5v-19h26v-18h5v-16h25v-16h7v-14h4v-13h29v-13h10v-12h18v-33h3v-10h6v-18h7v-9h8"/>
<path d="M1698 967v-154h30v-90h38v-64h56v-50h2v-40h8v-34h15v-56h5v-24h11v-21h2v-19h52v-18h17v-16h13v-16h3v-14h4v-13h24v-13h4v-12h18v-22h4v-21h3v-9h5v-9h4v-9h8"/>
<path d="M1703 967v-154h25v-90h21v-64h37v-50h10v-74h10v-30h8v-26h15v-24h3v-21h22v-19h51v-18h9v-16h20v-16h13v-14h6v-13h21v-13h7v-12h10v-12h2v-10h4v-21h10v-18h7v-9h10"/>
<path d="M1713 967v-154h35v-90h13v-64h8v-50h26v-40h9v-34h48v-30h7v-26h3v-24h4v-21h9v-19h41v-18h3v-16h23v-16h13v-14h8v-13h2v-13h23v-12h12v-12h2v-21h3v-19h4v-9h8v-9h7"/>
<path d="M1740 967v-154h30v-90h42v-64h26v-90h17v-34h3v-30h10v-50h18v-21h2v-19h48v-18h2v-16h22v-16h4v-14h16v-13h12v-13h4v-12h6v-22h3v-11h3v-10h2v-9h3v-9h4v-9h7"/>
<path d="M1781 967v-154h9v-90h14v-64h18v-50h14v-40h2v-34h11v-30h2v-26h3v-24h23v-21h9v-19h33v-18h15v-16h4v-16h11v-27h25v-13h21v-12h7v-12h2v-31h5v-9h4v-9h4v-9h7"/>
<path d="M1725 967v-154h18v-90h37v-64h9v-50h53v-40h7v-34h9v-30h4v-26h4v-24h12v-21h28v-19h24v-18h3v-16h12v-30h23v-13h15v-13h17v-24h2v-10h2v-21h7v-18h8v-9h5"/>
<path d="M1633 967v-154h77v-90h50v-64h36v-50h11v-40h11v-34h10v-30h26v-26h5v-24h27v-21h2v-19h33v-50h6v-14h36v-13h14v-13h13v-12h3v-12h7v-10h5v-30h2v-9h9v-9h8"/>
<path d="M1651 967v-154h41v-90h67v-64h27v-50h2v-40h7v-34h24v-56h4v-24h13v-21h3v-19h7v-18h90v-16h5v-16h16v-27h2v-13h27v-12h4v-12h4v-10h2v-11h5v-10h4v-9h3v-9h7v-9h9"/>
<path d="M1602 967v-154h90v-90h3v-114h34v-40h15v-34h21v-30h6v-26h5v-45h21v-19h60v-18h24v-16h31v-16h8v-14h19v-13h7v-13h10v-12h32v-22h6v-11h3v-19h5v-9h10v-9h12"/>
<path d="M1613 967v-154h49v-90h59v-64h43v-90h10v-34h29v-80h4v-21h7v-19h74v-18h28v-16h2v-16h7v-14h14v-13h4v-13h40v-12h5v-12h2v-10h4v-11h2v-19h12v-9h5v-9h11"/>
<path d="M1721 967v-154h44v-90h11v-64h16v-50h18v-40h28v-34h4v-30h6v-26h2v-24h15v-21h12v-19h29v-18h15v-16h19v-16h10v-14h4v-13h21v-13h12v-12h8v-22h2v-11h8v-10h5v-18h3v-9h11"/>
<path d="M1612 967v-154h88v-154h34v-50h23v-40h22v-34h3v-30h21v-26h26v-24h18v-21h11v-19h26v-18h16v-16h3v-16h18v-14h5v-13h41v-13h6v-12h17v-12h6v-10h2v-21h7v-9h2v-9h7v-9h10"/>
<path d="M1668 967v-154h26v-90h60v-64h25v-50h20v-40h2v-34h6v-30h23v-26h7v-24h17v-21h10v-19h5v-18h27v-16h45v-16h3v-14h3v-13h8v-13h21v-12h15v-12h4v-21h5v-10h6v-18h10v-9h8"/>
<path d="M1648 967v-154h58v-90h30v-64h5v-50h2v-40h45v-34h3v-30h10v-26h5v-24h3v-21h32v-19h50v-18h5v-16h33v-30h5v-13h32v-13h25v-12h4v-12h2v-10h2v-21h2v-9h6v-9h10v-9h7"/>
<path d="M1716 967v-244h39v-64h35v-50h27v-40h9v-34h3v-30h18v-26h11v-24h5v-21h6v-19h31v-18h11v-16h24v-16h2v-14h9v-13h27v-13h13v-12h11v-12h4v-10h2v-11h3v-10h2v-9h2v-9h4v-9h10"/>
<path d="M1702 967v-154h7v-90h74v-64h16v-50h15v-40h6v-34h4v-56h3v-24h22v-21h4v-19h67v-18h7v-16h18v-16h12v-14h5v-13h2v-13h20v-12h9v-22h5v-11h3v-19h8v-9h7v-9h8"/>
<path d="M1615 967v-154h85v-90h8v-64h7v-50h60v-40h9v-34h7v-30h7v-26h3v-24h14v-21h13v-19h44v-18h29v-16h19v-16h5v-14h2v-13h30v-13h5v-12h28v-12h2v-21h4v-10h7v-18h10v-9h11"/>
<path d="M1641 967v-154h12v-90h52v-64h6v-50h19v-40h12v-34h18v-30h41v-26h4v-24h6v-21h12v-19h55v-34h4v-16h16v-14h13v-13h36v-13h27v-12h9v-22h12v-21h2v-9h10v-9h4v-9h13"/>
<path d="M1648 967v-154h47v-90h32v-64h32v-50h25v-40h9v-34h6v-30h9v-26h11v-24h33v-21h21v-19h16v-18h25v-16h19v-16h13v-14h4v-13h14v-13h16v-12h15v-12h2v-21h2v-10h3v-9h5v-9h8v-9h9"/>
<path d="M1606 967v-154h76v-90h10v-64h8v-50h73v-40h20v-34h2v-30h15v-26h10v-45h3v-19h66v-18h14v-16h27v-16h3v-14h5v-13h17v-13h10v-12h24v-12h2v-21h6v-19h8v-9h8v-9h11"/>
<path d="M1719 967v-154h16v-90h10v-64h14v-50h6v-40h15v-34h41v-30h15v-26h21v-24h8v-21h11v-19h31v-18h17v-16h16v-16h4v-14h9v-13h19v-13h14v-12h6v-12h6v-10h3v-11h4v-19h5v-9h6v-9h8"/>
<path d="M1645 967v-154h42v-90h57v-64h3v-50h19v-40h3v-34h10v-30h9v-26h15v-24h17v-21h18v-19h65v-18h24v-32h7v-40h44v-12h16v-12h2v-10h2v-21h4v-9h3v-9h10v-9h9"/>
<path d="M1680 967v-154h9v-90h16v-114h27v-40h6v-34h5v-56h30v-24h38v-21h3v-19h74v-18h8v-16h6v-16h17v-14h8v-13h20v-13h28v-12h7v-12h2v-10h5v-11h8v-10h3v-18h12v-9h12"/>
<path d="M1628 967v-154h64v-90h6v-64h33v-50h3v-40h37v-34h2v-30h24v-26h4v-24h25v-21h4v-19h58v-18h10v-16h13v-16h18v-14h3v-13h19v-13h35v-24h6v-10h2v-11h5v-10h4v-9h3v-9h6v-9h12"/>
<path d="M1600 967v-154h70v-90h49v-64h30v-50h14v-40h14v-34h21v-30h4v-26h20v-45h23v-19h30v-18h34v-16h4v-16h6v-14h36v-13h19v-13h8v-12h12v-22h3v-11h2v-19h9v-9h8v-9h8"/>
<path d="M1585 967v-154h51v-90h65v-64h2v-50h15v-40h2v-34h13v-56h11v-24h42v-21h27v-19h39v-18h47v-16h15v-16h3v-14h7v-13h13v-13h31v-12h17v-22h8v-21h6v-18h9v-9h16"/>
<path d="M1728 967v-154h22v-90h50v-64h8v-50h15v-40h12v-34h3v-30h7v-26h14v-45h8v-19h80v-34h12v-16h2v-14h2v-13h27v-13h9v-12h2v-12h3v-21h3v-10h2v-9h5v-18h10"/>
<path d="M1685 967v-154h3v-90h16v-64h54v-50h2v-74h3v-30h27v-26h30v-24h6v-21h6v-19h54v-18h11v-16h24v-16h3v-14h16v-13h12v-13h19v-12h17v-12h3v-10h2v-11h2v-10h4v-9h4v-9h10v-9h11"/>
<path d="M1695 967v-154h11v-90h8v-64h51v-50h26v-74h3v-30h10v-26h21v-24h12v-21h32v-19h25v-18h8v-16h20v-30h20v-13h29v-13h9v-12h8v-12h2v-21h11v-19h2v-9h12v-9h9"/>
<path d="M1679 967v-154h81v-90h28v-64h15v-50h2v-40h6v-34h3v-30h5v-26h11v-24h24v-21h3v-19h38v-18h26v-16h8v-16h21v-14h3v-13h11v-13h26v-12h10v-12h6v-21h2v-19h3v-9h5v-9h8"/>
<path d="M1689 967v-154h37v-90h29v-64h6v-50h2v-40h24v-34h4v-30h6v-26h17v-24h2v-21h4v-19h98v-18h4v-16h9v-30h2v-13h35v-13h17v-12h4v-12h6v-10h4v-21h3v-9h8v-9h5v-9h9"/>
<path d="M1660 967v-154h48v-90h6v-64h40v-50h11v-40h41v-34h8v-56h21v-24h3v-21h16v-19h44v-18h10v-16h11v-30h9v-13h27v-13h17v-12h19v-12h4v-21h6v-19h6v-9h6v-9h11"/>
<path d="M1672 967v-154h23v-90h49v-64h15v-50h12v-40h23v-34h8v-30h6v-26h22v-24h6v-21h32v-19h29v-18h16v-16h10v-30h13v-13h22v-13h26v-12h3v-12h11v-21h2v-10h4v-18h10v-9h10"/>
<path d="M1702 967v-154h58v-90h6v-64h43v-50h24v-74h9v-30h9v-26h6v-24h4v-40h29v-18h24v-16h10v-16h33v-14h2v-13h23v-13h13v-12h5v-12h4v-31h2v-9h5v-9h4v-9h9"/>
<path d="M1601 967v-154h18v-90h56v-64h49v-50h3v-40h10v-34h8v-30h25v-26h3v-24h32v-21h43v-19h17v-18h14v-16h39v-16h13v-14h2v-13h28v-13h9v-12h20v-12h2v-10h3v-11h2v-10h4v-18h10v-9h13"/>
<path d="M1659 967v-154h4v-90h45v-64h19v-50h30v-40h5v-34h8v-30h15v-26h3v-24h19v-21h19v-19h72v-18h3v-16h8v-16h13v-14h20v-13h19v-13h13v-12h9v-22h12v-11h2v-10h3v-9h7v-9h4v-9h13"/>
<path d="M1716 967v-154h72v-90h9v-64h11v-50h7v-40h25v-34h4v-30h13v-26h4v-24h28v-21h13v-19h29v-18h13v-32h12v-14h10v-13h15v-13h5v-12h13v-12h4v-31h2v-9h3v-9h8v-9h8"/>
<path d="M1726 967v-154h16v-90h9v-64h7v-50h9v-40h3v-34h38v-56h22v-24h16v-21h4v-19h35v-18h25v-16h28v-16h12v-14h3v-13h16v-25h29v-22h3v-11h2v-10h2v-18h10v-9h9"/>
<path d="M1701 967v-154h11v-90h65v-64h9v-50h17v-40h14v-34h2v-30h8v-26h10v-24h15v-21h11v-19h46v-18h4v-16h28v-16h3v-14h2v-13h21v-13h25v-12h6v-12h2v-10h4v-21h2v-18h8v-9h10"/>
<path d="M1578 967v-154h64v-90h37v-64h29v-50h43v-40h9v-34h5v-30h19v-26h2v-24h4v-21h38v-19h56v-18h10v-16h14v-16h8v-14h12v-13h22v-13h26v-12h9v-12h2v-10h6v-11h3v-19h6v-9h10v-9h12"/>
<path d="M1721 967v-154h11v-90h76v-64h9v-50h15v-40h3v-34h3v-30h5v-26h10v-24h7v-21h29v-19h20v-18h40v-16h2v-16h7v-14h10v-13h20v-13h9v-12h3v-12h3v-21h7v-28h8v-9h6"/>
<path d="M1731 967v-154h19v-90h6v-64h37v-50h20v-40h8v-34h3v-30h3v-26h5v-24h23v-21h18v-19h43v-18h13v-16h5v-16h8v-14h15v-13h24v-13h6v-12h12v-12h2v-31h6v-9h3v-9h6v-9h8"/>
<path d="M1696 967v-154h2v-90h25v-64h55v-90h13v-64h6v-26h20v-45h7v-19h64v-18h5v-16h41v-16h3v-14h2v-13h39v-13h2v-12h11v-12h2v-10h3v-21h6v-9h2v-9h10v-9h10"/>
<path d="M1648 967v-154h45v-90h57v-64h13v-50h16v-40h4v-34h22v-56h5v-24h6v-21h10v-19h50v-18h26v-16h11v-16h20v-27h19v-13h34v-12h6v-22h7v-21h3v-9h2v-9h9v-9h11"/>
<path d="M1690 967v-154h24v-90h15v-64h41v-50h22v-74h27v-56h28v-24h5v-21h7v-19h57v-18h20v-16h3v-16h10v-27h10v-13h16v-12h20v-12h3v-10h4v-11h3v-19h4v-9h6v-9h9"/>
<path d="M1704 967v-154h10v-90h16v-64h18v-50h7v-40h20v-34h28v-30h20v-26h13v-45h37v-19h42v-18h4v-16h11v-30h33v-13h15v-13h7v-12h13v-12h2v-21h3v-19h3v-9h9v-9h9"/>
<path d="M1641 967v-154h86v-90h29v-64h20v-50h3v-74h5v-30h50v-50h3v-21h15v-19h43v-18h12v-16h14v-16h6v-14h26v-13h15v-13h12v-12h12v-12h3v-31h10v-9h3v-9h8v-9h8"/>
<path d="M1712 967v-154h49v-90h16v-64h18v-50h11v-74h13v-30h26v-26h2v-24h4v-21h11v-19h42v-18h3v-16h25v-16h12v-14h12v-13h21v-25h20v-22h3v-11h3v-19h3v-9h11v-9h7"/>
<path d="M1713 967v-154h17v-90h12v-64h45v-50h4v-40h14v-34h8v-30h37v-26h2v-24h10v-21h10v-19h28v-18h37v-16h7v-16h4v-14h2v-13h22v-13h7v-12h19v-12h2v-10h2v-21h5v-18h10v-9h7"/>
<path d="M1784 967v-154h6v-90h13v-114h20v-40h7v-34h9v-30h13v-26h4v-24h16v-21h10v-19h32v-18h21v-16h16v-16h5v-27h28v-13h5v-12h11v-22h2v-11h4v-10h3v-9h2v-9h3v-9h10"/>
<path d="M1709 967v-154h48v-90h2v-64h39v-50h2v-40h5v-34h11v-30h17v-26h2v-24h34v-21h8v-19h33v-18h10v-16h15v-16h27v-14h3v-13h12v-13h13v-12h8v-22h2v-11h3v-10h3v-9h5v-9h3v-9h10"/>
<path d="M1614 967v-154h155v-90h9v-64h7v-50h8v-40h23v-34h6v-30h20v-50h15v-21h27v-19h32v-18h6v-16h24v-16h9v-14h6v-13h18v-13h7v-12h9v-22h2v-21h6v-18h12v-9h9"/>
<path d="M1689 967v-154h38v-90h7v-64h22v-50h29v-40h16v-34h15v-56h12v-24h11v-40h52v-18h15v-16h25v-16h3v-14h7v-13h14v-13h26v-12h8v-12h7v-10h5v-30h6v-9h7v-9h10"/>
<path d="M1603 967v-154h35v-90h97v-64h13v-50h35v-74h8v-30h3v-26h10v-24h10v-21h8v-19h40v-18h16v-16h43v-16h8v-27h32v-13h12v-12h13v-12h2v-10h4v-11h8v-19h3v-9h12v-9h9"/>
<path d="M1685 967v-154h44v-90h28v-64h45v-50h9v-40h8v-34h3v-30h15v-26h3v-24h23v-21h2v-19h40v-18h13v-16h11v-16h12v-27h24v-13h12v-12h14v-12h4v-10h2v-11h5v-19h5v-9h9v-9h8"/>
<path d="M1736 967v-154h38v-90h12v-64h30v-50h13v-40h17v-34h13v-56h9v-24h14v-21h2v-19h40v-18h9v-16h22v-16h8v-14h4v-13h8v-13h10v-12h19v-22h3v-11h3v-10h3v-18h4v-9h7"/>
<path d="M1710 967v-154h59v-90h10v-114h30v-74h29v-30h4v-26h6v-24h12v-40h39v-18h33v-16h24v-16h4v-14h7v-13h6v-13h24v-12h2v-22h3v-11h3v-10h2v-9h3v-9h6v-9h8"/>
<path d="M1705 967v-154h57v-90h3v-64h41v-50h6v-40h12v-34h11v-30h11v-26h28v-24h3v-21h12v-19h24v-18h16v-16h16v-16h2v-14h5v-13h23v-13h15v-24h10v-21h4v-19h8v-9h4v-9h8"/>
<path d="M1644 967v-154h43v-90h33v-64h42v-50h15v-40h13v-34h24v-30h9v-26h3v-45h31v-19h54v-18h2v-16h2v-16h24v-14h3v-13h18v-13h27v-12h5v-12h4v-31h4v-9h6v-9h11v-9h7"/>
<path d="M1632 967v-154h85v-90h2v-64h30v-90h24v-34h22v-30h6v-26h16v-24h6v-21h13v-19h52v-18h3v-16h36v-30h10v-13h13v-13h27v-12h9v-12h5v-10h6v-21h4v-9h3v-9h10v-9h10"/>
<path d="M1671 967v-154h36v-90h5v-64h15v-50h32v-40h14v-34h4v-56h14v-24h22v-21h20v-19h74v-18h4v-16h23v-30h2v-26h44v-12h8v-12h6v-21h2v-19h4v-9h14v-9h10"/>
<path d="M1635 967v-154h42v-90h35v-64h31v-50h20v-40h31v-34h18v-30h24v-26h14v-24h4v-40h45v-18h4v-16h24v-16h21v-14h3v-13h10v-13h12v-12h17v-12h5v-10h2v-11h2v-10h6v-9h4v-9h6v-9h9"/>
<path d="M1575 967v-154h38v-90h22v-64h15v-50h80v-40h14v-64h7v-26h3v-24h29v-21h2v-19h17v-18h52v-16h11v-16h23v-14h27v-13h25v-13h24v-12h16v-12h4v-10h4v-21h5v-9h12v-9h2v-9h17"/>
<path d="M1601 967v-154h118v-90h26v-64h21v-50h2v-40h29v-34h6v-56h31v-24h15v-21h15v-19h24v-18h4v-16h35v-16h8v-14h4v-13h25v-13h16v-12h10v-12h4v-10h5v-21h4v-9h2v-9h10v-9h9"/>
<path d="M1642 967v-154h40v-90h59v-64h18v-50h19v-40h20v-34h3v-30h10v-26h4v-24h26v-21h17v-19h49v-18h7v-16h23v-16h6v-14h5v-13h31v-13h8v-12h8v-12h4v-10h6v-21h3v-18h4v-9h12"/>
<path d="M1704 967v-154h28v-90h3v-64h34v-90h11v-34h15v-30h15v-26h12v-24h2v-21h15v-19h52v-18h24v-16h18v-16h15v-27h17v-13h25v-12h2v-12h3v-10h3v-11h2v-10h3v-9h3v-9h9v-9h9"/>
<path d="M1592 967v-154h125v-90h6v-64h35v-50h2v-40h22v-34h8v-30h17v-26h7v-24h11v-21h26v-19h16v-18h41v-16h2v-16h5v-14h11v-13h36v-13h18v-12h13v-33h6v-10h3v-9h5v-9h5v-9h12"/>
<path d="M1653 967v-154h27v-90h10v-64h28v-50h7v-40h15v-34h15v-30h12v-26h19v-24h2v-21h25v-19h24v-18h54v-16h7v-16h28v-14h9v-13h8v-13h17v-12h20v-12h15v-31h5v-9h2v-9h12v-9h10"/>
<path d="M1682 967v-154h44v-90h27v-64h26v-50h29v-40h16v-34h5v-30h3v-26h2v-24h20v-21h9v-19h28v-18h19v-16h28v-16h9v-14h11v-13h10v-13h23v-24h4v-10h4v-21h6v-18h10v-9h9"/>
<path d="M1651 967v-154h113v-90h6v-64h6v-50h6v-40h30v-34h5v-30h13v-26h8v-24h8v-21h36v-19h30v-18h17v-16h17v-16h2v-27h13v-13h20v-12h17v-22h3v-11h4v-10h5v-18h4v-9h10"/>
<path d="M1581 967v-154h96v-90h14v-64h25v-50h11v-74h42v-30h9v-26h13v-24h18v-21h14v-19h49v-18h13v-16h12v-16h12v-14h5v-13h41v-13h4v-12h25v-12h4v-21h3v-10h2v-9h7v-9h14v-9h10"/>
<path d="M1595 967v-154h57v-90h17v-64h33v-50h8v-40h34v-34h19v-30h4v-26h12v-24h7v-21h24v-19h55v-18h31v-32h25v-27h19v-13h29v-12h18v-12h2v-10h3v-21h4v-9h5v-9h8v-9h15"/>
<path d="M1598 967v-154h33v-90h95v-64h8v-50h22v-40h13v-64h4v-26h16v-24h7v-21h41v-19h21v-18h24v-16h21v-16h2v-14h10v-13h37v-13h23v-12h10v-22h6v-11h4v-19h6v-9h9v-9h14"/>
<path d="M1702 967v-154h8v-90h83v-64h19v-124h4v-30h23v-26h2v-24h13v-21h15v-19h44v-18h2v-16h9v-16h20v-27h40v-13h2v-12h10v-12h2v-10h3v-11h2v-10h3v-9h3v-9h7v-9h8"/>
<path d="M1665 967v-154h62v-90h13v-64h25v-50h9v-40h4v-34h28v-30h4v-26h6v-24h25v-21h31v-19h13v-18h35v-16h15v-30h10v-13h2v-13h24v-12h11v-12h13v-10h6v-30h8v-9h4v-9h11"/>
<path d="M1615 967v-154h46v-90h27v-64h5v-50h39v-40h12v-34h34v-30h2v-26h6v-24h7v-21h5v-19h90v-18h16v-16h20v-30h8v-13h27v-13h9v-12h20v-12h2v-10h3v-11h2v-10h2v-9h7v-9h9v-9h11"/>
<path d="M1657 967v-154h51v-90h44v-64h44v-50h4v-40h15v-34h3v-30h2v-26h5v-24h34v-21h10v-19h34v-18h2v-16h23v-30h22v-13h12v-13h11v-12h17v-22h4v-11h9v-10h4v-9h2v-9h5v-9h10"/>
<path d="M1504 967v-154h125v-90h3v-64h18v-50h39v-40h33v-34h15v-30h7v-26h2v-45h4v-19h107v-18h22v-32h16v-14h29v-13h14v-13h35v-12h3v-12h3v-10h3v-11h6v-19h5v-9h16v-9h15"/>
<path d="M1610 967v-154h49v-90h7v-64h13v-50h95v-40h7v-34h22v-30h8v-50h13v-21h6v-19h45v-18h18v-16h3v-16h24v-14h12v-13h28v-13h14v-12h18v-12h2v-10h3v-30h5v-9h12v-9h10"/>
<path d="M1726 967v-154h6v-90h45v-64h17v-90h2v-34h4v-30h12v-26h2v-24h21v-40h72v-18h11v-16h23v-16h11v-27h16v-13h13v-12h8v-12h9v-21h4v-10h5v-9h2v-9h6v-9h9"/>
<path d="M1628 967v-154h90v-90h18v-64h2v-50h44v-74h4v-30h19v-26h4v-45h13v-19h63v-18h23v-16h20v-30h18v-13h12v-13h20v-12h8v-12h6v-10h4v-21h7v-18h9v-9h12"/>
<path d="M1564 967v-154h144v-90h17v-64h2v-50h13v-40h18v-34h3v-30h5v-26h32v-45h24v-19h27v-18h22v-16h13v-16h10v-14h22v-13h36v-13h16v-12h17v-22h7v-21h2v-9h8v-9h7v-9h15"/>
<path d="M1610 967v-154h62v-90h85v-64h7v-50h16v-74h14v-30h7v-26h4v-24h8v-40h82v-18h4v-16h17v-16h12v-14h18v-13h19v-13h22v-12h9v-22h3v-11h3v-19h2v-9h7v-9h13"/>
<path d="M1705 967v-154h16v-90h20v-64h14v-50h16v-40h4v-34h31v-30h7v-26h10v-24h22v-21h25v-19h13v-34h26v-16h15v-14h29v-13h12v-13h16v-12h4v-12h13v-21h3v-10h2v-18h13v-9h8"/>
<path d="M1627 967v-154h12v-90h71v-64h47v-50h4v-40h14v-34h15v-56h20v-24h33v-21h13v-19h34v-18h26v-32h14v-14h14v-13h10v-13h11v-12h24v-12h3v-10h3v-11h4v-19h2v-9h10v-9h13"/>
<path d="M1677 967v-154h51v-90h6v-64h21v-50h20v-40h22v-34h14v-30h14v-26h8v-45h42v-19h28v-18h16v-16h10v-16h10v-27h31v-13h20v-12h9v-33h3v-10h4v-9h5v-9h4v-9h9"/>
<path d="M1618 967v-154h38v-90h38v-64h41v-50h45v-40h3v-34h14v-30h2v-26h22v-24h25v-21h2v-19h51v-18h6v-16h15v-16h13v-14h7v-13h20v-13h17v-12h17v-12h5v-10h4v-21h2v-18h9v-9h10"/>
<path d="M1624 967v-154h83v-90h4v-64h59v-50h14v-40h6v-34h12v-30h19v-26h7v-24h3v-21h17v-19h34v-18h22v-16h33v-16h12v-14h13v-13h20v-25h8v-12h8v-21h2v-19h12v-9h3v-9h9"/>
<path d="M1681 967v-154h82v-90h39v-64h2v-50h19v-40h24v-64h4v-26h5v-24h17v-21h2v-19h23v-18h24v-16h24v-16h2v-14h14v-26h28v-12h12v-33h2v-19h5v-9h7v-9h8"/>
</g>
<path stroke="#FF0000" d="M1688.5 967V813H1734V722.9H1743.4V659H1786V609.4H1798V568.9H1800V534.6H1811.5V505H1815.6V478.8H1833V455.4H1835V434.2H1856.5V414.9H1906.5V397.1H1913.6V380.6H1938V365.3H1939.5V351H1941V337.5H1967.8V324.8H1982.5V312.8H1996V301.4H1998.5V290.6H1999.3V280.2H2000.5V270.3H2004V260.9H2007.5V251.8H2015V243.1H2024"/>
</g>
<path d="M1908.6 0.2V1004" stroke="#000" stroke-width="3.5" stroke-dasharray="14.15 14.15" stroke-linecap="round" fill="none"/>
<g stroke="#000" stroke-width="3.4" fill="none" stroke-linecap="round">
<rect x="165.5" y="1.7" width="1929.5" height="1003.2"/>
<path d="M237 1005V1039"/>
<path d="M683.7 1005V1039"/>
<path d="M1130.4 1005V1039"/>
<path d="M1577.1 1005V1039"/>
<path d="M2023.8 1005V1039"/>
<path d="M131 967H165.5"/>
<path d="M131 813H165.5"/>
<path d="M131 609.4H165.5"/>
<path d="M131 455.4H165.5"/>
<path d="M131 301.4H165.5"/>
<path d="M131 97.8H165.5"/>
</g>
<rect x="165.5" y="1.7" width="753.5" height="514" fill="#fff" stroke="#000" stroke-width="3.4"/>
<g stroke="#000" stroke-width="3.4" fill="none" stroke-linecap="round">
<path d="M919 20.3H954.5"/>
<path d="M919 139.5H954.5"/>
<path d="M919 258.6H954.5"/>
<path d="M919 377.8H954.5"/>
<path d="M919 496.9H954.5"/>
</g>
<g fill="#FF0000">
<circle cx="193.2" cy="159.5" r="12.5" fill-opacity="0.035"/>
<circle cx="193.2" cy="162.2" r="12.5" fill-opacity="0.035"/>
<circle cx="193.2" cy="164.9" r="12.5" fill-opacity="0.035"/>
<circle cx="193.2" cy="165.3" r="12.5" fill-opacity="0.091"/>
<circle cx="193.2" cy="168" r="12.5" fill-opacity="0.091"/>
<circle cx="193.2" cy="170.7" r="12.5" fill-opacity="0.091"/>
<circle cx="193.2" cy="170.3" r="12.5" fill-opacity="0.112"/>
<circle cx="193.2" cy="173" r="12.5" fill-opacity="0.112"/>
<circle cx="193.2" cy="175.7" r="12.5" fill-opacity="0.112"/>
<circle cx="193.2" cy="175.3" r="12.5" fill-opacity="0.134"/>
<circle cx="193.2" cy="178" r="12.5" fill-opacity="0.134"/>
<circle cx="193.2" cy="180.7" r="12.5" fill-opacity="0.134"/>
<circle cx="193.2" cy="180.3" r="12.5" fill-opacity="0.157"/>
<circle cx="193.2" cy="183" r="12.5" fill-opacity="0.157"/>
<circle cx="193.2" cy="185.7" r="12.5" fill-opacity="0.157"/>
<circle cx="193.2" cy="196.3" r="12.5" fill-opacity="0.263"/>
<circle cx="193.2" cy="199" r="12.5" fill-opacity="0.263"/>
<circle cx="193.2" cy="201.7" r="12.5" fill-opacity="0.263"/>
<circle cx="193.2" cy="203.3" r="12.5" fill-opacity="0.206"/>
<circle cx="193.2" cy="206" r="12.5" fill-opacity="0.206"/>
<circle cx="193.2" cy="208.7" r="12.5" fill-opacity="0.206"/>
<circle cx="193.2" cy="209.3" r="12.5" fill-opacity="0.072"/>
<circle cx="193.2" cy="212" r="12.5" fill-opacity="0.072"/>
<circle cx="193.2" cy="214.7" r="12.5" fill-opacity="0.072"/>
<circle cx="193.2" cy="215.3" r="12.5" fill-opacity="0.072"/>
<circle cx="193.2" cy="218" r="12.5" fill-opacity="0.072"/>
<circle cx="193.2" cy="220.7" r="12.5" fill-opacity="0.072"/>
<circle cx="193.2" cy="227.3" r="12.5" fill-opacity="0.049"/>
<circle cx="193.2" cy="230" r="12.5" fill-opacity="0.049"/>
<circle cx="193.2" cy="232.7" r="12.5" fill-opacity="0.049"/>
<circle cx="193.2" cy="239.3" r="12.5" fill-opacity="0.049"/>
<circle cx="193.2" cy="242" r="12.5" fill-opacity="0.049"/>
<circle cx="193.2" cy="244.7" r="12.5" fill-opacity="0.049"/>
<circle cx="193.2" cy="251.3" r="12.5" fill-opacity="0.049"/>
<circle cx="193.2" cy="254" r="12.5" fill-opacity="0.049"/>
<circle cx="193.2" cy="256.7" r="12.5" fill-opacity="0.049"/>
<circle cx="193.2" cy="261.3" r="12.5" fill-opacity="0.049"/>
<circle cx="193.2" cy="264" r="12.5" fill-opacity="0.049"/>
<circle cx="193.2" cy="266.7" r="12.5" fill-opacity="0.049"/>
<circle cx="193.2" cy="270.3" r="12.5" fill-opacity="0.049"/>
<circle cx="193.2" cy="273" r="12.5" fill-opacity="0.049"/>
<circle cx="193.2" cy="275.7" r="12.5" fill-opacity="0.049"/>
<circle cx="193.2" cy="280.3" r="12.5" fill-opacity="0.035"/>
<circle cx="193.2" cy="283" r="12.5" fill-opacity="0.035"/>
<circle cx="193.2" cy="285.7" r="12.5" fill-opacity="0.035"/>
<circle cx="193.2" cy="188" r="12.5"/>
</g>
<g fill="#66CDAA">
<circle cx="309.5" cy="208.3" r="12.5" fill-opacity="0.035"/>
<circle cx="309.5" cy="211" r="12.5" fill-opacity="0.035"/>
<circle cx="309.5" cy="213.7" r="12.5" fill-opacity="0.035"/>
<circle cx="309.5" cy="212.3" r="12.5" fill-opacity="0.072"/>
<circle cx="309.5" cy="215" r="12.5" fill-opacity="0.072"/>
<circle cx="309.5" cy="217.7" r="12.5" fill-opacity="0.072"/>
<circle cx="309.5" cy="216.3" r="12.5" fill-opacity="0.134"/>
<circle cx="309.5" cy="219" r="12.5" fill-opacity="0.134"/>
<circle cx="309.5" cy="221.7" r="12.5" fill-opacity="0.134"/>
<circle cx="309.5" cy="220.3" r="12.5" fill-opacity="0.157"/>
<circle cx="309.5" cy="223" r="12.5" fill-opacity="0.157"/>
<circle cx="309.5" cy="225.7" r="12.5" fill-opacity="0.157"/>
<circle cx="309.5" cy="232.3" r="12.5" fill-opacity="0.206"/>
<circle cx="309.5" cy="235" r="12.5" fill-opacity="0.206"/>
<circle cx="309.5" cy="237.7" r="12.5" fill-opacity="0.206"/>
<circle cx="309.5" cy="237.3" r="12.5" fill-opacity="0.072"/>
<circle cx="309.5" cy="240" r="12.5" fill-opacity="0.072"/>
<circle cx="309.5" cy="242.7" r="12.5" fill-opacity="0.072"/>
<circle cx="309.5" cy="246.3" r="12.5" fill-opacity="0.035"/>
<circle cx="309.5" cy="249" r="12.5" fill-opacity="0.035"/>
<circle cx="309.5" cy="251.7" r="12.5" fill-opacity="0.035"/>
<circle cx="309.5" cy="261.3" r="12.5" fill-opacity="0.035"/>
<circle cx="309.5" cy="264" r="12.5" fill-opacity="0.035"/>
<circle cx="309.5" cy="266.7" r="12.5" fill-opacity="0.035"/>
<circle cx="309.5" cy="270.3" r="12.5" fill-opacity="0.053"/>
<circle cx="309.5" cy="273" r="12.5" fill-opacity="0.053"/>
<circle cx="309.5" cy="275.7" r="12.5" fill-opacity="0.053"/>
<circle cx="309.5" cy="280.3" r="12.5" fill-opacity="0.053"/>
<circle cx="309.5" cy="283" r="12.5" fill-opacity="0.053"/>
<circle cx="309.5" cy="285.7" r="12.5" fill-opacity="0.053"/>
<circle cx="309.5" cy="292.3" r="12.5" fill-opacity="0.035"/>
<circle cx="309.5" cy="295" r="12.5" fill-opacity="0.035"/>
<circle cx="309.5" cy="297.7" r="12.5" fill-opacity="0.035"/>
<circle cx="309.5" cy="228" r="12.5"/>
</g>
<g fill="#0000FF">
<circle cx="425.7" cy="230" r="12.5" fill-opacity="0.072"/>
<circle cx="425.7" cy="232.7" r="12.5" fill-opacity="0.072"/>
<circle cx="425.7" cy="235.4" r="12.5" fill-opacity="0.072"/>
<circle cx="425.7" cy="234.8" r="12.5" fill-opacity="0.157"/>
<circle cx="425.7" cy="237.5" r="12.5" fill-opacity="0.157"/>
<circle cx="425.7" cy="240.2" r="12.5" fill-opacity="0.157"/>
<circle cx="425.7" cy="238.3" r="12.5" fill-opacity="0.157"/>
<circle cx="425.7" cy="241" r="12.5" fill-opacity="0.157"/>
<circle cx="425.7" cy="243.7" r="12.5" fill-opacity="0.157"/>
<circle cx="425.7" cy="251.3" r="12.5" fill-opacity="0.053"/>
<circle cx="425.7" cy="254" r="12.5" fill-opacity="0.053"/>
<circle cx="425.7" cy="256.7" r="12.5" fill-opacity="0.053"/>
<circle cx="425.7" cy="256.3" r="12.5" fill-opacity="0.035"/>
<circle cx="425.7" cy="259" r="12.5" fill-opacity="0.035"/>
<circle cx="425.7" cy="261.7" r="12.5" fill-opacity="0.035"/>
<circle cx="425.7" cy="331.3" r="12.5" fill-opacity="0.035"/>
<circle cx="425.7" cy="334" r="12.5" fill-opacity="0.035"/>
<circle cx="425.7" cy="336.7" r="12.5" fill-opacity="0.035"/>
<circle cx="425.7" cy="342.3" r="12.5" fill-opacity="0.072"/>
<circle cx="425.7" cy="345" r="12.5" fill-opacity="0.072"/>
<circle cx="425.7" cy="347.7" r="12.5" fill-opacity="0.072"/>
<circle cx="425.7" cy="347.3" r="12.5" fill-opacity="0.053"/>
<circle cx="425.7" cy="350" r="12.5" fill-opacity="0.053"/>
<circle cx="425.7" cy="352.7" r="12.5" fill-opacity="0.053"/>
<circle cx="425.7" cy="351.8" r="12.5" fill-opacity="0.112"/>
<circle cx="425.7" cy="354.5" r="12.5" fill-opacity="0.112"/>
<circle cx="425.7" cy="357.2" r="12.5" fill-opacity="0.112"/>
<circle cx="425.7" cy="357.7" r="12.5" fill-opacity="0.206"/>
<circle cx="425.7" cy="360.4" r="12.5" fill-opacity="0.206"/>
<circle cx="425.7" cy="363.1" r="12.5" fill-opacity="0.206"/>
<circle cx="425.7" cy="362.3" r="12.5" fill-opacity="0.072"/>
<circle cx="425.7" cy="365" r="12.5" fill-opacity="0.072"/>
<circle cx="425.7" cy="367.7" r="12.5" fill-opacity="0.072"/>
<circle cx="425.7" cy="366.3" r="12.5" fill-opacity="0.091"/>
<circle cx="425.7" cy="369" r="12.5" fill-opacity="0.091"/>
<circle cx="425.7" cy="371.7" r="12.5" fill-opacity="0.091"/>
<circle cx="425.7" cy="375.3" r="12.5" fill-opacity="0.072"/>
<circle cx="425.7" cy="378" r="12.5" fill-opacity="0.072"/>
<circle cx="425.7" cy="380.7" r="12.5" fill-opacity="0.072"/>
<circle cx="425.7" cy="384" r="12.5" fill-opacity="0.042"/>
<circle cx="425.7" cy="386.7" r="12.5" fill-opacity="0.042"/>
<circle cx="425.7" cy="389.4" r="12.5" fill-opacity="0.042"/>
<circle cx="425.7" cy="244.6" r="12.5"/>
</g>
<g fill="#00FFFF">
<circle cx="542.3" cy="227.3" r="12.5" fill-opacity="0.072"/>
<circle cx="542.3" cy="230" r="12.5" fill-opacity="0.072"/>
<circle cx="542.3" cy="232.7" r="12.5" fill-opacity="0.072"/>
<circle cx="542.3" cy="230.3" r="12.5" fill-opacity="0.157"/>
<circle cx="542.3" cy="233" r="12.5" fill-opacity="0.157"/>
<circle cx="542.3" cy="235.7" r="12.5" fill-opacity="0.157"/>
<circle cx="542.3" cy="234.3" r="12.5" fill-opacity="0.263"/>
<circle cx="542.3" cy="237" r="12.5" fill-opacity="0.263"/>
<circle cx="542.3" cy="239.7" r="12.5" fill-opacity="0.263"/>
<circle cx="542.3" cy="238.3" r="12.5" fill-opacity="0.263"/>
<circle cx="542.3" cy="241" r="12.5" fill-opacity="0.263"/>
<circle cx="542.3" cy="243.7" r="12.5" fill-opacity="0.263"/>
<circle cx="542.3" cy="242.3" r="12.5" fill-opacity="0.263"/>
<circle cx="542.3" cy="245" r="12.5" fill-opacity="0.263"/>
<circle cx="542.3" cy="247.7" r="12.5" fill-opacity="0.263"/>
<circle cx="542.3" cy="249.3" r="12.5" fill-opacity="0.263"/>
<circle cx="542.3" cy="252" r="12.5" fill-opacity="0.263"/>
<circle cx="542.3" cy="254.7" r="12.5" fill-opacity="0.263"/>
<circle cx="542.3" cy="253.3" r="12.5" fill-opacity="0.263"/>
<circle cx="542.3" cy="256" r="12.5" fill-opacity="0.263"/>
<circle cx="542.3" cy="258.7" r="12.5" fill-opacity="0.263"/>
<circle cx="542.3" cy="257.3" r="12.5" fill-opacity="0.206"/>
<circle cx="542.3" cy="260" r="12.5" fill-opacity="0.206"/>
<circle cx="542.3" cy="262.7" r="12.5" fill-opacity="0.206"/>
<circle cx="542.3" cy="263.3" r="12.5" fill-opacity="0.112"/>
<circle cx="542.3" cy="266" r="12.5" fill-opacity="0.112"/>
<circle cx="542.3" cy="268.7" r="12.5" fill-opacity="0.112"/>
<circle cx="542.3" cy="268.3" r="12.5" fill-opacity="0.053"/>
<circle cx="542.3" cy="271" r="12.5" fill-opacity="0.053"/>
<circle cx="542.3" cy="273.7" r="12.5" fill-opacity="0.053"/>
<circle cx="542.3" cy="248" r="12.5"/>
</g>
<g fill="#FF00FF">
<circle cx="658.7" cy="55" r="12.5" fill-opacity="0.024"/>
<circle cx="658.7" cy="57.7" r="12.5" fill-opacity="0.024"/>
<circle cx="658.7" cy="60.4" r="12.5" fill-opacity="0.024"/>
<circle cx="658.7" cy="70.9" r="12.5" fill-opacity="0.024"/>
<circle cx="658.7" cy="73.6" r="12.5" fill-opacity="0.024"/>
<circle cx="658.7" cy="76.3" r="12.5" fill-opacity="0.024"/>
<circle cx="658.7" cy="99.9" r="12.5" fill-opacity="0.042"/>
<circle cx="658.7" cy="102.6" r="12.5" fill-opacity="0.042"/>
<circle cx="658.7" cy="105.3" r="12.5" fill-opacity="0.042"/>
<circle cx="658.7" cy="110.1" r="12.5" fill-opacity="0.053"/>
<circle cx="658.7" cy="112.8" r="12.5" fill-opacity="0.053"/>
<circle cx="658.7" cy="115.5" r="12.5" fill-opacity="0.053"/>
<circle cx="658.7" cy="118.7" r="12.5" fill-opacity="0.053"/>
<circle cx="658.7" cy="121.4" r="12.5" fill-opacity="0.053"/>
<circle cx="658.7" cy="124.1" r="12.5" fill-opacity="0.053"/>
<circle cx="658.7" cy="127.3" r="12.5" fill-opacity="0.053"/>
<circle cx="658.7" cy="130" r="12.5" fill-opacity="0.053"/>
<circle cx="658.7" cy="132.7" r="12.5" fill-opacity="0.053"/>
<circle cx="658.7" cy="133.3" r="12.5" fill-opacity="0.112"/>
<circle cx="658.7" cy="136" r="12.5" fill-opacity="0.112"/>
<circle cx="658.7" cy="138.7" r="12.5" fill-opacity="0.112"/>
<circle cx="658.7" cy="139.3" r="12.5" fill-opacity="0.072"/>
<circle cx="658.7" cy="142" r="12.5" fill-opacity="0.072"/>
<circle cx="658.7" cy="144.7" r="12.5" fill-opacity="0.072"/>
<circle cx="658.7" cy="144.8" r="12.5" fill-opacity="0.134"/>
<circle cx="658.7" cy="147.5" r="12.5" fill-opacity="0.134"/>
<circle cx="658.7" cy="150.2" r="12.5" fill-opacity="0.134"/>
<circle cx="658.7" cy="150.3" r="12.5" fill-opacity="0.072"/>
<circle cx="658.7" cy="153" r="12.5" fill-opacity="0.072"/>
<circle cx="658.7" cy="155.7" r="12.5" fill-opacity="0.072"/>
<circle cx="658.7" cy="156.3" r="12.5" fill-opacity="0.157"/>
<circle cx="658.7" cy="159" r="12.5" fill-opacity="0.157"/>
<circle cx="658.7" cy="161.7" r="12.5" fill-opacity="0.157"/>
<circle cx="658.7" cy="162.3" r="12.5" fill-opacity="0.112"/>
<circle cx="658.7" cy="165" r="12.5" fill-opacity="0.112"/>
<circle cx="658.7" cy="167.7" r="12.5" fill-opacity="0.112"/>
<circle cx="658.7" cy="182.3" r="12.5" fill-opacity="0.263"/>
<circle cx="658.7" cy="185" r="12.5" fill-opacity="0.263"/>
<circle cx="658.7" cy="187.7" r="12.5" fill-opacity="0.263"/>
<circle cx="658.7" cy="188.3" r="12.5" fill-opacity="0.112"/>
<circle cx="658.7" cy="191" r="12.5" fill-opacity="0.112"/>
<circle cx="658.7" cy="193.7" r="12.5" fill-opacity="0.112"/>
<circle cx="658.7" cy="194.1" r="12.5" fill-opacity="0.157"/>
<circle cx="658.7" cy="196.8" r="12.5" fill-opacity="0.157"/>
<circle cx="658.7" cy="199.5" r="12.5" fill-opacity="0.157"/>
<circle cx="658.7" cy="200.3" r="12.5" fill-opacity="0.072"/>
<circle cx="658.7" cy="203" r="12.5" fill-opacity="0.072"/>
<circle cx="658.7" cy="205.7" r="12.5" fill-opacity="0.072"/>
<circle cx="658.7" cy="205.7" r="12.5" fill-opacity="0.112"/>
<circle cx="658.7" cy="208.4" r="12.5" fill-opacity="0.112"/>
<circle cx="658.7" cy="211.1" r="12.5" fill-opacity="0.112"/>
<circle cx="658.7" cy="211.3" r="12.5" fill-opacity="0.035"/>
<circle cx="658.7" cy="214" r="12.5" fill-opacity="0.035"/>
<circle cx="658.7" cy="216.7" r="12.5" fill-opacity="0.035"/>
<circle cx="658.7" cy="217.3" r="12.5" fill-opacity="0.053"/>
<circle cx="658.7" cy="220" r="12.5" fill-opacity="0.053"/>
<circle cx="658.7" cy="222.7" r="12.5" fill-opacity="0.053"/>
<circle cx="658.7" cy="226" r="12.5" fill-opacity="0.027"/>
<circle cx="658.7" cy="228.7" r="12.5" fill-opacity="0.027"/>
<circle cx="658.7" cy="231.4" r="12.5" fill-opacity="0.027"/>
<circle cx="658.7" cy="173" r="12.5"/>
</g>
<g fill="#FFA500">
<circle cx="775" cy="244.3" r="12.5" fill-opacity="0.112"/>
<circle cx="775" cy="247" r="12.5" fill-opacity="0.112"/>
<circle cx="775" cy="249.7" r="12.5" fill-opacity="0.112"/>
<circle cx="775" cy="246.3" r="12.5" fill-opacity="0.157"/>
<circle cx="775" cy="249" r="12.5" fill-opacity="0.157"/>
<circle cx="775" cy="251.7" r="12.5" fill-opacity="0.157"/>
<circle cx="775" cy="250.3" r="12.5" fill-opacity="0.157"/>
<circle cx="775" cy="253" r="12.5" fill-opacity="0.157"/>
<circle cx="775" cy="255.7" r="12.5" fill-opacity="0.157"/>
<circle cx="775" cy="255" r="12.5" fill-opacity="0.263"/>
<circle cx="775" cy="257.7" r="12.5" fill-opacity="0.263"/>
<circle cx="775" cy="260.4" r="12.5" fill-opacity="0.263"/>
<circle cx="775" cy="259.3" r="12.5" fill-opacity="0.206"/>
<circle cx="775" cy="262" r="12.5" fill-opacity="0.206"/>
<circle cx="775" cy="264.7" r="12.5" fill-opacity="0.206"/>
<circle cx="775" cy="263.7" r="12.5" fill-opacity="0.263"/>
<circle cx="775" cy="266.4" r="12.5" fill-opacity="0.263"/>
<circle cx="775" cy="269.1" r="12.5" fill-opacity="0.263"/>
<circle cx="775" cy="268.3" r="12.5" fill-opacity="0.157"/>
<circle cx="775" cy="271" r="12.5" fill-opacity="0.157"/>
<circle cx="775" cy="273.7" r="12.5" fill-opacity="0.157"/>
<circle cx="775" cy="272.3" r="12.5" fill-opacity="0.157"/>
<circle cx="775" cy="275" r="12.5" fill-opacity="0.157"/>
<circle cx="775" cy="277.7" r="12.5" fill-opacity="0.157"/>
<circle cx="775" cy="276.3" r="12.5" fill-opacity="0.072"/>
<circle cx="775" cy="279" r="12.5" fill-opacity="0.072"/>
<circle cx="775" cy="281.7" r="12.5" fill-opacity="0.072"/>
<circle cx="775" cy="281.1" r="12.5" fill-opacity="0.112"/>
<circle cx="775" cy="283.8" r="12.5" fill-opacity="0.112"/>
<circle cx="775" cy="286.5" r="12.5" fill-opacity="0.112"/>
<circle cx="775" cy="289.8" r="12.5" fill-opacity="0.091"/>
<circle cx="775" cy="292.5" r="12.5" fill-opacity="0.091"/>
<circle cx="775" cy="295.2" r="12.5" fill-opacity="0.091"/>
<circle cx="775" cy="315.9" r="12.5" fill-opacity="0.157"/>
<circle cx="775" cy="318.6" r="12.5" fill-opacity="0.157"/>
<circle cx="775" cy="321.3" r="12.5" fill-opacity="0.157"/>
<circle cx="775" cy="320.3" r="12.5" fill-opacity="0.072"/>
<circle cx="775" cy="323" r="12.5" fill-opacity="0.072"/>
<circle cx="775" cy="325.7" r="12.5" fill-opacity="0.072"/>
<circle cx="775" cy="324.3" r="12.5" fill-opacity="0.072"/>
<circle cx="775" cy="327" r="12.5" fill-opacity="0.072"/>
<circle cx="775" cy="329.7" r="12.5" fill-opacity="0.072"/>
<circle cx="775" cy="331.8" r="12.5" fill-opacity="0.027"/>
<circle cx="775" cy="334.5" r="12.5" fill-opacity="0.027"/>
<circle cx="775" cy="337.2" r="12.5" fill-opacity="0.027"/>
<circle cx="775" cy="309.3" r="12.5"/>
</g>
<g fill="#000000">
<circle cx="891.4" cy="240.3" r="12.5" fill-opacity="0.053"/>
<circle cx="891.4" cy="243" r="12.5" fill-opacity="0.053"/>
<circle cx="891.4" cy="245.7" r="12.5" fill-opacity="0.053"/>
<circle cx="891.4" cy="243.3" r="12.5" fill-opacity="0.072"/>
<circle cx="891.4" cy="246" r="12.5" fill-opacity="0.072"/>
<circle cx="891.4" cy="248.7" r="12.5" fill-opacity="0.072"/>
<circle cx="891.4" cy="246.3" r="12.5" fill-opacity="0.112"/>
<circle cx="891.4" cy="249" r="12.5" fill-opacity="0.112"/>
<circle cx="891.4" cy="251.7" r="12.5" fill-opacity="0.112"/>
<circle cx="891.4" cy="250.3" r="12.5" fill-opacity="0.157"/>
<circle cx="891.4" cy="253" r="12.5" fill-opacity="0.157"/>
<circle cx="891.4" cy="255.7" r="12.5" fill-opacity="0.157"/>
<circle cx="891.4" cy="255" r="12.5" fill-opacity="0.263"/>
<circle cx="891.4" cy="257.7" r="12.5" fill-opacity="0.263"/>
<circle cx="891.4" cy="260.4" r="12.5" fill-opacity="0.263"/>
<circle cx="891.4" cy="259.3" r="12.5" fill-opacity="0.263"/>
<circle cx="891.4" cy="262" r="12.5" fill-opacity="0.263"/>
<circle cx="891.4" cy="264.7" r="12.5" fill-opacity="0.263"/>
<circle cx="891.4" cy="278.3" r="12.5" fill-opacity="0.112"/>
<circle cx="891.4" cy="281" r="12.5" fill-opacity="0.112"/>
<circle cx="891.4" cy="283.7" r="12.5" fill-opacity="0.112"/>
<circle cx="891.4" cy="274.3" r="12.5" fill-opacity="0.157"/>
<circle cx="891.4" cy="277" r="12.5" fill-opacity="0.157"/>
<circle cx="891.4" cy="279.7" r="12.5" fill-opacity="0.157"/>
<circle cx="891.4" cy="282.3" r="12.5" fill-opacity="0.072"/>
<circle cx="891.4" cy="285" r="12.5" fill-opacity="0.072"/>
<circle cx="891.4" cy="287.7" r="12.5" fill-opacity="0.072"/>
<circle cx="891.4" cy="286.9" r="12.5" fill-opacity="0.072"/>
<circle cx="891.4" cy="289.6" r="12.5" fill-opacity="0.072"/>
<circle cx="891.4" cy="292.3" r="12.5" fill-opacity="0.072"/>
<circle cx="891.4" cy="291.3" r="12.5" fill-opacity="0.035"/>
<circle cx="891.4" cy="294" r="12.5" fill-opacity="0.035"/>
<circle cx="891.4" cy="296.7" r="12.5" fill-opacity="0.035"/>
<circle cx="891.4" cy="295.3" r="12.5" fill-opacity="0.035"/>
<circle cx="891.4" cy="298" r="12.5" fill-opacity="0.035"/>
<circle cx="891.4" cy="300.7" r="12.5" fill-opacity="0.035"/>
<circle cx="891.4" cy="269.3" r="12.5"/>
<circle cx="891.4" cy="262.3" r="12.5" fill-opacity="0.415"/>
<circle cx="891.4" cy="265" r="12.5" fill-opacity="0.415"/>
<circle cx="891.4" cy="267.7" r="12.5" fill-opacity="0.415"/>
<circle cx="891.4" cy="270.3" r="12.5" fill-opacity="0.415"/>
<circle cx="891.4" cy="273" r="12.5" fill-opacity="0.415"/>
<circle cx="891.4" cy="275.7" r="12.5" fill-opacity="0.415"/>
</g>
<path d="M165.5 258.5H919" stroke="#000" stroke-width="3.5" stroke-dasharray="14.15 14.15" stroke-linecap="round" fill="none"/>
<rect x="1130.3" y="1.7" width="331.5" height="357" fill="#fff" stroke="#000" stroke-width="3.2"/>
<g font-family="'Liberation Sans', Arial, Helvetica, sans-serif" font-size="47" fill="#000">
<circle cx="1171" cy="50.2" r="12" fill="#FF0000"/>
<text transform="translate(1211.6 64.6) scale(0.967 1)">Androsace</text>
<circle cx="1171" cy="93.7" r="12" fill="#66CDAA"/>
<text transform="translate(1211.6 108.1) scale(0.967 1)">Campanula</text>
<circle cx="1171" cy="137.1" r="12" fill="#0000FF"/>
<text transform="translate(1211.6 151.5) scale(0.967 1)">Gentiana</text>
<circle cx="1171" cy="180.6" r="12" fill="#00FFFF"/>
<text transform="translate(1211.6 195) scale(0.967 1)">Phyteuma</text>
<circle cx="1171" cy="224" r="12" fill="#FF00FF"/>
<text transform="translate(1211.6 238.4) scale(0.967 1)">Primula</text>
<circle cx="1171" cy="267.4" r="12" fill="#FFA500"/>
<text transform="translate(1211.6 281.8) scale(0.967 1)">Saxifraga</text>
<circle cx="1171" cy="310.9" r="12" fill="#000000"/>
<text transform="translate(1211.6 325.3) scale(0.967 1)">shared</text>
<text text-anchor="middle" transform="translate(237 1098.6) scale(0.943 1)">-40</text>
<text text-anchor="middle" transform="translate(683.7 1098.6) scale(0.943 1)">-30</text>
<text text-anchor="middle" transform="translate(1130.4 1098.6) scale(0.943 1)">-20</text>
<text text-anchor="middle" transform="translate(1577.1 1098.6) scale(0.943 1)">-10</text>
<text text-anchor="middle" transform="translate(2023.8 1098.6) scale(0.943 1)">0</text>
<text text-anchor="middle" transform="translate(1129 1165.5) scale(0.967 1)">time[Ma]</text>
<text text-anchor="middle" transform="translate(112.6 966.5) rotate(-90) scale(0.943 1)">1</text>
<text text-anchor="middle" transform="translate(112.6 812.5) rotate(-90) scale(0.943 1)">2</text>
<text text-anchor="middle" transform="translate(112.6 608.9) rotate(-90) scale(0.943 1)">5</text>
<text text-anchor="middle" transform="translate(112.6 454.9) rotate(-90) scale(0.943 1)">10</text>
<text text-anchor="middle" transform="translate(112.6 300.9) rotate(-90) scale(0.943 1)">20</text>
<text text-anchor="middle" transform="translate(112.6 97.3) rotate(-90) scale(0.943 1)">50</text>
<text text-anchor="middle" transform="translate(35.2 504) rotate(-90) scale(0.959 1)">number of lineages</text>
<text text-anchor="middle" transform="translate(998 40.5) rotate(-90) scale(0.943 1)">1.0</text>
<text text-anchor="middle" transform="translate(998 159.7) rotate(-90) scale(0.943 1)">0.5</text>
<text text-anchor="middle" transform="translate(998 278.8) rotate(-90) scale(0.943 1)">0.0</text>
<text text-anchor="middle" transform="translate(998 398) rotate(-90) scale(0.943 1)">-0.5</text>
<text text-anchor="middle" transform="translate(998 517.1) rotate(-90) scale(0.943 1)">-1.0</text>
<text text-anchor="middle" transform="translate(1058.4 258.5) rotate(-90) scale(0.951 1)">Δ speciation rate</text>
<text transform="translate(315 54.8) scale(0.938 1)">slower in colder periods</text>
<text transform="translate(323 485.2) scale(0.943 1)">faster in colder periods</text>
<text font-weight="bold" font-size="98" transform="translate(183.6 84) scale(1.0 1)">b</text>
<text font-weight="bold" font-size="98" transform="translate(189.2 605.7) scale(0.94 1)">a</text>
</g>
</svg>
</body></html>
